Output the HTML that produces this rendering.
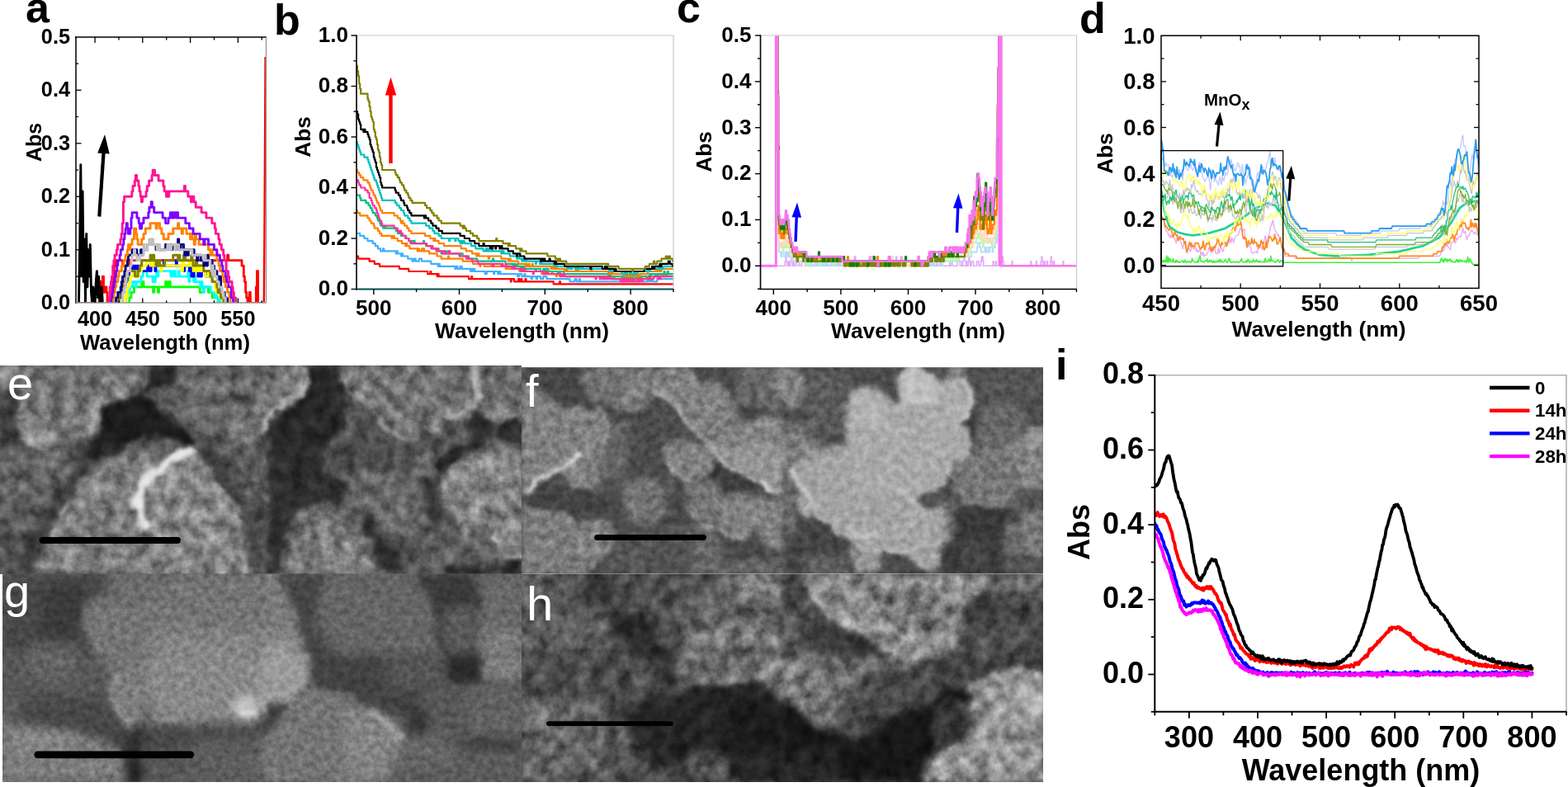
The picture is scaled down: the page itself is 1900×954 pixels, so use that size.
<!DOCTYPE html>
<html lang="en"><head><meta charset="utf-8"><title>Figure</title>
<style>
html,body{margin:0;padding:0;background:#fff;}
body{width:1900px;height:954px;overflow:hidden;}
svg{display:block;font-family:"Liberation Sans", Arial, Helvetica, sans-serif;}
</style></head><body>
<svg width="1900" height="954" viewBox="0 0 1900 954">
<rect width="1900" height="954" fill="#fff"/>
<defs>
<filter id="bl2" x="-30%" y="-30%" width="160%" height="160%" filterUnits="objectBoundingBox" color-interpolation-filters="sRGB"><feGaussianBlur stdDeviation="2"/></filter>
<filter id="bl2_5" x="-30%" y="-30%" width="160%" height="160%" filterUnits="objectBoundingBox" color-interpolation-filters="sRGB"><feGaussianBlur stdDeviation="2.5"/></filter>
<filter id="bl3" x="-30%" y="-30%" width="160%" height="160%" filterUnits="objectBoundingBox" color-interpolation-filters="sRGB"><feGaussianBlur stdDeviation="3"/></filter>
<filter id="bl4" x="-30%" y="-30%" width="160%" height="160%" filterUnits="objectBoundingBox" color-interpolation-filters="sRGB"><feGaussianBlur stdDeviation="4"/></filter>
<filter id="bl5" x="-30%" y="-30%" width="160%" height="160%" filterUnits="objectBoundingBox" color-interpolation-filters="sRGB"><feGaussianBlur stdDeviation="5"/></filter>
<filter id="bl6" x="-30%" y="-30%" width="160%" height="160%" filterUnits="objectBoundingBox" color-interpolation-filters="sRGB"><feGaussianBlur stdDeviation="6"/></filter>
<filter id="bl8" x="-30%" y="-30%" width="160%" height="160%" filterUnits="objectBoundingBox" color-interpolation-filters="sRGB"><feGaussianBlur stdDeviation="8"/></filter>
<filter id="bl10" x="-30%" y="-30%" width="160%" height="160%" filterUnits="objectBoundingBox" color-interpolation-filters="sRGB"><feGaussianBlur stdDeviation="10"/></filter>
<filter id="lump_e" filterUnits="userSpaceOnUse" x="-30" y="413" width="692" height="313" color-interpolation-filters="sRGB"><feTurbulence type="fractalNoise" baseFrequency="0.05" numOctaves="2" seed="14" result="t"/><feDisplacementMap in="SourceGraphic" in2="t" scale="14" xChannelSelector="R" yChannelSelector="G" result="d"/><feGaussianBlur in="d" stdDeviation="1.3" result="b"/><feTurbulence type="fractalNoise" baseFrequency="0.065" numOctaves="4" seed="3" result="n0"/><feColorMatrix in="n0" type="matrix" values="0.6 0 0 0 0.2  0.6 0 0 0 0.2  0.6 0 0 0 0.2  0 0 0 0 1" result="n"/><feBlend in="n" in2="b" mode="overlay"/></filter>
<filter id="lump_f" filterUnits="userSpaceOnUse" x="602" y="415.3" width="692" height="310" color-interpolation-filters="sRGB"><feTurbulence type="fractalNoise" baseFrequency="0.05" numOctaves="2" seed="16" result="t"/><feDisplacementMap in="SourceGraphic" in2="t" scale="7" xChannelSelector="R" yChannelSelector="G" result="d"/><feGaussianBlur in="d" stdDeviation="1.3" result="b"/><feTurbulence type="fractalNoise" baseFrequency="0.11" numOctaves="4" seed="5" result="n0"/><feColorMatrix in="n0" type="matrix" values="0.36 0 0 0 0.32  0.36 0 0 0 0.32  0.36 0 0 0 0.32  0 0 0 0 1" result="n"/><feBlend in="n" in2="b" mode="overlay"/></filter>
<filter id="lump_g" filterUnits="userSpaceOnUse" x="-27" y="665.6" width="689" height="312.3" color-interpolation-filters="sRGB"><feTurbulence type="fractalNoise" baseFrequency="0.03" numOctaves="2" seed="18" result="t"/><feDisplacementMap in="SourceGraphic" in2="t" scale="10" xChannelSelector="R" yChannelSelector="G" result="d"/><feGaussianBlur in="d" stdDeviation="2.5" result="b"/><feTurbulence type="fractalNoise" baseFrequency="0.13" numOctaves="3" seed="7" result="n0"/><feColorMatrix in="n0" type="matrix" values="0.3 0 0 0 0.35  0.3 0 0 0 0.35  0.3 0 0 0 0.35  0 0 0 0 1" result="n"/><feBlend in="n" in2="b" mode="overlay"/></filter>
<filter id="lump_h" filterUnits="userSpaceOnUse" x="602" y="665.4" width="692" height="312.5" color-interpolation-filters="sRGB"><feTurbulence type="fractalNoise" baseFrequency="0.05" numOctaves="2" seed="20" result="t"/><feDisplacementMap in="SourceGraphic" in2="t" scale="14" xChannelSelector="R" yChannelSelector="G" result="d"/><feGaussianBlur in="d" stdDeviation="1.6" result="b"/><feTurbulence type="fractalNoise" baseFrequency="0.06" numOctaves="4" seed="9" result="n0"/><feColorMatrix in="n0" type="matrix" values="0.7 0 0 0 0.15000000000000002  0.7 0 0 0 0.15000000000000002  0.7 0 0 0 0.15000000000000002  0 0 0 0 1" result="n"/><feBlend in="n" in2="b" mode="overlay"/></filter>
</defs>
<clipPath id="clip_e"><rect x="0" y="443" width="632" height="253"/></clipPath>
<g clip-path="url(#clip_e)">
<g filter="url(#lump_e)">
<rect x="-30" y="413" width="692" height="313" fill="#5b5b5b"/>
<g filter="url(#bl4)">
<polygon points="213.5,443.3 317.0,443.3 317.0,540.1 283.6,533.4 240.2,533.4 215.2,513.4 200.2,501.7 188.5,488.4 206.9,465.0" fill="#636363"/>
</g>
<g filter="url(#bl3)">
<polygon points="25.0,473.4 33.4,443.3 176.8,443.3 181.8,461.7 166.8,478.4 133.5,490.1 123.5,496.7 123.5,511.7 116.8,523.4 100.1,523.4 80.1,513.4 66.7,540.1 55.1,548.4 38.4,536.8 25.0,515.1" fill="#777777"/>
</g>
<g filter="url(#bl6)">
<polygon points="33.4,443.3 176.8,443.3 181.8,461.7 166.8,478.4 133.5,490.1 100.1,481.7 50.1,473.4" fill="#6c6c6c"/>
<polygon points="116.8,456.7 158.5,456.7 158.5,486.7 125.1,493.4" fill="#848484"/>
</g>
<g filter="url(#bl4)">
<polygon points="91.8,486.7 123.5,490.1 123.5,511.7 116.8,523.4 100.1,523.4 86.8,510.1" fill="#888888"/>
<polygon points="38.4,520.1 66.7,523.4 66.7,540.1 55.1,548.4 38.4,536.8" fill="#919191"/>
</g>
<g filter="url(#bl5)">
<polygon points="0.0,548.4 16.7,543.4 55.1,550.1 80.1,526.8 93.4,556.8 93.4,599.0 0.0,599.0" fill="#646464"/>
</g>
<g filter="url(#bl3)">
<polygon points="0.0,471.7 21.7,473.4 25.0,495.1 21.7,523.4 13.3,543.4 0.0,548.4" fill="#3c3c3c"/>
</g>
<g filter="url(#bl4)">
<polygon points="0.0,443.3 23.4,443.3 16.7,456.7 6.7,466.7 0.0,470.0" fill="#b6b6b6"/>
</g>
<g filter="url(#bl3)">
<polygon points="123.5,496.7 133.5,490.1 163.5,478.4 176.8,481.7 188.5,488.4 200.2,501.7 215.2,513.4 233.6,526.8 240.2,536.8 230.2,540.1 216.9,533.4 200.2,533.4 183.5,530.1 173.5,530.1 160.2,535.1 150.2,543.4 141.8,548.4 130.1,548.4 116.8,556.8 106.8,566.8 93.4,560.1 100.1,548.4 110.1,535.1 116.8,523.4 123.5,511.7" fill="#1c1c1c"/>
<polygon points="176.8,443.3 211.9,443.3 213.5,453.3 206.9,465.0 191.9,471.7 175.2,480.0 166.8,478.4 181.8,461.7" fill="#272727"/>
</g>
<g filter="url(#bl6)">
<polygon points="225.2,456.7 250.3,456.7 250.3,481.7 225.2,481.7" fill="#737373"/>
<polygon points="275.3,460.0 300.3,460.0 300.3,478.4 275.3,483.4" fill="#737373"/>
</g>
<g filter="url(#bl4)">
<polygon points="283.6,478.4 300.3,478.4 300.3,488.4 283.6,488.4" fill="#363636"/>
</g>
<g filter="url(#bl6)">
<polygon points="275.3,490.1 317.0,490.1 317.0,540.1 275.3,533.4" fill="#707070"/>
</g>
<g filter="url(#bl3)">
<polyline points="25.0,481.7 25.0,515.1 38.4,536.8 55.1,548.4" fill="none" stroke="#9c9c9c" stroke-width="6.7" stroke-linecap="round" stroke-linejoin="round"/>
<polyline points="100.1,523.4 113.4,521.7 121.8,511.7" fill="none" stroke="#9c9c9c" stroke-width="5.0" stroke-linecap="round" stroke-linejoin="round"/>
<polygon points="417.1,443.3 634.0,443.3 634.0,506.7 609.0,511.7 592.3,503.4 573.9,488.4 567.3,493.4 555.6,506.7 540.6,500.1 533.9,510.1 537.2,520.1 523.9,523.4 513.9,518.4 508.9,530.1 497.2,536.8 483.8,528.4 470.5,526.8 463.8,515.1 455.5,503.4 450.5,495.1 440.5,486.7 427.1,478.4 417.1,466.7 410.4,456.7" fill="#717171"/>
</g>
<g filter="url(#bl4)">
<polygon points="417.1,490.1 450.5,495.1 463.8,515.1 470.5,526.8 497.2,536.8 508.9,530.1 523.9,523.4 540.6,500.1 557.2,511.7 562.2,533.4 550.6,548.4 530.5,570.1 508.9,580.1 483.8,573.5 450.5,570.1 417.1,573.5 390.4,546.8 392.1,533.4 417.1,520.1" fill="#525252"/>
</g>
<g filter="url(#bl3)">
<polygon points="317.0,443.3 372.1,443.3 373.7,460.0 367.1,476.7 347.0,493.4 327.0,510.1 317.0,526.8" fill="#777777"/>
<polygon points="372.1,443.3 417.1,443.3 410.4,460.0 417.1,473.4 420.4,490.1 413.8,506.7 417.1,520.1 403.8,530.1 392.1,533.4 390.4,546.8 393.7,566.8 387.1,573.5 380.4,583.5 372.1,599.0 327.0,599.0 330.3,573.5 325.3,556.8 325.3,523.4 327.0,510.1 347.0,493.4 367.1,476.7 373.7,460.0" fill="#272727"/>
<polygon points="577.3,495.1 592.3,505.1 600.6,513.4 597.3,533.4 590.6,540.1 577.3,546.8 563.9,556.8 550.6,570.1 533.9,583.5 525.5,599.0 508.9,599.0 517.2,583.5 537.2,570.1 557.2,550.1 570.6,533.4 567.3,511.7 572.3,500.1" fill="#303030"/>
<polygon points="604.0,515.1 609.0,511.7 634.0,506.7 634.0,540.1 617.3,536.8 604.0,533.4" fill="#2d2d2d"/>
</g>
<g filter="url(#bl5)">
<polygon points="467.2,546.8 500.5,546.8 500.5,560.1 467.2,560.1" fill="#2d2d2d"/>
</g>
<g filter="url(#bl2)">
<polyline points="367.1,446.7 372.1,460.0 363.7,476.7 347.0,490.1 330.3,500.1 322.0,510.1 318.7,526.8" fill="none" stroke="#b6b6b6" stroke-width="5.0" stroke-linecap="round" stroke-linejoin="round"/>
<polyline points="413.8,456.7 423.8,473.4 440.5,485.0 453.8,496.7 463.8,518.4 477.2,526.8 493.8,535.1 508.9,530.1" fill="none" stroke="#a4a4a4" stroke-width="3.7" stroke-linecap="round" stroke-linejoin="round"/>
<polyline points="573.9,446.7 580.6,478.4 570.6,491.7 555.6,505.1 540.6,500.1" fill="none" stroke="#c1c1c1" stroke-width="4.3" stroke-linecap="round" stroke-linejoin="round"/>
<polyline points="630.6,503.4 607.3,511.7 592.3,503.4" fill="none" stroke="#ababab" stroke-width="3.7" stroke-linecap="round" stroke-linejoin="round"/>
<polyline points="517.2,521.7 533.9,520.1" fill="none" stroke="#959595" stroke-width="3.7" stroke-linecap="round" stroke-linejoin="round"/>
</g>
<g filter="url(#bl5)">
<polygon points="93.4,540.0 150.2,540.0 146.8,550.0 120.1,556.7 116.8,570.0 100.1,578.4 90.1,595.1 83.4,606.7 71.7,615.1 63.4,633.4 60.1,650.1 50.1,673.5 43.4,696.0 10.0,696.0 16.7,673.5 33.4,646.8 50.1,626.8 63.4,606.7 73.4,590.1 86.8,573.4 93.4,556.7" fill="#414141"/>
<polygon points="0.0,640.1 16.7,640.1 33.4,646.8 16.7,673.5 10.0,696.0 0.0,696.0" fill="#525252"/>
</g>
<g filter="url(#bl4)">
<polygon points="100.1,540.0 150.2,540.0 146.8,550.0 120.1,556.7 103.4,560.0" fill="#272727"/>
</g>
<g filter="url(#bl3)">
<polygon points="45.0,696.0 50.1,673.5 61.7,648.4 66.7,633.4 73.4,615.1 86.8,605.1 93.4,590.1 100.1,578.4 116.8,570.0 120.1,556.7 133.5,553.3 150.2,548.3 166.8,546.7 183.5,553.3 200.2,558.4 206.9,550.0 223.6,545.0 233.6,543.3 236.9,553.3 250.3,565.0 256.9,578.4 266.9,595.1 283.6,611.7 290.3,633.4 287.0,648.4 297.0,666.8 300.3,683.5 297.0,696.0" fill="#7b7b7b"/>
</g>
<g filter="url(#bl6)">
<polygon points="166.8,590.1 200.2,558.4 233.6,546.7 250.3,565.0 266.9,595.1 283.6,611.7 290.3,633.4 287.0,648.4 297.0,696.0 183.5,696.0 176.8,640.1" fill="#868686"/>
</g>
<g filter="url(#bl4)">
<polygon points="236.9,540.0 266.9,540.0 273.6,556.7 283.6,573.4 293.6,595.1 300.3,615.1 293.6,633.4 283.6,611.7 266.9,595.1 256.9,578.4 250.3,565.0 236.9,553.3" fill="#434343"/>
<polygon points="273.6,540.0 317.0,540.0 317.0,696.0 300.3,683.5 297.0,666.8 300.3,615.1 293.6,595.1 283.6,573.4" fill="#595959"/>
</g>
<g filter="url(#bl5)">
<polygon points="297.0,623.4 317.0,623.4 317.0,673.5 300.3,673.5" fill="#434343"/>
</g>
<g filter="url(#bl2_5)">
<polyline points="176.8,638.4 168.5,623.4 165.2,603.4 173.5,586.7 186.9,573.4 203.5,560.0 216.9,551.7 230.2,546.7" fill="none" stroke="#ededed" stroke-width="9.3" stroke-linecap="round" stroke-linejoin="round"/>
</g>
<g filter="url(#bl3)">
<polyline points="63.4,646.8 70.1,623.4 86.8,606.7" fill="none" stroke="#a4a4a4" stroke-width="4.0" stroke-linecap="round" stroke-linejoin="round"/>
<polyline points="250.3,570.0 266.9,596.7 283.6,613.4 290.3,633.4" fill="none" stroke="#a7a7a7" stroke-width="4.0" stroke-linecap="round" stroke-linejoin="round"/>
</g>
<g filter="url(#bl4)">
<polygon points="392.1,540.0 500.5,540.0 500.5,573.4 460.5,568.4 433.8,571.7 420.4,576.7 388.7,573.4" fill="#4c4c4c"/>
<polygon points="500.5,548.3 542.2,548.3 533.9,578.4 508.9,583.4 497.2,573.4" fill="#686868"/>
</g>
<g filter="url(#bl5)">
<polygon points="483.8,648.4 567.3,648.4 567.3,696.0 483.8,696.0" fill="#545454"/>
</g>
<g filter="url(#bl6)">
<polygon points="517.2,660.1 558.9,660.1 558.9,681.8 517.2,681.8" fill="#646464"/>
</g>
<g filter="url(#bl5)">
<polygon points="557.2,640.1 607.3,656.8 614.0,681.8 567.3,685.1 558.9,673.5" fill="#616161"/>
</g>
<g filter="url(#bl3)">
<polygon points="327.0,540.0 392.1,540.0 388.7,573.4 410.4,578.4 423.8,590.1 420.4,600.1 400.4,606.7 387.1,613.4 367.1,620.1 355.4,630.1 350.4,646.8 343.7,666.8 338.7,683.5 333.7,696.0 322.0,696.0 325.3,673.5 322.0,640.1 327.0,615.1 333.7,590.1 327.0,565.0" fill="#2e2e2e"/>
<polygon points="420.4,576.7 433.8,571.7 460.5,568.4 475.5,568.4 483.8,581.7 497.2,590.1 508.9,583.4 525.5,583.4 532.2,598.4 530.5,623.4 517.2,640.1 497.2,650.1 477.2,660.1 463.8,653.4 455.5,640.1 448.8,623.4 438.8,606.7 427.1,595.1" fill="#686868"/>
</g>
<g filter="url(#bl5)">
<polygon points="508.9,580.0 532.2,580.0 532.2,633.4 517.2,633.4" fill="#363636"/>
</g>
<g filter="url(#bl3)">
<polygon points="533.9,578.4 550.6,561.7 567.3,550.0 583.9,540.0 558.9,540.0 542.2,550.0 530.5,566.7" fill="#292929"/>
<polygon points="532.2,583.4 550.6,563.4 570.6,551.7 590.6,543.3 610.6,540.0 634.0,540.0 634.0,673.5 617.3,670.1 607.3,656.8 597.3,646.8 583.9,640.1 567.3,648.4 557.2,640.1 547.2,623.4 537.2,606.7" fill="#828282"/>
<polygon points="355.4,630.1 367.1,620.1 392.1,616.7 410.4,623.4 423.8,633.4 433.8,646.8 447.1,660.1 455.5,673.5 460.5,686.8 467.2,696.0 338.7,696.0 343.7,673.5 350.4,653.4" fill="#737373"/>
</g>
<g filter="url(#bl6)">
<polygon points="392.1,648.4 442.1,648.4 450.5,696.0 383.7,696.0" fill="#828282"/>
</g>
<g filter="url(#bl3)">
<polygon points="448.8,623.4 455.5,640.1 463.8,653.4 477.2,660.1 483.8,673.5 480.5,696.0 467.2,696.0 460.5,686.8 455.5,673.5 447.1,660.1 440.5,640.1 437.1,620.1" fill="#2d2d2d"/>
<polygon points="533.9,696.0 542.2,686.8 567.3,685.1 600.6,690.2 614.0,681.8 624.0,676.8 634.0,681.8 634.0,696.0" fill="#252525"/>
</g>
<g filter="url(#bl2_5)">
<polyline points="533.9,590.1 550.6,566.7 570.6,553.3" fill="none" stroke="#a4a4a4" stroke-width="3.7" stroke-linecap="round" stroke-linejoin="round"/>
<polyline points="600.6,648.4 614.0,670.1 631.5,678.5" fill="none" stroke="#c1c1c1" stroke-width="4.3" stroke-linecap="round" stroke-linejoin="round"/>
</g>
</g>
<line x1="51.5" y1="655" x2="215" y2="655" stroke="#000" stroke-width="7.8" stroke-linecap="round"/>
<text x="9" y="484" font-size="56" font-weight="normal" fill="#fff">e</text>
</g>
<clipPath id="clip_f"><rect x="632" y="445.3" width="632" height="250"/></clipPath>
<g clip-path="url(#clip_f)">
<g filter="url(#lump_f)">
<rect x="602" y="415.3" width="692" height="310" fill="#4c4c4c"/>
<g filter="url(#bl4)">
<polygon points="862.2,560.1 882.3,570.1 915.6,586.8 915.6,599.0 848.9,599.0 855.6,573.5" fill="#353535"/>
<polygon points="895.6,486.7 949.0,483.4 949.0,506.7 912.3,506.7" fill="#393939"/>
<polygon points="1149.2,616.7 1224.3,613.4 1224.3,695.2 1140.9,695.2" fill="#393939"/>
<polygon points="865.6,561.7 915.6,573.4 915.6,595.1 875.6,590.1" fill="#3d3d3d"/>
</g>
<g filter="url(#bl5)">
<polygon points="1165.9,481.7 1199.3,481.7 1199.3,531.8 1175.9,533.4" fill="#3f3f3f"/>
<polygon points="992.4,456.7 1032.4,456.7 1032.4,473.4 992.4,473.4" fill="#444444"/>
</g>
<g filter="url(#bl4)">
<polygon points="643.7,578.4 685.4,593.4 748.8,578.4 748.8,628.4 698.7,628.4 685.4,621.7 642.0,615.1" fill="#444444"/>
<polygon points="949.0,626.8 1029.1,626.8 1029.1,695.2 949.0,695.2" fill="#444444"/>
<polygon points="657.0,445.3 707.1,445.3 707.1,490.1 682.1,493.4 657.0,478.4" fill="#464646"/>
<polygon points="873.9,653.4 949.0,670.1 949.0,681.8 873.9,681.8" fill="#484848"/>
</g>
<g filter="url(#bl6)">
<polygon points="1165.9,656.8 1195.9,656.8 1195.9,690.2 1165.9,690.2" fill="#484848"/>
</g>
<g filter="url(#bl4)">
<polygon points="740.4,490.1 815.5,490.1 815.5,599.0 725.4,599.0 725.4,560.1 738.8,526.8" fill="#4c4c4c"/>
</g>
<g filter="url(#bl5)">
<polygon points="748.8,640.1 840.5,640.1 840.5,695.2 712.1,695.2 722.1,686.8 745.4,660.1" fill="#525252"/>
<polygon points="1165.9,445.3 1266.0,445.3 1266.0,490.1 1165.9,490.1" fill="#545454"/>
</g>
<g filter="url(#bl4)">
<polygon points="1222.6,590.1 1266.0,590.1 1266.0,618.4 1222.6,618.4" fill="#545454"/>
<polygon points="1215.9,673.5 1266.0,673.5 1266.0,695.2 1215.9,695.2" fill="#545454"/>
</g>
<g filter="url(#bl5)">
<polygon points="725.4,576.8 815.5,576.8 815.5,599.0 725.4,599.0" fill="#565656"/>
<polygon points="975.7,450.0 1029.1,450.0 1029.1,523.4 975.7,523.4" fill="#5b5b5b"/>
</g>
<g filter="url(#bl6)">
<polygon points="758.8,666.8 782.2,666.8 782.2,695.2 758.8,695.2" fill="#5b5b5b"/>
</g>
<g filter="url(#bl4)">
<polygon points="725.4,540.0 758.8,540.0 758.8,576.7 725.4,576.7" fill="#636363"/>
</g>
<g filter="url(#bl5)">
<polygon points="974.0,673.5 1029.1,673.5 1029.1,695.2 974.0,695.2" fill="#636363"/>
</g>
<g filter="url(#bl3)">
<polygon points="728.8,513.4 762.1,513.4 762.1,556.8 748.8,576.8 728.8,576.8" fill="#656565"/>
</g>
<g filter="url(#bl4)">
<polygon points="892.3,445.3 949.0,445.3 949.0,503.4 892.3,490.1" fill="#676767"/>
<polygon points="1185.9,495.1 1209.3,486.7 1232.6,488.4 1242.6,506.7 1242.6,599.0 1185.9,599.0 1182.6,540.1" fill="#676767"/>
<polygon points="823.9,640.1 873.9,640.1 873.9,681.8 840.5,681.8" fill="#676767"/>
</g>
<g filter="url(#bl3)">
<polygon points="682.1,566.8 702.1,550.1 725.4,548.4 725.4,583.5 715.4,591.8 698.7,590.2 685.4,581.8" fill="#6a6a6a"/>
</g>
<g filter="url(#bl4)">
<polygon points="1099.2,551.8 1149.2,551.8 1149.2,590.2 1099.2,590.2" fill="#6a6a6a"/>
<polygon points="840.5,681.8 949.0,678.5 949.0,695.2 840.5,695.2" fill="#6a6a6a"/>
<polygon points="949.0,540.0 965.7,540.0 965.7,648.4 949.0,648.4" fill="#6a6a6a"/>
<polygon points="1215.9,633.4 1242.6,633.4 1242.6,673.5 1215.9,673.5" fill="#6a6a6a"/>
</g>
<g filter="url(#bl3)">
<polygon points="685.4,556.7 725.4,550.0 725.4,593.4 690.4,591.7" fill="#6e6e6e"/>
<polygon points="702.1,445.3 790.5,445.3 792.2,465.0 788.8,483.4 775.5,495.1 765.5,500.1 748.8,493.4 732.1,490.1 715.4,483.4 703.7,465.0" fill="#727272"/>
<polygon points="805.5,543.4 812.2,533.4 832.2,530.1 848.9,540.1 858.9,553.4 855.6,566.8 842.2,573.5 832.2,583.5 818.9,573.5 812.2,560.1" fill="#727272"/>
<ellipse cx="780.5" cy="608.4" rx="26.7" ry="30.0" fill="#727272"/>
</g>
<g filter="url(#bl4)">
<polygon points="1099.2,550.0 1149.2,556.7 1145.9,586.7 1115.8,596.7 1099.2,590.1" fill="#727272"/>
<polygon points="1065.8,610.1 1089.1,610.1 1089.1,630.1 1072.5,633.4" fill="#727272"/>
</g>
<g filter="url(#bl5)">
<polygon points="792.2,450.0 832.2,445.3 832.2,481.7 805.5,483.4 792.2,473.4" fill="#747474"/>
</g>
<g filter="url(#bl3)">
<polygon points="832.2,583.4 872.2,581.7 875.6,606.7 872.2,633.4 852.2,636.8 835.5,620.1" fill="#767676"/>
<polygon points="1154.2,556.7 1172.6,550.0 1199.3,540.0 1224.3,540.0 1232.6,573.4 1236.0,590.1 1222.6,611.7 1202.6,613.4 1182.6,610.1 1165.9,603.4 1155.9,595.1 1152.5,573.4" fill="#767676"/>
</g>
<g filter="url(#bl5)">
<polygon points="949.0,515.1 982.4,515.1 982.4,573.5 949.0,573.5" fill="#7a7a7a"/>
</g>
<g filter="url(#bl3)">
<polygon points="1236.0,618.4 1266.0,618.4 1266.0,673.5 1242.6,673.5" fill="#7a7a7a"/>
</g>
<g filter="url(#bl4)">
<polygon points="1132.5,606.7 1155.9,606.7 1155.9,656.8 1139.2,656.8" fill="#7a7a7a"/>
</g>
<g filter="url(#bl2_5)">
<polygon points="632.0,606.7 642.0,615.1 665.4,618.4 685.4,621.7 695.4,633.4 702.1,650.1 708.7,666.8 712.1,695.2 632.0,695.2" fill="#7c7c7c"/>
</g>
<g filter="url(#bl3)">
<polygon points="862.2,506.7 888.9,503.4 912.3,513.4 912.3,556.8 898.9,573.5 878.9,563.5 865.6,546.8 855.6,533.4" fill="#7d7d7d"/>
</g>
<g filter="url(#bl5)">
<polygon points="748.8,453.3 790.5,453.3 788.8,483.4 775.5,495.1 758.8,495.1" fill="#7f7f7f"/>
</g>
<g filter="url(#bl3)">
<polygon points="1229.3,533.4 1246.0,518.4 1266.0,518.4 1266.0,590.2 1242.6,590.2 1232.6,566.8" fill="#7f7f7f"/>
</g>
<g filter="url(#bl2_5)">
<polygon points="632.0,460.0 648.7,470.0 665.4,481.7 682.1,493.4 703.7,491.7 722.1,498.4 735.4,511.7 738.8,526.8 732.1,543.4 725.4,560.1 725.4,583.5 715.4,591.8 698.7,590.2 685.4,581.8 678.7,566.8 665.4,573.5 652.0,581.8 642.0,599.0 632.0,599.0" fill="#818181"/>
<polygon points="792.2,450.0 815.5,446.7 832.2,445.3 848.9,460.0 872.2,465.0 882.3,476.7 892.3,490.1 888.9,506.7 872.2,510.1 862.2,523.4 848.9,526.8 838.9,518.4 828.9,503.4 818.9,491.7 805.5,483.4 792.2,473.4" fill="#818181"/>
<polygon points="702.1,633.4 718.8,626.8 735.4,631.8 747.1,643.4 745.4,660.1 735.4,673.5 722.1,686.8 712.1,690.2 708.7,666.8" fill="#818181"/>
</g>
<g filter="url(#bl3)">
<polygon points="805.5,540.0 865.6,540.0 865.6,565.0 848.9,581.7 823.9,578.4 808.8,560.0" fill="#818181"/>
<polygon points="915.6,603.4 949.0,603.4 949.0,670.1 932.3,666.8 915.6,640.1" fill="#818181"/>
<ellipse cx="959.0" cy="470.0" rx="16.7" ry="25.0" fill="#838383"/>
<polygon points="872.2,603.4 892.3,595.1 919.0,603.4 919.0,633.4 905.6,653.4 882.3,650.1 872.2,633.4" fill="#838383"/>
<polygon points="1224.3,540.0 1266.0,540.0 1266.0,590.1 1239.3,588.4 1232.6,573.4" fill="#858585"/>
<polygon points="898.9,520.1 915.6,506.7 932.3,503.4 949.0,506.7 949.0,599.0 935.6,599.0 922.3,581.8 905.6,556.8" fill="#878787"/>
<ellipse cx="945.6" cy="461.7" rx="8.3" ry="13.3" fill="#898989"/>
</g>
<g filter="url(#bl4)">
<polygon points="969.0,536.8 999.1,536.8 999.1,556.8 969.0,556.8" fill="#8b8b8b"/>
<polygon points="990.7,540.1 1032.4,540.1 1032.4,599.0 990.7,599.0" fill="#8d8d8d"/>
</g>
<g filter="url(#bl6)">
<polygon points="1082.5,493.4 1149.2,493.4 1149.2,548.4 1082.5,548.4" fill="#909090"/>
</g>
<g filter="url(#bl3)">
<polygon points="862.2,540.0 949.0,540.0 949.0,598.4 922.3,583.4 892.3,570.0 868.9,556.7" fill="#949494"/>
<polygon points="1029.1,660.1 1049.1,670.1 1065.8,666.8 1069.1,683.5 1059.1,695.2 1039.1,695.2 1029.1,673.5" fill="#949494"/>
</g>
<g filter="url(#bl5)">
<polygon points="1246.0,520.1 1266.0,520.1 1266.0,540.1 1246.0,540.1" fill="#989898"/>
</g>
<g filter="url(#bl3)">
<polygon points="959.0,560.1 990.7,560.1 990.7,599.0 970.7,599.0 959.0,573.5" fill="#989898"/>
</g>
<g filter="url(#bl4)">
<polygon points="1149.2,445.3 1169.2,445.3 1169.2,453.3 1149.2,456.7" fill="#989898"/>
</g>
<g filter="url(#bl3)">
<polygon points="1109.2,670.1 1125.8,656.8 1137.5,666.8 1137.5,683.5 1125.8,693.5 1112.5,686.8" fill="#989898"/>
</g>
<g filter="url(#bl2_5)">
<polygon points="960.7,568.4 972.4,560.0 992.4,550.0 1015.7,543.3 1032.4,540.0 1170.9,540.0 1172.6,550.0 1165.9,558.4 1154.2,556.7 1152.5,573.4 1145.9,586.7 1132.5,591.7 1115.8,596.7 1109.2,603.4 1122.5,620.1 1132.5,613.4 1142.5,620.1 1145.9,633.4 1145.9,653.4 1139.2,666.8 1137.5,683.5 1125.8,693.5 1112.5,686.8 1095.8,670.1 1075.8,666.8 1049.1,670.1 1035.8,656.8 1015.7,650.1 1009.1,636.8 989.0,626.8 970.7,626.8 965.7,606.7 972.4,593.4 962.3,580.0" fill="#a3a3a3"/>
<polygon points="1029.1,490.1 1032.4,476.7 1042.4,471.7 1062.4,473.4 1075.8,483.4 1082.5,491.7 1089.1,486.7 1089.1,456.7 1095.8,446.7 1112.5,445.3 1125.8,453.3 1140.9,465.0 1155.9,460.0 1164.2,456.7 1174.2,470.0 1177.6,486.7 1172.6,503.4 1162.5,511.7 1170.9,518.4 1175.9,533.4 1172.6,548.4 1165.9,558.5 1154.2,556.8 1150.9,573.5 1145.9,586.8 1132.5,596.8 1115.8,599.0 1029.1,599.0 1032.4,573.5 1027.4,556.8 1027.4,540.1 1024.1,523.4 1025.7,506.7" fill="#a9a9a9"/>
</g>
<g filter="url(#bl4)">
<polygon points="1140.9,465.0 1164.2,456.7 1174.2,470.0 1177.6,486.7 1172.6,503.4 1162.5,511.7 1140.9,506.7" fill="#ababab"/>
</g>
<g filter="url(#bl5)">
<polygon points="1029.1,490.1 1032.4,476.7 1042.4,471.7 1062.4,473.4 1075.8,483.4 1075.8,523.4 1029.1,523.4" fill="#b1b1b1"/>
</g>
<g filter="url(#bl4)">
<polygon points="1089.1,456.7 1095.8,446.7 1112.5,445.3 1125.8,453.3 1140.9,465.0 1132.5,490.1 1089.1,488.4" fill="#c0c0c0"/>
</g>
<g filter="url(#bl3)">
<polyline points="690.4,588.4 718.8,590.1" fill="none" stroke="#8d8d8d" stroke-width="4.0" stroke-linecap="round" stroke-linejoin="round"/>
</g>
<g filter="url(#bl2_5)">
<polyline points="805.5,543.4 808.8,556.8 818.9,573.5" fill="none" stroke="#989898" stroke-width="3.7" stroke-linecap="round" stroke-linejoin="round"/>
<polyline points="1165.9,605.1 1202.6,613.4 1222.6,611.7" fill="none" stroke="#989898" stroke-width="3.3" stroke-linecap="round" stroke-linejoin="round"/>
<polyline points="725.4,496.7 737.1,513.4 737.1,530.1" fill="none" stroke="#a0a0a0" stroke-width="4.3" stroke-linecap="round" stroke-linejoin="round"/>
<polyline points="687.1,623.4 702.1,650.1 710.4,673.5" fill="none" stroke="#a0a0a0" stroke-width="4.0" stroke-linecap="round" stroke-linejoin="round"/>
</g>
<g filter="url(#bl2)">
<polyline points="808.8,561.7 823.9,578.4 840.5,583.4" fill="none" stroke="#a7a7a7" stroke-width="3.3" stroke-linecap="round" stroke-linejoin="round"/>
<polyline points="837.2,620.1 852.2,636.8 872.2,640.1 882.3,650.1 905.6,655.1" fill="none" stroke="#a7a7a7" stroke-width="3.3" stroke-linecap="round" stroke-linejoin="round"/>
</g>
<g filter="url(#bl2_5)">
<polyline points="1239.3,588.4 1249.3,590.1" fill="none" stroke="#a7a7a7" stroke-width="3.3" stroke-linecap="round" stroke-linejoin="round"/>
</g>
<g filter="url(#bl2)">
<polyline points="792.2,473.4 808.8,485.0 822.2,495.1 832.2,511.7 843.9,523.4 855.6,533.4 865.6,546.8 878.9,563.5 898.9,573.5 915.6,583.5" fill="none" stroke="#bebebe" stroke-width="4.0" stroke-linecap="round" stroke-linejoin="round"/>
<polyline points="1172.6,520.1 1175.9,533.4 1172.6,548.4 1165.9,557.6" fill="none" stroke="#c6c6c6" stroke-width="3.3" stroke-linecap="round" stroke-linejoin="round"/>
<polyline points="1082.5,590.1 1105.8,606.7 1120.8,621.7 1109.2,633.4 1092.5,636.8" fill="none" stroke="#c6c6c6" stroke-width="3.3" stroke-linecap="round" stroke-linejoin="round"/>
<polyline points="985.7,606.7 989.0,625.1 1009.1,636.8 1015.7,648.4" fill="none" stroke="#c6c6c6" stroke-width="3.0" stroke-linecap="round" stroke-linejoin="round"/>
<polyline points="1165.9,458.4 1175.1,473.4 1176.7,488.4 1170.9,503.4 1162.5,510.9" fill="none" stroke="#cdcdcd" stroke-width="3.7" stroke-linecap="round" stroke-linejoin="round"/>
<polyline points="1035.8,656.8 1049.1,669.3 1075.8,666.0 1095.8,669.3 1112.5,663.5" fill="none" stroke="#cdcdcd" stroke-width="3.3" stroke-linecap="round" stroke-linejoin="round"/>
<polyline points="960.7,570.1 970.7,590.2" fill="none" stroke="#d5d5d5" stroke-width="4.0" stroke-linecap="round" stroke-linejoin="round"/>
<polyline points="1025.7,640.1 1042.4,650.1 1065.8,646.8" fill="none" stroke="#d5d5d5" stroke-width="3.7" stroke-linecap="round" stroke-linejoin="round"/>
<polyline points="960.7,570.0 972.4,593.4 985.7,606.7" fill="none" stroke="#d5d5d5" stroke-width="3.7" stroke-linecap="round" stroke-linejoin="round"/>
<polyline points="702.1,550.1 682.1,566.8 665.4,575.1 648.7,583.5 638.7,596.8" fill="none" stroke="#d9d9d9" stroke-width="5.0" stroke-linecap="round" stroke-linejoin="round"/>
<polyline points="698.7,550.0 682.1,566.7 665.4,575.0 648.7,583.4 640.3,595.1" fill="none" stroke="#dcdcdc" stroke-width="4.7" stroke-linecap="round" stroke-linejoin="round"/>
<polyline points="922.3,581.8 932.3,595.2" fill="none" stroke="#e4e4e4" stroke-width="4.3" stroke-linecap="round" stroke-linejoin="round"/>
<polyline points="922.3,581.7 935.6,595.1" fill="none" stroke="#e4e4e4" stroke-width="4.3" stroke-linecap="round" stroke-linejoin="round"/>
</g>
</g>
<line x1="723.6" y1="651.4" x2="852.4" y2="651.4" stroke="#000" stroke-width="7" stroke-linecap="round"/>
<text x="637" y="492.5" font-size="56" font-weight="normal" fill="#fff">f</text>
</g>
<clipPath id="clip_g"><rect x="3" y="695.6" width="629" height="252.3"/></clipPath>
<g clip-path="url(#clip_g)">
<g filter="url(#lump_g)">
<rect x="-27" y="665.6" width="689" height="312.3" fill="#5f5f5f"/>
<g filter="url(#bl5)">
<polygon points="0.0,695.8 133.5,695.8 110.1,726.7 100.1,748.4 103.4,773.4 120.1,798.4 0.0,798.4" fill="#484848"/>
</g>
<g filter="url(#bl8)">
<polygon points="50.1,706.7 103.4,706.7 100.1,773.4 50.1,773.4" fill="#3a3a3a"/>
</g>
<g filter="url(#bl5)">
<polygon points="133.5,695.8 191.9,695.8 191.9,726.7 150.2,728.4 133.5,715.0" fill="#6d6d6d"/>
</g>
<g filter="url(#bl4)">
<polygon points="100.1,748.4 110.1,726.7 126.8,723.4 150.2,728.4 191.9,723.4 200.2,700.0 216.9,695.8 317.0,695.8 317.0,849.0 133.5,849.0 133.5,823.5 120.1,798.4 103.4,773.4" fill="#747474"/>
</g>
<g filter="url(#bl10)">
<polygon points="183.5,765.1 317.0,765.1 317.0,849.0 183.5,849.0" fill="#868686"/>
</g>
<g filter="url(#bl6)">
<polygon points="0.0,790.1 120.1,798.4 133.5,823.5 133.5,849.0 0.0,849.0" fill="#575757"/>
</g>
<g filter="url(#bl8)">
<polygon points="33.4,783.4 93.4,783.4 93.4,823.5 33.4,823.5" fill="#656565"/>
</g>
<g filter="url(#bl4)">
<polyline points="101.8,748.4 106.8,731.7" fill="none" stroke="#787878" stroke-width="5.0" stroke-linecap="round" stroke-linejoin="round"/>
</g>
<g filter="url(#bl5)">
<polygon points="333.7,695.8 400.4,695.8 387.1,731.7 383.7,765.1 400.4,790.1 433.8,806.8 467.2,823.5 500.5,849.0 358.7,849.0 373.7,815.1 360.4,756.7 350.4,723.4" fill="#464646"/>
</g>
<g filter="url(#bl4)">
<polygon points="317.0,695.8 333.7,695.8 350.4,723.4 360.4,756.7 367.1,790.1 373.7,815.1 358.7,840.2 350.4,849.0 317.0,849.0" fill="#7c7c7c"/>
</g>
<g filter="url(#bl8)">
<polygon points="317.0,773.4 358.7,773.4 367.1,806.8 358.7,840.2 317.0,849.0" fill="#959595"/>
</g>
<g filter="url(#bl4)">
<polygon points="400.4,695.8 500.5,695.8 517.2,715.0 523.9,748.4 530.5,790.1 540.6,816.8 550.6,849.0 500.5,849.0 467.2,823.5 433.8,798.4 403.8,773.4 387.1,748.4 390.4,715.0" fill="#656565"/>
<polygon points="500.5,695.8 567.3,695.8 583.9,706.7 593.9,723.4 587.3,740.1 577.3,783.4 583.9,810.1 567.3,816.8 547.2,806.8 533.9,790.1 527.2,756.7 517.2,715.0" fill="#3a3a3a"/>
</g>
<g filter="url(#bl5)">
<polygon points="533.9,740.1 558.9,731.7 583.9,740.1 577.3,783.4 567.3,803.4 547.2,796.8 533.9,773.4" fill="#595959"/>
<polygon points="547.2,803.4 577.3,803.4 577.3,823.5 547.2,823.5" fill="#292929"/>
</g>
<g filter="url(#bl4)">
<polygon points="577.3,703.3 634.0,703.3 634.0,826.8 587.3,816.8 577.3,783.4 587.3,740.1" fill="#696969"/>
</g>
<g filter="url(#bl8)">
<polygon points="587.3,765.1 634.0,765.1 634.0,815.1 587.3,815.1" fill="#7c7c7c"/>
</g>
<g filter="url(#bl5)">
<polygon points="550.6,823.5 634.0,823.5 634.0,849.0 550.6,849.0" fill="#4e4e4e"/>
</g>
<g filter="url(#bl6)">
<polygon points="25.0,845.1 150.2,845.1 166.8,878.4 317.0,878.4 317.0,911.8 150.2,911.8 116.8,895.1 25.0,878.4" fill="#484848"/>
<polygon points="176.8,795.0 317.0,795.0 317.0,875.1 183.5,878.4" fill="#888888"/>
</g>
<g filter="url(#bl5)">
<polygon points="0.0,881.8 83.4,885.1 116.8,898.4 150.2,911.8 150.2,947.7 0.0,947.7" fill="#7c7c7c"/>
</g>
<g filter="url(#bl8)">
<polygon points="16.7,885.1 83.4,888.4 83.4,911.8 16.7,911.8" fill="#888888"/>
</g>
<g filter="url(#bl6)">
<polygon points="233.6,895.1 317.0,895.1 317.0,947.7 233.6,947.7" fill="#5d5d5d"/>
<polygon points="173.5,911.8 233.6,911.8 233.6,947.7 173.5,947.7" fill="#555555"/>
</g>
<g filter="url(#bl5)">
<polygon points="150.2,885.1 173.5,885.1 173.5,947.7 150.2,947.7" fill="#2f2f2f"/>
</g>
<g filter="url(#bl4)">
<polygon points="156.8,928.5 170.2,928.5 170.2,947.7 156.8,947.7" fill="#1f1f1f"/>
</g>
<g filter="url(#bl3)">
<polygon points="135.1,828.4 143.5,811.7 163.5,813.4 176.8,836.7 175.2,861.7 163.5,880.1 150.2,878.4 140.1,861.7" fill="#7e7e7e"/>
</g>
<g filter="url(#bl4)">
<ellipse cx="300.3" cy="856.7" rx="16.7" ry="15.0" fill="#c2c2c2"/>
</g>
<g filter="url(#bl2_5)">
<polyline points="293.6,863.4 303.6,866.7 313.6,863.4" fill="none" stroke="#f1f1f1" stroke-width="5.0" stroke-linecap="round" stroke-linejoin="round"/>
</g>
<g filter="url(#bl3)">
<polyline points="136.0,820.0 135.1,845.1 143.5,866.7 156.8,880.1" fill="none" stroke="#9f9f9f" stroke-width="4.0" stroke-linecap="round" stroke-linejoin="round"/>
</g>
<g filter="url(#bl5)">
<polygon points="373.7,795.0 533.9,795.0 542.2,811.7 508.9,870.1 450.5,860.1 400.4,836.7 367.1,833.4" fill="#424242"/>
</g>
<g filter="url(#bl6)">
<polygon points="467.2,795.0 542.2,795.0 542.2,836.7 467.2,836.7" fill="#555555"/>
</g>
<g filter="url(#bl5)">
<polygon points="542.2,795.0 583.9,795.0 583.9,828.4 542.2,828.4" fill="#2b2b2b"/>
<polygon points="583.9,795.0 634.0,795.0 634.0,825.0 583.9,825.0" fill="#7c7c7c"/>
</g>
<g filter="url(#bl6)">
<polygon points="508.9,836.7 577.3,836.7 577.3,895.1 508.9,895.1" fill="#575757"/>
<polygon points="567.3,828.4 634.0,828.4 634.0,903.4 567.3,903.4" fill="#616161"/>
</g>
<g filter="url(#bl5)">
<polygon points="492.2,861.7 517.2,861.7 517.2,895.1 492.2,895.1" fill="#363636"/>
<polygon points="550.6,895.1 634.0,895.1 634.0,908.4 550.6,908.4" fill="#3a3a3a"/>
<polygon points="483.8,903.4 634.0,908.4 634.0,947.7 467.2,947.7" fill="#5b5b5b"/>
</g>
<g filter="url(#bl8)">
<polygon points="483.8,895.1 550.6,898.4 550.6,928.5 483.8,928.5" fill="#676767"/>
</g>
<g filter="url(#bl5)">
<polygon points="317.0,850.1 350.4,850.1 350.4,895.1 317.0,895.1" fill="#3e3e3e"/>
</g>
<g filter="url(#bl4)">
<polygon points="317.0,795.0 373.7,795.0 373.7,828.4 358.7,850.1 317.0,850.1" fill="#9b9b9b"/>
</g>
<g filter="url(#bl3)">
<polygon points="317.0,895.1 333.7,878.4 350.4,853.4 367.1,833.4 400.4,836.7 425.4,845.1 450.5,860.1 487.2,895.1 480.5,911.8 470.5,931.8 467.2,947.7 317.0,947.7" fill="#747474"/>
</g>
<g filter="url(#bl8)">
<polygon points="417.1,861.7 450.5,861.7 483.8,895.1 470.5,931.8 467.2,945.2 417.1,945.2" fill="#848484"/>
</g>
<g filter="url(#bl2_5)">
<polyline points="452.1,861.7 467.2,875.1 486.3,895.1" fill="none" stroke="#cecece" stroke-width="4.3" stroke-linecap="round" stroke-linejoin="round"/>
</g>
<g filter="url(#bl3)">
<polyline points="317.0,848.4 323.7,865.1" fill="none" stroke="#e9e9e9" stroke-width="5.0" stroke-linecap="round" stroke-linejoin="round"/>
</g>
</g>
<line x1="45.8" y1="914.8" x2="230.8" y2="914.8" stroke="#000" stroke-width="8.8" stroke-linecap="round"/>
<text x="5" y="736" font-size="56" font-weight="normal" fill="#fff">g</text>
</g>
<clipPath id="clip_h"><rect x="632" y="695.4" width="632" height="252.5"/></clipPath>
<g clip-path="url(#clip_h)">
<g filter="url(#lump_h)">
<rect x="602" y="665.4" width="692" height="312.5" fill="#4a4a4a"/>
<g filter="url(#bl6)">
<polygon points="632.0,695.3 707.1,695.3 707.1,740.1 632.0,740.1" fill="#555555"/>
</g>
<g filter="url(#bl5)">
<polygon points="632.0,695.3 657.0,695.3 657.0,723.4 632.0,731.7" fill="#6f6f6f"/>
</g>
<g filter="url(#bl6)">
<polygon points="632.0,736.7 698.7,740.1 740.4,756.7 740.4,806.8 632.0,806.8" fill="#5d5d5d"/>
<polygon points="740.4,695.3 832.2,695.3 832.2,743.4 740.4,743.4" fill="#4e4e4e"/>
</g>
<g filter="url(#bl5)">
<polygon points="707.1,695.3 740.4,695.3 740.4,731.7 707.1,731.7" fill="#343434"/>
</g>
<g filter="url(#bl4)">
<polygon points="740.4,750.1 758.8,743.4 782.2,743.4 795.5,760.1 788.8,783.4 765.5,783.4 742.1,773.4" fill="#292929"/>
</g>
<g filter="url(#bl5)">
<polygon points="765.5,783.4 815.5,783.4 815.5,831.8 782.2,831.8" fill="#2d2d2d"/>
<polygon points="823.9,740.1 848.9,723.4 873.9,706.7 882.3,695.3 949.0,695.3 949.0,823.5 898.9,823.5 848.9,815.1 823.9,806.8" fill="#656565"/>
</g>
<g filter="url(#bl6)">
<polygon points="882.3,695.3 949.0,695.3 949.0,723.4 882.3,723.4" fill="#7c7c7c"/>
</g>
<g filter="url(#bl8)">
<polygon points="832.2,765.1 949.0,765.1 949.0,783.4 832.2,783.4" fill="#787878"/>
</g>
<g filter="url(#bl6)">
<polygon points="632.0,806.8 765.5,806.8 765.5,849.0 632.0,849.0" fill="#4a4a4a"/>
</g>
<g filter="url(#bl5)">
<polygon points="832.2,823.5 924.0,823.5 924.0,849.0 832.2,849.0" fill="#272727"/>
<polygon points="924.0,806.8 949.0,806.8 949.0,849.0 924.0,849.0" fill="#6d6d6d"/>
<polygon points="949.0,695.3 974.0,695.3 985.7,726.7 1002.4,745.1 949.0,740.1" fill="#464646"/>
</g>
<g filter="url(#bl6)">
<polygon points="949.0,740.1 1002.4,745.1 1024.1,760.1 1032.4,849.0 949.0,849.0" fill="#555555"/>
<polygon points="982.4,748.4 1024.1,760.1 1049.1,773.4 1049.1,790.1 982.4,790.1" fill="#3a3a3a"/>
<polygon points="1157.5,715.0 1266.0,715.0 1266.0,815.1 1157.5,815.1" fill="#4e4e4e"/>
<polygon points="1174.2,720.0 1207.6,720.0 1207.6,756.7 1174.2,756.7" fill="#383838"/>
<polygon points="1232.6,740.1 1266.0,740.1 1266.0,806.8 1232.6,806.8" fill="#464646"/>
</g>
<g filter="url(#bl5)">
<polygon points="1199.3,695.3 1266.0,695.3 1266.0,723.4 1199.3,723.4" fill="#656565"/>
</g>
<g filter="url(#bl3)">
<polygon points="974.0,695.3 1199.3,695.3 1190.9,715.0 1174.2,731.7 1165.9,756.7 1157.5,781.8 1149.2,798.4 1115.8,798.4 1099.2,806.8 1082.5,803.4 1074.1,783.4 1049.1,773.4 1024.1,760.1 1002.4,745.1 985.7,726.7 975.7,710.0" fill="#8c8c8c"/>
</g>
<g filter="url(#bl10)">
<polygon points="1049.1,706.7 1165.9,706.7 1149.2,765.1 1082.5,765.1" fill="#767676"/>
</g>
<g filter="url(#bl4)">
<polygon points="1024.1,790.1 1049.1,775.1 1074.1,786.8 1085.8,806.8 1107.5,810.1 1124.2,798.4 1149.2,803.4 1157.5,815.1 1174.2,823.5 1174.2,849.0 1015.7,849.0" fill="#2d2d2d"/>
</g>
<g filter="url(#bl5)">
<polygon points="1132.5,831.8 1174.2,831.8 1174.2,849.0 1132.5,849.0" fill="#101010"/>
</g>
<g filter="url(#bl3)">
<polygon points="1174.2,831.8 1190.9,823.5 1215.9,815.1 1232.6,806.8 1249.3,815.1 1266.0,823.5 1266.0,849.0 1182.6,849.0" fill="#959595"/>
<polyline points="975.7,706.7 1004.1,745.1 1049.1,770.1 1079.1,786.8" fill="none" stroke="#afafaf" stroke-width="5.0" stroke-linecap="round" stroke-linejoin="round"/>
</g>
<g filter="url(#bl4)">
<polyline points="965.7,790.1 982.4,815.1 999.1,840.2" fill="none" stroke="#7c7c7c" stroke-width="4.3" stroke-linecap="round" stroke-linejoin="round"/>
</g>
<g filter="url(#bl6)">
<polygon points="648.7,795.0 798.8,795.0 798.8,845.1 748.8,861.7 648.7,861.7" fill="#4a4a4a"/>
<polygon points="632.0,845.1 732.1,850.1 748.8,878.4 768.8,903.4 782.2,928.5 782.2,947.7 632.0,947.7" fill="#616161"/>
</g>
<g filter="url(#bl8)">
<polygon points="632.0,850.1 682.1,850.1 682.1,895.1 632.0,895.1" fill="#6d6d6d"/>
</g>
<g filter="url(#bl5)">
<polygon points="823.9,795.0 949.0,795.0 949.0,828.4 882.3,831.7 823.9,828.4" fill="#6d6d6d"/>
<polygon points="915.6,803.3 949.0,803.3 949.0,836.7 924.0,831.7" fill="#8e8e8e"/>
</g>
<g filter="url(#bl4)">
<polygon points="748.8,861.7 782.2,848.4 815.5,845.1 840.5,841.7 882.3,831.7 915.6,828.4 949.0,845.1 949.0,947.7 832.2,947.7 823.9,928.5 782.2,928.5 768.8,903.4 765.5,881.8" fill="#252525"/>
</g>
<g filter="url(#bl8)">
<polygon points="882.3,845.1 949.0,845.1 949.0,911.8 882.3,911.8" fill="#1b1b1b"/>
</g>
<g filter="url(#bl6)">
<polygon points="732.1,903.4 782.2,903.4 782.2,947.7 732.1,947.7" fill="#4e4e4e"/>
<polygon points="832.2,915.1 882.3,915.1 882.3,947.7 832.2,947.7" fill="#555555"/>
</g>
<g filter="url(#bl4)">
<polygon points="949.0,795.0 1082.5,795.0 1079.1,811.7 1049.1,820.0 1024.1,853.4 999.1,878.4 982.4,870.1 965.7,853.4 949.0,845.1" fill="#6d6d6d"/>
</g>
<g filter="url(#bl8)">
<polygon points="949.0,811.7 999.1,811.7 999.1,861.7 965.7,853.4 949.0,845.1" fill="#7e7e7e"/>
</g>
<g filter="url(#bl4)">
<polygon points="1024.1,853.4 1049.1,820.0 1082.5,811.7 1115.8,803.3 1149.2,811.7 1149.2,836.7 1115.8,853.4 1082.5,870.1 1049.1,895.1 1032.4,895.1" fill="#4a4a4a"/>
</g>
<g filter="url(#bl5)">
<polygon points="1149.2,795.0 1266.0,795.0 1266.0,815.0 1215.9,811.7 1174.2,836.7 1149.2,836.7" fill="#424242"/>
</g>
<g filter="url(#bl4)">
<polygon points="949.0,848.4 990.7,881.8 1032.4,898.4 1082.5,871.7 1115.8,853.4 1154.2,836.7 1165.9,850.1 1132.5,878.4 1132.5,903.4 1115.8,936.8 1115.8,947.7 949.0,947.7" fill="#171717"/>
</g>
<g filter="url(#bl8)">
<polygon points="949.0,911.8 1015.7,911.8 1015.7,947.7 949.0,947.7" fill="#272727"/>
</g>
<g filter="url(#bl5)">
<polygon points="1132.5,850.1 1165.9,850.1 1182.6,878.4 1162.5,901.8 1140.9,911.8 1132.5,903.4" fill="#383838"/>
</g>
<g filter="url(#bl4)">
<polygon points="1082.5,795.0 1115.8,795.0 1115.8,805.0 1082.5,808.3" fill="#8c8c8c"/>
</g>
<g filter="url(#bl3)">
<polygon points="1174.2,836.7 1190.9,825.0 1215.9,811.7 1232.6,808.3 1249.3,815.0 1266.0,811.7 1266.0,947.7 1119.2,947.7 1120.8,936.8 1140.9,911.8 1162.5,901.8 1182.6,878.4 1179.2,858.4" fill="#939393"/>
</g>
<g filter="url(#bl8)">
<polygon points="1232.6,828.4 1266.0,828.4 1266.0,878.4 1232.6,878.4" fill="#ababab"/>
</g>
</g>
<line x1="665" y1="877.1" x2="813" y2="877.1" stroke="#000" stroke-width="5.8" stroke-linecap="round"/>
<text x="638" y="751.7" font-size="58" font-weight="normal" fill="#fff">h</text>
</g>
<g id="pa">
<clipPath id="ca"><rect x="92" y="45" width="231" height="322"/></clipPath>
<g clip-path="url(#ca)">
<path d="M92.0 367.3H120.9V341.5H122.0V367.3H123.2V347.9H124.3V335.1H125.5V354.4H126.7V347.9H129.0V354.4H130.1V367.3H134.7V354.4H135.9V347.9H137.0V335.1H138.2V322.1H140.5V315.7H148.6V322.1H156.7V315.7H182.1V322.1H183.2V315.7H275.6V309.2H276.8V315.7H293.0V322.1H295.3V335.1H296.4V341.5H297.6V354.4H298.7V360.9H299.9V367.3H301.1V360.9H302.2V354.4H303.4V367.3H310.3V347.9H311.4V328.6H312.6V367.3H317.2" fill="none" stroke="#ff0000" stroke-width="2.8" stroke-linejoin="round" />
<path d="M154.4 367.3H156.7V360.9H159.0V354.4H162.5V347.9H171.7V341.5H174.0V347.9H185.6V354.4H186.7V347.9H191.3V354.4H192.5V347.9H200.6V341.5H201.7V347.9H204.0V341.5H206.3V347.9H242.2V354.4H246.8V347.9H252.5V354.4H257.2V360.9H264.1V367.3H266.4" fill="none" stroke="#00ff00" stroke-width="2.8" stroke-linejoin="round" />
<path d="M151.5 367.3H152.6V360.9H154.9V354.4H157.3V347.9H160.7V341.5H164.2V347.9H165.3V341.5H171.1V335.1H173.4V328.6H178.0V335.1H185.0V341.5H186.1V335.1H187.3V341.5H188.4V335.1H189.6V328.6H190.8V335.1H191.9V328.6H206.9V335.1H208.1V328.6H210.4V335.1H211.5V328.6H212.7V335.1H216.2V328.6H217.3V335.1H227.7V328.6H228.9V341.5H230.0V335.1H234.6V341.5H235.8V335.1H237.0V341.5H242.7V347.9H243.9V341.5H245.0V347.9H246.2V354.4H247.3V347.9H255.4V354.4H260.1V360.9H261.2V354.4H262.4V360.9H264.7V367.3H265.8V360.9H267.0V367.3H269.3" fill="none" stroke="#00ffff" stroke-width="2.8" stroke-linejoin="round" />
<path d="M142.8 367.3H144.0V360.9H146.3V354.4H147.4V347.9H152.1V341.5H154.4V335.1H156.7V328.6H160.1V322.1H162.5V328.6H163.6V322.1H165.9V328.6H167.1V322.1H168.2V328.6H178.6V322.1H180.9V328.6H183.2V322.1H186.7V315.7H187.9V328.6H189.0V322.1H198.3V315.7H199.4V322.1H213.3V315.7H214.4V322.1H222.5V328.6H223.7V322.1H229.4V328.6H230.6V322.1H231.8V335.1H232.9V328.6H234.1V335.1H235.2V328.6H237.5V322.1H238.7V328.6H239.8V335.1H241.0V322.1H242.2V335.1H244.5V328.6H249.1V335.1H250.2V328.6H251.4V335.1H257.2V341.5H261.8V347.9H264.1V354.4H267.6V360.9H271.0V367.3" fill="none" stroke="#0000ff" stroke-width="2.8" stroke-linejoin="round" />
<path d="M149.8 367.3H152.1V354.4H153.2V360.9H154.4V347.9H156.7V341.5H157.8V335.1H161.3V328.6H164.8V335.1H168.2V328.6H171.7V322.1H177.5V315.7H182.1V322.1H184.4V315.7H185.6V322.1H187.9V315.7H189.0V322.1H192.5V315.7H193.6V322.1H194.8V328.6H195.9V322.1H220.2V328.6H221.4V315.7H222.5V322.1H229.4V315.7H230.6V322.1H232.9V315.7H234.1V328.6H235.2V322.1H237.5V328.6H239.8V322.1H242.2V328.6H244.5V322.1H245.6V328.6H249.1V335.1H252.5V328.6H253.7V335.1H257.2V341.5H260.6V347.9H261.8V354.4H262.9V347.9H264.1V354.4H266.4V360.9H269.9V367.3H271.0" fill="none" stroke="#ffff00" stroke-width="3.0" stroke-linejoin="round" />
<path d="M141.7 367.3H144.0V360.9H145.1V354.4H146.3V347.9H148.6V341.5H152.1V335.1H154.4V328.6H163.6V335.1H167.1V328.6H169.4V322.1H171.7V315.7H182.1V309.2H183.2V315.7H184.4V309.2H186.7V315.7H189.0V322.1H190.2V315.7H191.3V322.1H192.5V315.7H193.6V322.1H199.4V315.7H209.8V309.2H215.6V315.7H216.7V309.2H217.9V315.7H222.5V309.2H224.8V315.7H231.8V309.2H232.9V315.7H234.1V322.1H237.5V315.7H238.7V322.1H246.8V328.6H254.9V335.1H257.2V341.5H262.9V347.9H264.1V354.4H265.2V347.9H266.4V354.4H267.6V360.9H271.0V367.3H272.2" fill="none" stroke="#808000" stroke-width="3.0" stroke-linejoin="round" />
<path d="M139.4 367.3H140.5V360.9H142.8V354.4H146.3V347.9H147.4V341.5H148.6V335.1H150.9V328.6H152.1V322.1H154.4V315.7H155.5V309.2H160.1V302.8H165.9V309.2H170.5V302.8H171.7V309.2H172.8V302.8H178.6V296.4H189.0V302.8H190.2V296.4H192.5V302.8H200.6V296.4H207.5V302.8H208.7V296.4H212.1V302.8H213.3V296.4H215.6V289.9H216.7V302.8H219.1V296.4H222.5V302.8H223.7V309.2H224.8V302.8H227.1V309.2H228.3V302.8H235.2V309.2H238.7V315.7H239.8V309.2H243.3V315.7H246.8V322.1H247.9V315.7H250.2V322.1H251.4V309.2H252.5V315.7H257.2V322.1H259.5V328.6H262.9V335.1H264.1V341.5H265.2V335.1H267.6V347.9H268.7V354.4H272.2V360.9H274.5V367.3H275.6V360.9" fill="none" stroke="#000080" stroke-width="2.9" stroke-linejoin="round" />
<path d="M147.4 367.3H148.6V354.4H150.9V347.9H152.1V341.5H153.2V335.1H154.4V328.6H157.8V322.1H159.0V315.7H160.1V309.2H162.5V302.8H163.6V309.2H165.9V315.7H169.4V309.2H174.0V296.4H175.2V302.8H178.6V296.4H180.9V289.9H182.1V296.4H183.2V289.9H185.6V296.4H190.2V302.8H191.3V296.4H193.6V302.8H202.9V296.4H205.2V302.8H207.5V296.4H212.1V302.8H213.3V296.4H216.7V302.8H232.9V309.2H246.8V315.7H247.9V309.2H249.1V315.7H254.9V322.1H256.0V328.6H257.2V322.1H258.3V335.1H259.5V328.6H260.6V335.1H262.9V341.5H265.2V347.9H268.7V354.4H271.0V360.9H273.3V367.3" fill="none" stroke="#c0c0c0" stroke-width="3.0" stroke-linejoin="round" />
<path d="M135.9 367.3H137.0V360.9H138.2V354.4H139.4V347.9H140.5V341.5H142.8V335.1H144.0V328.6H147.4V322.1H149.8V315.7H152.1V309.2H154.4V302.8H155.5V296.4H156.7V302.8H157.8V296.4H160.1V289.9H162.5V277.0H164.8V283.4H165.9V289.9H167.1V296.4H171.7V289.9H174.0V283.4H176.3V277.0H182.1V270.6H189.0V277.0H190.2V270.6H193.6V277.0H195.9V283.4H198.3V289.9H204.0V283.4H209.8V277.0H215.6V270.6H216.7V277.0H220.2V283.4H221.4V277.0H226.0V283.4H230.6V289.9H231.8V283.4H232.9V289.9H235.2V296.4H236.4V283.4H237.5V289.9H241.0V296.4H252.5V302.8H254.9V309.2H256.0V302.8H257.2V309.2H262.9V315.7H265.2V322.1H266.4V328.6H269.9V335.1H271.0V341.5H272.2V335.1H273.3V347.9H275.6V354.4H278.0V360.9H279.1V367.3" fill="none" stroke="#ff8000" stroke-width="2.9" stroke-linejoin="round" />
<path d="M133.6 367.3H134.7V360.9H135.9V354.4H137.0V347.9H138.2V341.5H139.4V335.1H140.5V328.6H141.7V322.1H142.8V315.7H145.1V309.2H146.3V302.8H148.6V296.4H149.8V289.9H150.9V283.4H152.1V277.0H153.2V270.6H154.4V277.0H155.5V283.4H157.8V277.0H159.0V264.1H160.1V257.6H165.9V264.1H168.2V270.6H169.4V277.0H171.7V270.6H174.0V264.1H179.8V257.6H180.9V251.2H183.2V244.8H184.4V251.2H186.7V257.6H197.1V264.1H200.6V270.6H204.0V264.1H206.3V257.6H207.5V264.1H208.7V257.6H209.8V264.1H211.0V257.6H213.3V264.1H214.4V257.6H215.6V264.1H224.8V270.6H229.4V277.0H234.1V283.4H242.2V289.9H246.8V296.4H247.9V289.9H252.5V296.4H259.5V302.8H262.9V309.2H266.4V315.7H268.7V322.1H269.9V328.6H273.3V335.1H274.5V341.5H276.8V347.9H280.3V360.9H282.6V367.3H283.7" fill="none" stroke="#8000ff" stroke-width="2.9" stroke-linejoin="round" />
<path d="M130.9 367.3H132.1V360.9H133.2V347.9H134.4V341.5H135.5V335.1H136.7V322.1H137.9V315.7H139.0V309.2H141.3V302.8H142.5V296.4H145.9V289.9H147.1V283.4H148.2V270.6H149.4V244.8H150.6V238.3H159.8V231.9H161.0V225.4H163.3V219.0H164.4V212.5H165.6V219.0H167.9V225.4H169.0V231.9H170.2V238.3H171.3V244.8H172.5V238.3H177.1V231.9H178.3V225.4H180.6V219.0H184.1V212.5H185.2V206.1H187.5V212.5H192.1V219.0H197.9V225.4H199.1V231.9H201.4V238.3H202.5V231.9H203.7V238.3H204.8V231.9H223.3V225.4H224.5V231.9H227.9V238.3H231.4V244.8H232.6V238.3H234.9V244.8H237.2V251.2H244.1V257.6H249.9V264.1H256.8V270.6H260.3V277.0H261.4V283.4H264.9V289.9H266.1V296.4H268.4V302.8H270.7V309.2H271.8V315.7H274.1V328.6H276.5V335.1H277.6V341.5H281.1V347.9H282.2V354.4H283.4V360.9H285.7V367.3H286.8" fill="none" stroke="#ff1493" stroke-width="2.9" stroke-linejoin="round" />
<path d="M95.5 367.3L96.0 335.1L96.6 302.8L97.2 251.2L97.8 199.6L98.4 267.3L98.9 335.1L99.5 283.4L100.1 231.9L100.7 286.7L101.2 341.5L101.8 315.7L102.4 289.9L103.0 328.6L103.5 367.3L104.1 325.4L104.7 283.4L105.3 315.7L105.9 347.9L106.4 325.4L107.0 302.8L107.6 318.9L108.2 335.1L108.7 315.7L109.3 296.4L109.9 325.4L110.5 354.4L111.1 360.9L111.6 367.3L112.2 357.6L112.8 347.9L113.4 357.6L113.9 367.3L114.5 367.3L115.1 367.3L115.7 354.4L116.3 341.5L116.8 335.1L117.4 328.6L118.0 344.7L118.6 360.9L119.1 347.9L119.7 335.1L120.3 351.2L120.9 367.3L121.5 362.5L122.0 357.6L122.6 352.8L123.2 347.9L123.8 357.6L124.3 367.3" fill="none" stroke="#000" stroke-width="2.9" stroke-linejoin="round" />
<path d="M319.8 367L320.4 290L321.6 69" fill="none" stroke="#ff0000" stroke-width="2.4"/>
</g>
<line x1="92.0" y1="44.0" x2="92.0" y2="368.0" stroke="#000" stroke-width="1.5" />
<line x1="91.0" y1="45.0" x2="323.0" y2="45.0" stroke="#000" stroke-width="1.5" />
<line x1="92.0" y1="367.0" x2="323.0" y2="367.0" stroke="#9a9a9a" stroke-width="1.5" />
<line x1="322.5" y1="45.0" x2="322.5" y2="367.0" stroke="#9a9a9a" stroke-width="1.5" />
<line x1="92.0" y1="335.1" x2="95.0" y2="335.1" stroke="#000" stroke-width="1.3" />
<line x1="92.0" y1="302.8" x2="98.5" y2="302.8" stroke="#000" stroke-width="1.3" />
<line x1="92.0" y1="270.6" x2="95.0" y2="270.6" stroke="#000" stroke-width="1.3" />
<line x1="92.0" y1="238.3" x2="98.5" y2="238.3" stroke="#000" stroke-width="1.3" />
<line x1="92.0" y1="206.1" x2="95.0" y2="206.1" stroke="#000" stroke-width="1.3" />
<line x1="92.0" y1="173.8" x2="98.5" y2="173.8" stroke="#000" stroke-width="1.3" />
<line x1="92.0" y1="141.5" x2="95.0" y2="141.5" stroke="#000" stroke-width="1.3" />
<line x1="92.0" y1="109.3" x2="98.5" y2="109.3" stroke="#000" stroke-width="1.3" />
<line x1="92.0" y1="77.1" x2="95.0" y2="77.1" stroke="#000" stroke-width="1.3" />
<line x1="115.1" y1="45.0" x2="115.1" y2="52.0" stroke="#000" stroke-width="1.3" />
<line x1="115.1" y1="367.0" x2="115.1" y2="361.4" stroke="#000" stroke-width="1.3" />
<line x1="144.0" y1="45.0" x2="144.0" y2="48.5" stroke="#000" stroke-width="1.3" />
<line x1="144.0" y1="367.0" x2="144.0" y2="364.2" stroke="#000" stroke-width="1.3" />
<line x1="172.8" y1="45.0" x2="172.8" y2="52.0" stroke="#000" stroke-width="1.3" />
<line x1="172.8" y1="367.0" x2="172.8" y2="361.4" stroke="#000" stroke-width="1.3" />
<line x1="201.7" y1="45.0" x2="201.7" y2="48.5" stroke="#000" stroke-width="1.3" />
<line x1="201.7" y1="367.0" x2="201.7" y2="364.2" stroke="#000" stroke-width="1.3" />
<line x1="230.6" y1="45.0" x2="230.6" y2="52.0" stroke="#000" stroke-width="1.3" />
<line x1="230.6" y1="367.0" x2="230.6" y2="361.4" stroke="#000" stroke-width="1.3" />
<line x1="259.5" y1="45.0" x2="259.5" y2="48.5" stroke="#000" stroke-width="1.3" />
<line x1="259.5" y1="367.0" x2="259.5" y2="364.2" stroke="#000" stroke-width="1.3" />
<line x1="288.4" y1="45.0" x2="288.4" y2="52.0" stroke="#000" stroke-width="1.3" />
<line x1="288.4" y1="367.0" x2="288.4" y2="361.4" stroke="#000" stroke-width="1.3" />
<line x1="317.2" y1="45.0" x2="317.2" y2="48.5" stroke="#000" stroke-width="1.3" />
<line x1="317.2" y1="367.0" x2="317.2" y2="364.2" stroke="#000" stroke-width="1.3" />
<text x="85.0" y="375.3" font-size="25.3" text-anchor="end" font-weight="bold" fill="#000" >0.0</text>
<text x="85.0" y="310.8" font-size="25.3" text-anchor="end" font-weight="bold" fill="#000" >0.1</text>
<text x="85.0" y="246.3" font-size="25.3" text-anchor="end" font-weight="bold" fill="#000" >0.2</text>
<text x="85.0" y="181.8" font-size="25.3" text-anchor="end" font-weight="bold" fill="#000" >0.3</text>
<text x="85.0" y="117.3" font-size="25.3" text-anchor="end" font-weight="bold" fill="#000" >0.4</text>
<text x="85.0" y="52.8" font-size="25.3" text-anchor="end" font-weight="bold" fill="#000" >0.5</text>
<text x="115.1" y="394.5" font-size="25.3" text-anchor="middle" font-weight="bold" fill="#000" >400</text>
<text x="172.8" y="394.5" font-size="25.3" text-anchor="middle" font-weight="bold" fill="#000" >450</text>
<text x="230.6" y="394.5" font-size="25.3" text-anchor="middle" font-weight="bold" fill="#000" >500</text>
<text x="288.4" y="394.5" font-size="25.3" text-anchor="middle" font-weight="bold" fill="#000" >550</text>
<text x="200.0" y="423.5" font-size="25.7" text-anchor="middle" font-weight="bold" fill="#000" >Wavelength (nm)</text>
<text transform="translate(49.5,172.5) rotate(-90)" font-size="25" font-weight="bold" text-anchor="middle">Abs</text>
<text x="31.0" y="27.0" font-size="52" text-anchor="start" font-weight="bold" fill="#000" >a</text>
<line x1="120.3" y1="262.5" x2="125.6" y2="184.0" stroke="#000" stroke-width="4.2" />
<polygon points="127.0,163.0 132.7,186.4 118.2,185.5" fill="#000"/>
</g>
<g id="pb">
<clipPath id="cb"><rect x="432" y="43" width="384.5" height="308"/></clipPath>
<g clip-path="url(#cb)">
<line x1="432.0" y1="350.3" x2="816.0" y2="350.3" stroke="#006868" stroke-width="1.6" />
<path d="M432.0 310.5H434.1V313.6H447.6V316.7H453.8V319.8H460.0V322.8H483.9V325.9H495.3V329.0H518.1V332.1H521.3V329.0H522.3V332.1H529.6V335.1H530.6V332.1H531.6V335.1H568.0V338.2H571.1V335.1H572.1V338.2H618.8V341.3H619.8V338.2H623.0V341.3H628.2V338.2H629.2V341.3H631.3V338.2H632.3V341.3H636.5V338.2H637.5V341.3H670.7V344.4H678.0V341.3H679.0V344.4H816.0" fill="none" stroke="#ff0000" stroke-width="2.2" stroke-linejoin="round" />
<path d="M432.0 282.9H436.2V285.9H441.3V289.0H445.5V292.1H451.7V295.1H454.8V298.2H457.9V301.3H461.1V304.4H464.2V301.3H465.2V304.4H479.7V307.4H480.8V304.4H481.8V307.4H486.0V310.5H487.0V307.4H488.0V310.5H494.3V313.6H499.5V316.7H501.5V313.6H503.6V316.7H507.8V313.6H510.9V316.7H522.3V319.8H530.6V322.8H531.6V319.8H532.7V322.8H551.4V325.9H552.4V322.8H554.5V325.9H557.6V322.8H559.7V325.9H570.0V329.0H571.1V325.9H573.1V329.0H574.2V325.9H575.2V329.0H587.7V332.1H589.8V329.0H598.1V332.1H599.1V329.0H603.2V332.1H605.3V329.0H606.4V332.1H627.1V335.1H629.2V332.1H632.3V335.1H635.4V332.1H636.5V335.1H643.7V338.2H644.8V335.1H649.9V338.2H651.0V335.1H655.1V338.2H658.2V335.1H662.4V338.2H690.4V341.3H696.6V338.2H698.7V341.3H701.8V338.2H702.9V341.3H784.9V338.2H786.9V341.3H789.0V338.2H791.1V341.3H796.3V338.2H816.0" fill="none" stroke="#40b0ff" stroke-width="2.2" stroke-linejoin="round" />
<path d="M432.0 255.2H433.0V258.2H436.2V261.3H445.5V264.4H447.6V267.5H449.6V270.6H452.8V273.6H453.8V276.7H457.9V279.8H460.0V282.9H462.1V285.9H474.6V289.0H475.6V285.9H477.7V289.0H481.8V292.1H487.0V295.1H491.2V298.2H492.2V295.1H493.2V298.2H496.3V301.3H505.7V304.4H506.7V301.3H507.8V304.4H510.9V301.3H511.9V304.4H513.0V301.3H514.0V304.4H520.2V307.4H529.6V310.5H534.7V313.6H543.0V310.5H544.1V313.6H560.7V316.7H573.1V319.8H581.4V322.8H582.5V319.8H586.6V322.8H594.9V319.8H596.0V322.8H612.6V325.9H614.7V322.8H615.7V325.9H618.8V322.8H619.8V325.9H629.2V329.0H630.2V325.9H631.3V329.0H632.3V325.9H634.4V329.0H635.4V325.9H637.5V329.0H656.2V332.1H657.2V329.0H658.2V332.1H660.3V329.0H661.4V332.1H663.4V329.0H664.5V332.1H668.6V329.0H669.7V332.1H673.8V335.1H674.9V332.1H678.0V335.1H739.2V338.2H740.2V335.1H742.3V338.2H743.4V335.1H744.4V338.2H766.2V341.3H767.2V338.2H782.8V335.1H783.8V338.2H785.9V335.1H796.3V332.1H798.4V335.1H801.5V332.1H802.5V335.1H803.5V332.1H804.6V335.1H805.6V332.1H807.7V335.1H808.7V332.1H816.0" fill="none" stroke="#ff8000" stroke-width="2.2" stroke-linejoin="round" />
<path d="M432.0 236.7H436.2V239.8H437.2V242.9H443.4V245.9H446.5V249.0H448.6V252.1H450.7V255.2H451.7V258.2H454.8V261.3H456.9V264.4H457.9V267.5H460.0V270.6H461.1V273.6H464.2V276.7H466.2V273.6H467.3V276.7H479.7V279.8H481.8V282.9H482.9V279.8H483.9V282.9H486.0V285.9H492.2V289.0H495.3V292.1H498.4V295.1H499.5V292.1H500.5V295.1H501.5V292.1H502.6V295.1H513.0V292.1H514.0V295.1H516.1V298.2H523.3V301.3H529.6V304.4H530.6V301.3H531.6V304.4H534.7V307.4H536.8V304.4H537.9V307.4H542.0V304.4H543.0V307.4H544.1V304.4H545.1V307.4H556.5V310.5H557.6V307.4H560.7V310.5H568.0V313.6H578.3V316.7H597.0V313.6H598.1V316.7H612.6V319.8H621.9V322.8H623.0V319.8H624.0V322.8H626.1V319.8H627.1V322.8H631.3V325.9H632.3V322.8H633.3V325.9H634.4V322.8H635.4V325.9H648.9V329.0H649.9V325.9H655.1V329.0H658.2V325.9H660.3V329.0H661.4V325.9H664.5V329.0H675.9V332.1H676.9V329.0H678.0V332.1H679.0V329.0H683.2V332.1H737.1V335.1H738.2V332.1H740.2V335.1H753.7V338.2H754.8V335.1H755.8V338.2H756.8V335.1H758.9V338.2H760.0V335.1H761.0V338.2H763.1V335.1H765.1V338.2H766.2V335.1H767.2V338.2H770.3V335.1H772.4V338.2H774.5V335.1H776.6V338.2H777.6V335.1H786.9V332.1H788.0V335.1H789.0V332.1H794.2V335.1H795.2V332.1H796.3V335.1H797.3V332.1H804.6V329.0H805.6V332.1H808.7V329.0H809.8V332.1H816.0" fill="none" stroke="#00c080" stroke-width="2.2" stroke-linejoin="round" />
<path d="M432.0 218.3H434.1V221.3H435.1V224.4H437.2V227.5H442.4V230.6H445.5V233.7H447.6V239.8H449.6V242.9H450.7V245.9H451.7V249.0H453.8V252.1H455.9V255.2H456.9V258.2H457.9V261.3H459.0V264.4H460.0V267.5H462.1V270.6H463.1V273.6H477.7V276.7H481.8V279.8H483.9V282.9H484.9V279.8H486.0V282.9H488.0V285.9H491.2V289.0H495.3V292.1H497.4V295.1H517.1V298.2H522.3V301.3H523.3V298.2H524.4V301.3H528.5V304.4H529.6V301.3H530.6V304.4H535.8V307.4H538.9V304.4H539.9V307.4H544.1V304.4H545.1V307.4H557.6V310.5H564.8V313.6H565.9V310.5H566.9V313.6H572.1V316.7H579.4V319.8H597.0V322.8H598.1V319.8H607.4V322.8H608.4V319.8H609.5V322.8H612.6V319.8H613.6V322.8H620.9V325.9H623.0V322.8H624.0V325.9H631.3V329.0H633.3V325.9H635.4V329.0H645.8V332.1H646.8V329.0H658.2V332.1H661.4V329.0H663.4V332.1H679.0V335.1H680.0V332.1H681.1V335.1H682.1V332.1H684.2V335.1H721.6V338.2H722.6V335.1H726.7V338.2H727.8V335.1H729.9V338.2H730.9V335.1H731.9V338.2H733.0V335.1H734.0V338.2H735.0V335.1H736.1V338.2H737.1V335.1H739.2V338.2H751.7V341.3H752.7V338.2H753.7V341.3H755.8V338.2H756.8V341.3H757.9V338.2H760.0V341.3H762.0V338.2H764.1V341.3H767.2V338.2H769.3V341.3H772.4V338.2H773.4V341.3H775.5V338.2H777.6V341.3H778.6V338.2H786.9V335.1H788.0V338.2H792.1V335.1H797.3V338.2H798.4V335.1H799.4V338.2H800.4V335.1H816.0" fill="none" stroke="#ff3399" stroke-width="2.2" stroke-linejoin="round" />
<path d="M432.0 206.0H433.0V209.0H435.1V212.1H437.2V215.2H440.3V218.3H445.5V221.3H447.6V224.4H448.6V227.5H449.6V230.6H451.7V233.7H452.8V236.7H454.8V239.8H455.9V242.9H456.9V245.9H459.0V249.0H460.0V252.1H461.1V255.2H463.1V258.2H477.7V261.3H481.8V264.4H484.9V267.5H486.0V270.6H487.0V267.5H488.0V270.6H490.1V273.6H493.2V276.7H495.3V279.8H498.4V282.9H515.0V285.9H521.3V289.0H525.4V292.1H526.4V289.0H527.5V292.1H531.6V295.1H537.9V298.2H558.6V301.3H564.8V304.4H572.1V307.4H577.3V310.5H578.3V307.4H580.4V310.5H591.8V313.6H592.9V310.5H607.4V313.6H615.7V316.7H616.7V313.6H618.8V316.7H628.2V319.8H636.5V322.8H637.5V319.8H638.5V322.8H640.6V319.8H641.6V322.8H644.8V319.8H645.8V322.8H667.6V325.9H669.7V322.8H671.7V325.9H673.8V322.8H674.9V325.9H684.2V329.0H686.3V325.9H687.3V329.0H697.7V325.9H698.7V329.0H699.8V325.9H700.8V329.0H716.4V325.9H717.4V329.0H737.1V332.1H738.2V329.0H740.2V332.1H741.3V329.0H742.3V332.1H755.8V335.1H756.8V332.1H757.9V335.1H758.9V332.1H761.0V335.1H763.1V332.1H765.1V335.1H766.2V332.1H767.2V335.1H769.3V332.1H771.4V335.1H772.4V332.1H773.4V335.1H775.5V332.1H784.9V329.0H795.2V325.9H796.3V329.0H798.4V325.9H799.4V329.0H801.5V325.9H816.0" fill="none" stroke="#ff8000" stroke-width="2.2" stroke-linejoin="round" />
<path d="M432.0 172.2H433.0V175.2H434.1V178.3H435.1V181.4H436.2V184.4H437.2V187.5H441.3V190.6H445.5V193.7H446.5V196.8H447.6V199.8H448.6V202.9H449.6V206.0H450.7V209.0H451.7V212.1H452.8V215.2H453.8V218.3H455.9V221.3H456.9V224.4H457.9V227.5H459.0V230.6H460.0V233.7H461.1V236.7H462.1V239.8H463.1V242.9H478.7V245.9H480.8V249.0H483.9V252.1H486.0V255.2H489.1V258.2H490.1V261.3H494.3V264.4H496.3V267.5H498.4V270.6H516.1V273.6H520.2V276.7H524.4V279.8H526.4V282.9H531.6V285.9H534.7V289.0H544.1V292.1H545.1V289.0H551.4V292.1H552.4V289.0H555.5V292.1H557.6V295.1H558.6V292.1H559.7V295.1H560.7V292.1H562.8V295.1H571.1V298.2H576.3V301.3H585.6V304.4H588.7V301.3H589.8V304.4H590.8V301.3H591.8V304.4H596.0V301.3H597.0V304.4H607.4V307.4H608.4V304.4H610.5V307.4H617.8V310.5H626.1V313.6H627.1V310.5H629.2V313.6H632.3V316.7H633.3V313.6H635.4V316.7H636.5V313.6H637.5V316.7H648.9V319.8H649.9V316.7H654.1V319.8H655.1V316.7H656.2V319.8H671.7V322.8H672.8V319.8H674.9V322.8H687.3V325.9H688.3V322.8H690.4V325.9H693.5V322.8H696.6V325.9H698.7V322.8H699.8V325.9H700.8V322.8H701.8V325.9H705.0V322.8H706.0V325.9H738.2V329.0H739.2V325.9H741.3V329.0H753.7V332.1H756.8V329.0H758.9V332.1H760.0V329.0H763.1V332.1H764.1V329.0H765.1V332.1H768.3V329.0H769.3V332.1H772.4V329.0H783.8V325.9H785.9V329.0H788.0V325.9H797.3V322.8H798.4V325.9H800.4V322.8H801.5V325.9H803.5V322.8H816.0" fill="none" stroke="#00c0c0" stroke-width="2.2" stroke-linejoin="round" />
<path d="M432.0 135.2H433.0V138.3H434.1V144.5H435.1V147.5H436.2V150.6H437.2V156.8H440.3V159.8H441.3V156.8H442.4V159.8H445.5V162.9H446.5V166.0H447.6V169.1H448.6V175.2H449.6V178.3H450.7V181.4H451.7V184.4H452.8V190.6H453.8V193.7H454.8V196.8H455.9V202.9H456.9V206.0H457.9V209.0H459.0V212.1H460.0V215.2H461.1V221.3H462.1V224.4H463.1V227.5H478.7V230.6H479.7V233.7H482.9V236.7H484.9V239.8H486.0V242.9H489.1V245.9H490.1V249.0H493.2V252.1H494.3V255.2H496.3V258.2H498.4V261.3H514.0V264.4H515.0V261.3H516.1V264.4H519.2V267.5H522.3V270.6H524.4V273.6H528.5V276.7H531.6V279.8H535.8V282.9H557.6V285.9H562.8V289.0H569.0V292.1H575.2V295.1H580.4V298.2H585.6V295.1H586.6V298.2H593.9V301.3H594.9V298.2H596.0V301.3H597.0V298.2H600.1V301.3H601.2V298.2H605.3V301.3H607.4V298.2H608.4V301.3H615.7V304.4H621.9V307.4H626.1V310.5H627.1V307.4H630.2V310.5H635.4V313.6H655.1V316.7H656.2V313.6H658.2V316.7H659.3V313.6H660.3V316.7H665.5V313.6H666.6V316.7H671.7V319.8H672.8V316.7H673.8V319.8H684.2V322.8H715.3V325.9H716.4V322.8H729.9V325.9H733.0V322.8H734.0V325.9H735.0V322.8H736.1V325.9H744.4V329.0H745.4V325.9H746.5V329.0H780.7V325.9H790.1V322.8H791.1V325.9H793.2V322.8H799.4V319.8H800.4V322.8H801.5V319.8H809.8V316.7H811.8V319.8H815.0V322.8H816.0" fill="none" stroke="#000000" stroke-width="2.2" stroke-linejoin="round" />
<path d="M432.0 79.9H433.0V86.1H434.1V92.2H435.1V101.4H436.2V107.6H437.2V113.7H445.5V119.9H446.5V122.9H447.6V129.1H448.6V135.2H449.6V141.4H450.7V144.5H451.7V147.5H452.8V156.8H453.8V159.8H454.8V166.0H455.9V169.1H456.9V175.2H457.9V181.4H459.0V184.4H460.0V190.6H461.1V196.8H462.1V199.8H463.1V206.0H478.7V209.0H479.7V212.1H481.8V215.2H483.9V218.3H484.9V221.3H487.0V224.4H489.1V227.5H490.1V230.6H492.2V233.7H494.3V236.7H495.3V239.8H497.4V242.9H499.5V245.9H515.0V249.0H517.1V252.1H521.3V255.2H523.3V258.2H525.4V261.3H529.6V264.4H531.6V267.5H534.7V270.6H557.6V273.6H560.7V276.7H561.7V273.6H562.8V276.7H564.8V279.8H570.0V282.9H573.1V285.9H578.3V289.0H580.4V292.1H601.2V289.0H602.2V292.1H609.5V295.1H615.7V298.2H616.7V295.1H617.8V298.2H625.0V301.3H630.2V304.4H631.3V301.3H632.3V304.4H637.5V307.4H663.4V310.5H672.8V313.6H675.9V316.7H676.9V313.6H679.0V316.7H686.3V319.8H737.1V322.8H749.6V325.9H766.2V329.0H767.2V325.9H781.8V322.8H786.9V319.8H792.1V316.7H793.2V319.8H796.3V316.7H801.5V313.6H806.7V310.5H807.7V313.6H809.8V310.5H811.8V313.6H815.0V316.7H816.0" fill="none" stroke="#808000" stroke-width="2.2" stroke-linejoin="round" />
</g>
<line x1="432.0" y1="43.0" x2="816.5" y2="43.0" stroke="#c8c8c8" stroke-width="1.2" />
<line x1="816.0" y1="43.0" x2="816.0" y2="351.0" stroke="#c8c8c8" stroke-width="1.2" />
<line x1="432.0" y1="42.5" x2="432.0" y2="351.5" stroke="#000" stroke-width="1.6" />
<line x1="431.0" y1="350.8" x2="816.5" y2="350.8" stroke="#004848" stroke-width="1.4" />
<line x1="425.5" y1="350.5" x2="432.0" y2="350.5" stroke="#000" stroke-width="1.4" />
<line x1="428.5" y1="319.8" x2="432.0" y2="319.8" stroke="#000" stroke-width="1.4" />
<line x1="425.5" y1="289.0" x2="432.0" y2="289.0" stroke="#000" stroke-width="1.4" />
<line x1="428.5" y1="258.2" x2="432.0" y2="258.2" stroke="#000" stroke-width="1.4" />
<line x1="425.5" y1="227.5" x2="432.0" y2="227.5" stroke="#000" stroke-width="1.4" />
<line x1="428.5" y1="196.8" x2="432.0" y2="196.8" stroke="#000" stroke-width="1.4" />
<line x1="425.5" y1="166.0" x2="432.0" y2="166.0" stroke="#000" stroke-width="1.4" />
<line x1="428.5" y1="135.2" x2="432.0" y2="135.2" stroke="#000" stroke-width="1.4" />
<line x1="425.5" y1="104.5" x2="432.0" y2="104.5" stroke="#000" stroke-width="1.4" />
<line x1="428.5" y1="73.8" x2="432.0" y2="73.8" stroke="#000" stroke-width="1.4" />
<line x1="425.5" y1="43.0" x2="432.0" y2="43.0" stroke="#000" stroke-width="1.4" />
<line x1="452.8" y1="350.5" x2="452.8" y2="357.0" stroke="#000" stroke-width="1.4" />
<line x1="504.6" y1="350.5" x2="504.6" y2="354.0" stroke="#000" stroke-width="1.4" />
<line x1="556.5" y1="350.5" x2="556.5" y2="357.0" stroke="#000" stroke-width="1.4" />
<line x1="608.4" y1="350.5" x2="608.4" y2="354.0" stroke="#000" stroke-width="1.4" />
<line x1="660.3" y1="350.5" x2="660.3" y2="357.0" stroke="#000" stroke-width="1.4" />
<line x1="712.2" y1="350.5" x2="712.2" y2="354.0" stroke="#000" stroke-width="1.4" />
<line x1="764.1" y1="350.5" x2="764.1" y2="357.0" stroke="#000" stroke-width="1.4" />
<line x1="816.0" y1="350.5" x2="816.0" y2="354.0" stroke="#000" stroke-width="1.4" />
<text x="422.0" y="358.1" font-size="26" text-anchor="end" font-weight="bold" fill="#000" >0.0</text>
<text x="422.0" y="296.6" font-size="26" text-anchor="end" font-weight="bold" fill="#000" >0.2</text>
<text x="422.0" y="235.1" font-size="26" text-anchor="end" font-weight="bold" fill="#000" >0.4</text>
<text x="422.0" y="173.6" font-size="26" text-anchor="end" font-weight="bold" fill="#000" >0.6</text>
<text x="422.0" y="112.1" font-size="26" text-anchor="end" font-weight="bold" fill="#000" >0.8</text>
<text x="422.0" y="50.6" font-size="26" text-anchor="end" font-weight="bold" fill="#000" >1.0</text>
<text x="452.8" y="381.5" font-size="26" text-anchor="middle" font-weight="bold" fill="#000" >500</text>
<text x="556.5" y="381.5" font-size="26" text-anchor="middle" font-weight="bold" fill="#000" >600</text>
<text x="660.3" y="381.5" font-size="26" text-anchor="middle" font-weight="bold" fill="#000" >700</text>
<text x="764.1" y="381.5" font-size="26" text-anchor="middle" font-weight="bold" fill="#000" >800</text>
<text x="632.5" y="410.0" font-size="26.3" text-anchor="middle" font-weight="bold" fill="#000" >Wavelength (nm)</text>
<text transform="translate(376,166) rotate(-90)" font-size="26.3" font-weight="bold" text-anchor="middle">Abs</text>
<text x="332.0" y="42.0" font-size="52" text-anchor="start" font-weight="bold" fill="#000" >b</text>
<line x1="473.5" y1="198.0" x2="473.5" y2="113.5" stroke="#ff0000" stroke-width="4.4" />
<polygon points="473.5,93.5 480.2,115.5 466.8,115.5" fill="#ff0000"/>
</g>
<g id="pc">
<clipPath id="cc"><rect x="921" y="43" width="384" height="308"/></clipPath>
<g clip-path="url(#cc)">
<path d="M921.0 322.3H951.2V316.7H952.0V311.1H952.8V316.7H953.6V322.3H955.3V316.7H956.1V322.3H957.7V316.7H958.5V311.1H959.3V316.7H960.2V322.3H961.8V316.7H962.6V322.3H965.1V316.7H967.5V322.3H971.6V316.7H972.4V311.1H974.8V316.7H975.7V322.3H978.1V316.7H978.9V322.3H981.4V316.7H983.8V322.3H987.9V316.7H988.7V322.3H992.8V316.7H998.5V322.3H1002.6V316.7H1003.4V322.3H1006.7V316.7H1007.5V311.1H1008.3V316.7H1009.1V322.3H1010.7V316.7H1011.5V322.3H1014.0V316.7H1014.8V322.3H1016.4V316.7H1017.3V311.1H1018.9V316.7H1019.7V322.3H1027.0V316.7H1027.9V322.3H1031.9V316.7H1032.8V322.3H1034.4V316.7H1035.2V311.1H1036.8V316.7H1037.7V322.3H1040.1V316.7H1042.5V322.3H1045.0V316.7H1049.1V322.3H1052.3V316.7H1053.2V311.1H1054.8V316.7H1055.6V311.1H1058.0V316.7H1058.9V322.3H1062.9V316.7H1063.8V322.3H1069.5V316.7H1071.9V322.3H1075.2V316.7H1076.0V311.1H1077.6V316.7H1078.4V322.3H1080.1V316.7H1080.9V311.1H1081.7V316.7H1082.5V322.3H1085.0V316.7H1085.8V311.1H1086.6V316.7H1087.4V322.3H1090.7V316.7H1091.5V311.1H1093.1V316.7H1093.9V322.3H1095.6V316.7H1096.4V322.3H1100.5V316.7H1101.3V322.3H1108.6V316.7H1109.4V322.3H1115.1V316.7H1116.0V322.3H1118.4V316.7H1119.2V322.3H1121.7V316.7H1122.5V322.3H1124.9V316.7H1127.4V322.3H1134.7V316.7H1135.5V322.3H1139.6V316.7H1140.4V322.3H1151.0V316.7H1151.9V322.3H1160.0V316.7H1160.8V311.1H1162.5V316.7H1163.3V322.3H1165.7V316.7H1166.5V322.3H1170.6V316.7H1171.4V322.3H1173.1V316.7H1173.9V311.1H1174.7V316.7H1175.5V322.3H1177.1V316.7H1179.6V322.3H1183.7V316.7H1186.1V322.3H1188.6V316.7H1189.4V311.1H1191.0V316.7H1191.8V322.3H1203.2V316.7H1204.1V322.3H1206.5V316.7H1207.3V322.3H1211.4V316.7H1212.2V322.3H1213.9V316.7H1214.7V311.1H1215.5V316.7H1216.3V322.3H1226.1V316.7H1226.9V322.3H1248.9V316.7H1249.7V322.3H1255.5V316.7H1256.3V322.3H1261.2V316.7H1262.0V311.1H1262.8V316.7H1263.6V322.3H1265.2V316.7H1266.1V322.3H1268.5V316.7H1269.3V322.3H1272.6V316.7H1273.4V311.1H1274.2V316.7H1275.0V322.3H1276.7V316.7H1277.5V322.3H1288.1V316.7H1288.9V322.3H1302.8" fill="none" stroke="#e6a8f7" stroke-width="1.6" stroke-linejoin="round" />
<path d="M941.4 43.0H942.2V110.0H943.0V182.6H943.8V305.5H946.3V311.1H947.1V305.5H949.6V311.1H952.0V305.5H952.8V311.1H953.6V305.5H955.3V311.1H956.1V305.5H956.9V311.1H959.3V316.7H960.2V311.1H961.0V316.7H964.2V311.1H965.1V316.7H968.3V322.3H969.1V316.7H978.9V322.3H979.7V316.7H980.5V322.3H982.2V316.7H983.0V322.3H983.8V316.7H987.1V322.3H988.7V316.7H989.5V322.3H990.3V316.7H992.0V322.3H993.6V316.7H996.0V322.3H996.9V316.7H998.5V322.3H999.3V316.7H1000.1V322.3H1000.9V316.7H1001.8V322.3H1002.6V316.7H1006.7V322.3H1007.5V316.7H1009.1V322.3H1010.7V316.7H1013.2V322.3H1014.8V316.7H1018.1V322.3H1019.7V316.7H1020.5V322.3H1021.3V316.7H1022.2V322.3H1027.9V316.7H1030.3V322.3H1035.2V316.7H1036.0V322.3H1044.2V316.7H1045.8V322.3H1049.1V316.7H1052.3V322.3H1053.2V316.7H1054.0V322.3H1054.8V316.7H1055.6V322.3H1058.0V316.7H1058.9V322.3H1060.5V316.7H1061.3V322.3H1064.6V316.7H1065.4V322.3H1066.2V316.7H1067.0V322.3H1071.1V316.7H1071.9V322.3H1072.7V316.7H1074.4V322.3H1080.1V316.7H1080.9V322.3H1082.5V316.7H1083.3V322.3H1085.8V316.7H1086.6V322.3H1087.4V316.7H1088.2V322.3H1094.8V316.7H1096.4V322.3H1097.2V316.7H1098.0V322.3H1103.7V316.7H1104.5V322.3H1107.0V316.7H1107.8V322.3H1108.6V316.7H1111.1V322.3H1112.7V316.7H1113.5V322.3H1114.3V316.7H1115.1V322.3H1121.7V316.7H1122.5V322.3H1124.1V316.7H1125.8V322.3H1126.6V316.7H1127.4V322.3H1128.2V316.7H1129.8V322.3H1130.6V316.7H1131.5V322.3H1132.3V316.7H1135.5V322.3H1136.4V316.7H1138.8V322.3H1139.6V316.7H1141.3V322.3H1142.1V316.7H1153.5V322.3H1154.3V316.7H1159.2V311.1H1160.0V316.7H1167.4V311.1H1168.2V316.7H1169.0V311.1H1173.1V305.5H1173.9V311.1H1177.1V305.5H1183.7V299.9H1184.5V294.3H1186.9V299.9H1188.6V305.5H1193.5V299.9H1195.1V305.5H1197.5V299.9H1198.4V305.5H1199.2V299.9H1202.4V305.5H1203.2V299.9H1205.7V294.3H1206.5V288.8H1207.3V294.3H1208.1V210.6H1209.0V126.8H1209.8V82.1H1210.6V37.4" fill="none" stroke="#b8d8ff" stroke-width="1.8" stroke-linejoin="round" opacity="1"/>
<path d="M941.4 43.0H942.2V110.0H943.0V182.6H943.8V294.3H944.7V299.9H948.7V305.5H949.6V299.9H952.0V294.3H953.6V299.9H956.9V305.5H960.2V311.1H965.9V316.7H966.7V311.1H967.5V316.7H968.3V311.1H971.6V316.7H977.3V322.3H978.1V311.1H978.9V316.7H980.5V322.3H981.4V316.7H990.3V311.1H991.2V316.7H992.8V322.3H994.4V316.7H1008.3V311.1H1009.1V316.7H1009.9V322.3H1010.7V316.7H1013.2V311.1H1014.0V316.7H1020.5V322.3H1021.3V316.7H1023.0V322.3H1024.6V316.7H1025.4V322.3H1026.2V316.7H1027.0V322.3H1027.9V316.7H1028.7V322.3H1029.5V316.7H1031.1V322.3H1032.8V316.7H1033.6V322.3H1034.4V316.7H1036.8V322.3H1037.7V316.7H1039.3V322.3H1040.1V316.7H1042.5V322.3H1043.4V316.7H1046.6V322.3H1047.4V316.7H1048.3V322.3H1049.1V316.7H1049.9V322.3H1054.0V316.7H1056.4V322.3H1058.0V316.7H1058.9V322.3H1060.5V316.7H1061.3V322.3H1062.9V316.7H1063.8V322.3H1065.4V316.7H1067.0V322.3H1069.5V316.7H1070.3V322.3H1071.9V316.7H1078.4V322.3H1079.3V316.7H1080.9V322.3H1081.7V316.7H1083.3V322.3H1084.1V316.7H1087.4V322.3H1089.0V316.7H1089.9V322.3H1090.7V316.7H1091.5V322.3H1093.9V316.7H1095.6V322.3H1096.4V316.7H1098.8V322.3H1101.3V316.7H1102.1V322.3H1105.4V316.7H1107.0V322.3H1108.6V316.7H1110.3V322.3H1111.1V316.7H1111.9V322.3H1112.7V316.7H1114.3V322.3H1122.5V316.7H1133.1V311.1H1135.5V316.7H1137.2V311.1H1138.0V316.7H1139.6V311.1H1145.3V316.7H1146.1V311.1H1148.6V316.7H1151.9V311.1H1154.3V316.7H1155.1V311.1H1157.6V316.7H1158.4V311.1H1160.8V316.7H1161.6V311.1H1173.9V305.5H1176.3V299.9H1178.8V294.3H1182.9V288.8H1184.5V283.2H1186.1V288.8H1188.6V294.3H1191.0V299.9H1191.8V294.3H1193.5V288.8H1195.9V294.3H1198.4V288.8H1199.2V294.3H1200.8V288.8H1201.6V299.9H1203.2V288.8H1204.9V283.2H1205.7V288.8H1206.5V283.2H1208.1V210.6H1209.0V126.8H1209.8V82.1H1210.6V43.0" fill="none" stroke="#b0ffb0" stroke-width="1.8" stroke-linejoin="round" opacity="1"/>
<path d="M941.4 43.0H942.2V115.6H943.0V182.6H943.8V294.3H945.5V299.9H946.3V294.3H948.7V299.9H950.4V294.3H952.0V288.8H953.6V294.3H956.1V299.9H957.7V305.5H959.3V311.1H960.2V305.5H961.8V311.1H964.2V305.5H965.1V311.1H978.1V316.7H1000.9V311.1H1001.8V316.7H1011.5V311.1H1012.4V316.7H1015.6V311.1H1016.4V316.7H1018.9V311.1H1019.7V316.7H1021.3V322.3H1023.0V316.7H1023.8V322.3H1025.4V316.7H1027.0V322.3H1027.9V316.7H1028.7V322.3H1030.3V316.7H1031.1V322.3H1032.8V316.7H1036.0V322.3H1036.8V316.7H1041.7V322.3H1042.5V316.7H1045.8V322.3H1046.6V316.7H1048.3V322.3H1049.1V316.7H1051.5V322.3H1052.3V316.7H1054.0V322.3H1054.8V316.7H1056.4V322.3H1057.2V316.7H1058.0V322.3H1058.9V316.7H1062.1V322.3H1063.8V316.7H1065.4V322.3H1066.2V316.7H1067.0V322.3H1067.8V316.7H1071.9V322.3H1072.7V316.7H1074.4V322.3H1076.0V316.7H1080.1V322.3H1080.9V316.7H1081.7V322.3H1082.5V316.7H1085.0V322.3H1085.8V316.7H1087.4V322.3H1088.2V316.7H1093.1V322.3H1095.6V316.7H1098.8V322.3H1099.6V316.7H1100.5V322.3H1101.3V316.7H1102.9V322.3H1104.5V316.7H1106.2V322.3H1107.0V316.7H1107.8V322.3H1108.6V316.7H1110.3V322.3H1111.1V316.7H1113.5V322.3H1115.1V316.7H1120.9V322.3H1121.7V316.7H1126.6V311.1H1128.2V316.7H1130.6V311.1H1131.5V316.7H1132.3V311.1H1133.1V316.7H1134.7V311.1H1136.4V316.7H1138.0V311.1H1140.4V316.7H1141.3V311.1H1142.1V316.7H1142.9V311.1H1146.1V305.5H1147.0V311.1H1147.8V305.5H1149.4V311.1H1155.1V305.5H1155.9V311.1H1172.2V305.5H1174.7V299.9H1178.0V294.3H1179.6V283.2H1180.4V288.8H1181.2V277.6H1182.0V283.2H1182.9V277.6H1183.7V283.2H1184.5V277.6H1186.1V272.0H1186.9V277.6H1187.7V283.2H1188.6V288.8H1189.4V283.2H1191.0V294.3H1191.8V288.8H1192.6V283.2H1195.9V288.8H1196.7V294.3H1197.5V288.8H1200.8V294.3H1203.2V288.8H1204.9V283.2H1206.5V272.0H1208.1V199.4H1209.0V126.8H1209.8V82.1H1210.6V43.0" fill="none" stroke="#ffd8b8" stroke-width="2.2" stroke-linejoin="round" opacity="1"/>
<path d="M941.4 43.0H942.2V115.6H943.0V182.6H943.8V288.8H949.6V294.3H950.4V288.8H951.2V283.2H952.0V277.6H952.8V283.2H953.6V288.8H956.1V294.3H957.7V299.9H958.5V305.5H959.3V299.9H960.2V305.5H961.0V311.1H974.8V305.5H975.7V311.1H978.1V316.7H978.9V311.1H979.7V316.7H983.0V311.1H985.4V316.7H986.3V311.1H990.3V316.7H991.2V311.1H992.8V316.7H998.5V311.1H1000.1V316.7H1000.9V311.1H1001.8V316.7H1004.2V311.1H1005.0V316.7H1005.8V311.1H1006.7V316.7H1010.7V311.1H1012.4V316.7H1015.6V311.1H1017.3V316.7H1018.1V311.1H1018.9V316.7H1020.5V311.1H1021.3V316.7H1023.0V322.3H1023.8V316.7H1025.4V322.3H1026.2V316.7H1027.0V322.3H1027.9V316.7H1028.7V322.3H1029.5V316.7H1030.3V322.3H1031.9V316.7H1032.8V322.3H1033.6V316.7H1034.4V322.3H1035.2V316.7H1040.9V322.3H1041.7V316.7H1043.4V322.3H1044.2V316.7H1046.6V322.3H1047.4V316.7H1049.9V322.3H1050.7V316.7H1051.5V322.3H1052.3V316.7H1053.2V322.3H1054.8V316.7H1057.2V322.3H1058.0V316.7H1061.3V322.3H1062.1V316.7H1062.9V322.3H1063.8V316.7H1071.1V322.3H1071.9V316.7H1072.7V322.3H1076.0V316.7H1080.1V311.1H1080.9V322.3H1081.7V316.7H1085.8V322.3H1086.6V316.7H1087.4V322.3H1088.2V316.7H1098.0V322.3H1098.8V316.7H1100.5V322.3H1101.3V316.7H1102.9V322.3H1103.7V316.7H1105.4V322.3H1106.2V316.7H1107.0V322.3H1107.8V316.7H1119.2V322.3H1120.0V316.7H1126.6V311.1H1130.6V316.7H1131.5V311.1H1134.7V316.7H1135.5V311.1H1142.9V305.5H1144.5V311.1H1145.3V305.5H1146.1V311.1H1151.0V305.5H1152.7V311.1H1155.1V305.5H1155.9V311.1H1156.8V305.5H1157.6V311.1H1160.0V305.5H1160.8V311.1H1163.3V305.5H1164.1V311.1H1165.7V305.5H1169.0V311.1H1169.8V305.5H1172.2V299.9H1173.9V294.3H1174.7V299.9H1175.5V294.3H1176.3V288.8H1179.6V283.2H1180.4V272.0H1181.2V283.2H1182.0V272.0H1182.9V277.6H1184.5V255.2H1185.3V260.8H1186.1V266.4H1186.9V272.0H1188.6V277.6H1189.4V283.2H1191.0V288.8H1192.6V277.6H1193.5V283.2H1194.3V266.4H1195.1V272.0H1195.9V283.2H1196.7V277.6H1197.5V272.0H1199.2V277.6H1200.0V266.4H1200.8V272.0H1201.6V283.2H1202.4V277.6H1203.2V283.2H1204.1V272.0H1204.9V277.6H1205.7V266.4H1206.5V260.8H1207.3V255.2H1208.1V193.8H1209.0V126.8H1209.8V82.1H1210.6V43.0" fill="none" stroke="#ffe0c0" stroke-width="2.2" stroke-linejoin="round" opacity="1"/>
<path d="M941.4 43.0H942.2V115.6H943.0V182.6H943.8V283.2H945.5V277.6H946.3V288.8H947.1V283.2H948.7V288.8H950.4V283.2H951.2V277.6H953.6V283.2H956.1V288.8H956.9V294.3H958.5V299.9H960.2V305.5H965.1V311.1H965.9V305.5H968.3V311.1H969.1V305.5H969.9V311.1H973.2V305.5H974.0V311.1H978.1V316.7H978.9V311.1H979.7V316.7H980.5V311.1H983.0V316.7H983.8V311.1H984.6V316.7H987.1V311.1H987.9V316.7H988.7V311.1H994.4V316.7H995.2V311.1H997.7V316.7H998.5V311.1H999.3V316.7H1000.9V311.1H1003.4V316.7H1004.2V311.1H1005.0V316.7H1005.8V311.1H1006.7V316.7H1008.3V311.1H1010.7V316.7H1014.0V311.1H1017.3V316.7H1018.1V311.1H1020.5V316.7H1027.0V311.1H1027.9V316.7H1031.9V322.3H1033.6V316.7H1038.5V322.3H1039.3V316.7H1045.8V322.3H1046.6V316.7H1049.1V322.3H1049.9V316.7H1050.7V322.3H1052.3V316.7H1055.6V322.3H1056.4V316.7H1062.1V322.3H1062.9V311.1H1063.8V316.7H1066.2V322.3H1068.6V316.7H1076.0V322.3H1076.8V316.7H1117.6V322.3H1118.4V316.7H1123.3V322.3H1124.1V316.7H1124.9V311.1H1128.2V305.5H1129.0V311.1H1131.5V305.5H1132.3V311.1H1138.0V305.5H1138.8V311.1H1141.3V305.5H1142.1V311.1H1143.7V305.5H1145.3V311.1H1146.1V305.5H1149.4V311.1H1150.2V299.9H1151.0V311.1H1151.9V305.5H1171.4V299.9H1172.2V294.3H1173.1V299.9H1173.9V294.3H1174.7V288.8H1175.5V294.3H1176.3V288.8H1178.8V272.0H1179.6V283.2H1180.4V272.0H1181.2V277.6H1182.9V272.0H1183.7V266.4H1184.5V255.2H1185.3V249.7H1186.1V260.8H1186.9V266.4H1187.7V277.6H1190.2V272.0H1191.0V277.6H1192.6V272.0H1193.5V260.8H1195.1V266.4H1195.9V277.6H1196.7V283.2H1198.4V277.6H1199.2V266.4H1200.0V260.8H1200.8V283.2H1201.6V277.6H1203.2V272.0H1204.9V255.2H1206.5V260.8H1207.3V255.2H1208.1V188.2H1209.0V126.8H1209.8V82.1H1210.6V43.0" fill="none" stroke="#ff8000" stroke-width="2.2" stroke-linejoin="round" opacity="1"/>
<path d="M941.4 43.0H942.2V110.0H943.0V177.1H943.8V272.0H945.5V277.6H947.9V272.0H949.6V283.2H950.4V272.0H952.0V266.4H953.6V277.6H956.1V283.2H956.9V288.8H958.5V294.3H959.3V299.9H960.2V305.5H961.8V311.1H963.4V305.5H964.2V311.1H965.9V316.7H966.7V311.1H972.4V305.5H973.2V316.7H974.0V311.1H977.3V316.7H985.4V311.1H986.3V316.7H989.5V311.1H990.3V316.7H998.5V311.1H1000.1V316.7H1005.8V311.1H1007.5V316.7H1010.7V311.1H1011.5V316.7H1016.4V311.1H1018.1V316.7H1018.9V311.1H1019.7V316.7H1023.0V322.3H1023.8V316.7H1024.6V322.3H1025.4V316.7H1027.9V322.3H1030.3V316.7H1032.8V322.3H1034.4V316.7H1035.2V322.3H1036.0V316.7H1036.8V322.3H1037.7V316.7H1039.3V322.3H1040.1V316.7H1041.7V322.3H1045.0V316.7H1047.4V322.3H1048.3V316.7H1049.1V322.3H1049.9V316.7H1050.7V322.3H1053.2V316.7H1055.6V322.3H1057.2V316.7H1058.9V322.3H1059.7V316.7H1060.5V322.3H1061.3V316.7H1062.1V322.3H1065.4V316.7H1066.2V322.3H1067.0V316.7H1068.6V322.3H1069.5V316.7H1071.1V322.3H1073.5V316.7H1074.4V322.3H1075.2V316.7H1076.0V322.3H1076.8V316.7H1079.3V322.3H1080.1V316.7H1082.5V322.3H1083.3V316.7H1084.1V322.3H1085.0V316.7H1087.4V322.3H1088.2V316.7H1089.9V322.3H1090.7V316.7H1093.9V322.3H1094.8V316.7H1096.4V322.3H1097.2V316.7H1104.5V322.3H1106.2V316.7H1107.0V322.3H1107.8V316.7H1108.6V322.3H1110.3V316.7H1111.9V322.3H1112.7V316.7H1114.3V322.3H1115.1V316.7H1116.0V322.3H1116.8V316.7H1117.6V322.3H1120.9V316.7H1122.5V322.3H1124.9V316.7H1126.6V311.1H1127.4V316.7H1128.2V311.1H1129.0V316.7H1129.8V311.1H1133.1V316.7H1133.9V311.1H1135.5V316.7H1136.4V311.1H1138.8V316.7H1140.4V311.1H1142.9V316.7H1143.7V311.1H1148.6V305.5H1149.4V311.1H1152.7V305.5H1153.5V311.1H1155.1V305.5H1155.9V311.1H1169.0V305.5H1169.8V299.9H1172.2V288.8H1173.9V283.2H1174.7V277.6H1175.5V272.0H1176.3V288.8H1177.1V283.2H1178.0V272.0H1179.6V266.4H1180.4V272.0H1181.2V255.2H1182.0V249.7H1182.9V238.5H1184.5V227.3H1185.3V221.7H1186.1V227.3H1186.9V244.1H1187.7V255.2H1188.6V266.4H1189.4V260.8H1190.2V266.4H1191.0V277.6H1191.8V266.4H1192.6V255.2H1193.5V244.1H1194.3V249.7H1195.9V260.8H1196.7V249.7H1197.5V266.4H1198.4V255.2H1199.2V249.7H1200.8V260.8H1202.4V266.4H1203.2V260.8H1204.1V249.7H1204.9V238.5H1207.3V232.9H1208.1V177.1H1209.0V126.8H1209.8V87.7H1210.6V43.0" fill="none" stroke="#808000" stroke-width="2.4" stroke-linejoin="round" opacity="1"/>
<path d="M941.4 43.0H942.2V115.6H943.0V182.6H943.8V266.4H945.5V272.0H946.3V277.6H947.1V272.0H949.6V277.6H950.4V272.0H951.2V266.4H952.0V260.8H952.8V266.4H953.6V272.0H954.4V266.4H955.3V277.6H956.1V283.2H956.9V288.8H958.5V294.3H959.3V299.9H961.8V305.5H974.8V311.1H975.7V305.5H976.5V311.1H978.9V316.7H979.7V311.1H983.0V316.7H983.8V311.1H992.0V305.5H992.8V311.1H996.9V316.7H997.7V311.1H998.5V316.7H999.3V311.1H1003.4V316.7H1004.2V311.1H1009.1V316.7H1009.9V311.1H1014.0V316.7H1014.8V311.1H1020.5V316.7H1021.3V311.1H1023.0V316.7H1030.3V322.3H1031.1V316.7H1033.6V322.3H1034.4V316.7H1037.7V322.3H1039.3V316.7H1051.5V322.3H1052.3V316.7H1058.9V311.1H1059.7V316.7H1064.6V322.3H1065.4V316.7H1072.7V322.3H1073.5V316.7H1076.8V322.3H1078.4V316.7H1097.2V311.1H1098.0V316.7H1108.6V322.3H1109.4V316.7H1124.9V311.1H1129.0V305.5H1129.8V311.1H1130.6V305.5H1131.5V311.1H1132.3V305.5H1133.1V311.1H1138.0V305.5H1138.8V311.1H1140.4V305.5H1149.4V311.1H1150.2V305.5H1153.5V311.1H1154.3V305.5H1155.9V299.9H1156.8V305.5H1158.4V299.9H1159.2V305.5H1160.0V311.1H1160.8V305.5H1168.2V299.9H1171.4V294.3H1172.2V288.8H1173.1V277.6H1173.9V283.2H1174.7V277.6H1175.5V266.4H1177.1V272.0H1178.0V255.2H1180.4V238.5H1181.2V244.1H1182.0V249.7H1182.9V232.9H1183.7V244.1H1184.5V210.6H1185.3V221.7H1186.9V227.3H1187.7V232.9H1188.6V255.2H1189.4V244.1H1190.2V255.2H1191.0V260.8H1191.8V249.7H1193.5V238.5H1194.3V221.7H1195.1V244.1H1195.9V249.7H1196.7V255.2H1200.0V232.9H1200.8V238.5H1201.6V244.1H1202.4V266.4H1203.2V244.1H1204.9V232.9H1205.7V221.7H1207.3V216.1H1208.1V171.5H1209.0V132.4H1209.8V82.1H1210.6V43.0" fill="none" stroke="#008000" stroke-width="2.4" stroke-linejoin="round" opacity="1"/>
<path d="M941.4 43.0H942.2V115.6H943.0V182.6H943.8V260.8H944.7V266.4H945.5V272.0H947.9V266.4H949.6V272.0H950.4V266.4H952.0V255.2H952.8V260.8H954.4V266.4H955.3V272.0H956.1V277.6H956.9V283.2H957.7V288.8H958.5V294.3H960.2V299.9H961.8V305.5H962.6V299.9H963.4V305.5H965.1V299.9H965.9V305.5H977.3V311.1H1020.5V316.7H1063.8V322.3H1064.6V316.7H1077.6V311.1H1078.4V316.7H1112.7V311.1H1113.5V316.7H1116.8V322.3H1117.6V316.7H1124.9V311.1H1125.8V305.5H1126.6V311.1H1127.4V305.5H1128.2V311.1H1129.8V305.5H1138.0V311.1H1138.8V305.5H1145.3V299.9H1147.0V305.5H1151.0V299.9H1154.3V305.5H1155.1V299.9H1155.9V305.5H1158.4V299.9H1159.2V305.5H1160.0V299.9H1160.8V305.5H1163.3V299.9H1164.1V305.5H1166.5V299.9H1167.4V305.5H1168.2V299.9H1169.8V294.3H1172.2V283.2H1173.1V277.6H1173.9V294.3H1174.7V260.8H1175.5V272.0H1177.1V260.8H1178.0V255.2H1178.8V266.4H1179.6V244.1H1180.4V260.8H1181.2V244.1H1182.0V232.9H1182.9V238.5H1183.7V216.1H1185.3V210.6H1186.1V216.1H1186.9V227.3H1187.7V232.9H1188.6V249.7H1189.4V244.1H1190.2V260.8H1191.0V238.5H1191.8V244.1H1192.6V232.9H1193.5V227.3H1194.3V232.9H1196.7V260.8H1197.5V244.1H1198.4V238.5H1200.0V227.3H1200.8V238.5H1201.6V244.1H1202.4V260.8H1203.2V249.7H1204.1V238.5H1204.9V227.3H1205.7V216.1H1208.1V165.9H1209.0V126.8H1209.8V82.1H1210.6V43.0" fill="none" stroke="#fa74ee" stroke-width="2.6" stroke-linejoin="round" opacity="1"/>
<path d="M921 322.3H940.3V43" fill="none" stroke="#fa74ee" stroke-width="2.9"/>
<path d="M1213.4 43V322.3H1305" fill="none" stroke="#fa74ee" stroke-width="2.6"/>
<path d="M1211.0 43V322.3" fill="none" stroke="#fa74ee" stroke-width="3"/>
</g>
<line x1="921.0" y1="43.0" x2="1305.0" y2="43.0" stroke="#c8c8c8" stroke-width="1.2" />
<line x1="1304.5" y1="43.0" x2="1304.5" y2="351.0" stroke="#c8c8c8" stroke-width="1.2" />
<line x1="921.5" y1="42.5" x2="921.5" y2="351.0" stroke="#000" stroke-width="1.6" />
<line x1="920.5" y1="350.5" x2="1305.0" y2="350.5" stroke="#000" stroke-width="1.6" />
<line x1="918.0" y1="350.2" x2="921.5" y2="350.2" stroke="#000" stroke-width="1.4" />
<line x1="915.0" y1="322.3" x2="921.5" y2="322.3" stroke="#000" stroke-width="1.4" />
<line x1="918.0" y1="294.3" x2="921.5" y2="294.3" stroke="#000" stroke-width="1.4" />
<line x1="915.0" y1="266.4" x2="921.5" y2="266.4" stroke="#000" stroke-width="1.4" />
<line x1="918.0" y1="238.5" x2="921.5" y2="238.5" stroke="#000" stroke-width="1.4" />
<line x1="915.0" y1="210.6" x2="921.5" y2="210.6" stroke="#000" stroke-width="1.4" />
<line x1="918.0" y1="182.6" x2="921.5" y2="182.6" stroke="#000" stroke-width="1.4" />
<line x1="915.0" y1="154.7" x2="921.5" y2="154.7" stroke="#000" stroke-width="1.4" />
<line x1="918.0" y1="126.8" x2="921.5" y2="126.8" stroke="#000" stroke-width="1.4" />
<line x1="915.0" y1="98.9" x2="921.5" y2="98.9" stroke="#000" stroke-width="1.4" />
<line x1="918.0" y1="70.9" x2="921.5" y2="70.9" stroke="#000" stroke-width="1.4" />
<line x1="915.0" y1="43.0" x2="921.5" y2="43.0" stroke="#000" stroke-width="1.4" />
<line x1="937.3" y1="350.5" x2="937.3" y2="357.0" stroke="#000" stroke-width="1.4" />
<line x1="978.1" y1="350.5" x2="978.1" y2="354.0" stroke="#000" stroke-width="1.4" />
<line x1="1018.9" y1="350.5" x2="1018.9" y2="357.0" stroke="#000" stroke-width="1.4" />
<line x1="1059.7" y1="350.5" x2="1059.7" y2="354.0" stroke="#000" stroke-width="1.4" />
<line x1="1100.5" y1="350.5" x2="1100.5" y2="357.0" stroke="#000" stroke-width="1.4" />
<line x1="1141.3" y1="350.5" x2="1141.3" y2="354.0" stroke="#000" stroke-width="1.4" />
<line x1="1182.0" y1="350.5" x2="1182.0" y2="357.0" stroke="#000" stroke-width="1.4" />
<line x1="1222.8" y1="350.5" x2="1222.8" y2="354.0" stroke="#000" stroke-width="1.4" />
<line x1="1263.6" y1="350.5" x2="1263.6" y2="357.0" stroke="#000" stroke-width="1.4" />
<line x1="1304.4" y1="350.5" x2="1304.4" y2="354.0" stroke="#000" stroke-width="1.4" />
<text x="910.5" y="330.1" font-size="26" text-anchor="end" font-weight="bold" fill="#000" >0.0</text>
<text x="910.5" y="274.2" font-size="26" text-anchor="end" font-weight="bold" fill="#000" >0.1</text>
<text x="910.5" y="218.4" font-size="26" text-anchor="end" font-weight="bold" fill="#000" >0.2</text>
<text x="910.5" y="162.5" font-size="26" text-anchor="end" font-weight="bold" fill="#000" >0.3</text>
<text x="910.5" y="106.7" font-size="26" text-anchor="end" font-weight="bold" fill="#000" >0.4</text>
<text x="910.5" y="50.8" font-size="26" text-anchor="end" font-weight="bold" fill="#000" >0.5</text>
<text x="937.3" y="381.5" font-size="26" text-anchor="middle" font-weight="bold" fill="#000" >400</text>
<text x="1018.9" y="381.5" font-size="26" text-anchor="middle" font-weight="bold" fill="#000" >500</text>
<text x="1100.5" y="381.5" font-size="26" text-anchor="middle" font-weight="bold" fill="#000" >600</text>
<text x="1182.0" y="381.5" font-size="26" text-anchor="middle" font-weight="bold" fill="#000" >700</text>
<text x="1263.6" y="381.5" font-size="26" text-anchor="middle" font-weight="bold" fill="#000" >800</text>
<text x="1112.5" y="410.0" font-size="26.3" text-anchor="middle" font-weight="bold" fill="#000" >Wavelength (nm)</text>
<text transform="translate(862,184) rotate(-90)" font-size="26.3" font-weight="bold" text-anchor="middle">Abs</text>
<text x="820.0" y="27.0" font-size="52" text-anchor="start" font-weight="bold" fill="#000" >c</text>
<line x1="964.0" y1="293.0" x2="965.3" y2="261.5" stroke="#0000ff" stroke-width="3.4" />
<polygon points="966.0,245.5 971.0,263.7 959.5,263.2" fill="#0000ff"/>
<line x1="1159.5" y1="282.0" x2="1160.8" y2="250.5" stroke="#0000ff" stroke-width="3.4" />
<polygon points="1161.5,234.5 1166.5,252.7 1155.0,252.2" fill="#0000ff"/>
</g>
<g id="pd">
<clipPath id="cd"><rect x="1407" y="43" width="385" height="307"/></clipPath>
<g clip-path="url(#cd)">
<path d="M1407.0 229.7L1408.0 236.0L1408.9 242.2L1409.9 248.5L1410.8 254.8L1411.8 258.0L1412.8 261.3L1413.7 264.5L1414.7 267.7L1415.7 271.0L1416.6 274.2L1417.6 274.9L1418.5 275.6L1419.5 276.3L1420.5 277.0L1421.4 277.7L1422.4 278.4L1423.4 279.1L1424.3 279.8L1425.3 280.5L1426.2 281.2L1427.2 281.5L1428.2 281.8L1429.1 282.0L1430.1 282.3L1431.1 282.6L1432.0 282.9L1433.0 283.1L1434.0 283.4L1434.9 283.7L1435.9 284.0L1436.8 284.1L1437.8 284.3L1438.8 284.4L1439.7 284.5L1440.7 284.7L1441.7 284.8L1442.6 285.0L1443.6 285.1L1444.5 285.2L1445.5 285.4L1446.5 285.2L1447.4 285.1L1448.4 285.0L1449.3 284.8L1450.3 284.7L1451.3 284.5L1452.2 284.4L1453.2 284.3L1454.2 284.1L1455.1 284.0L1456.1 283.8L1457.0 283.7L1458.0 283.6L1459.0 283.4L1459.9 283.3L1460.9 283.1L1461.9 283.0L1462.8 282.9L1463.8 282.7L1464.8 282.6L1465.7 282.3L1466.7 282.0L1467.6 281.8L1468.6 281.5L1469.6 281.2L1470.5 280.9L1471.5 280.6L1472.5 280.4L1473.4 280.1L1474.4 279.8L1475.3 279.5L1476.3 279.3L1477.3 279.0L1478.2 278.7L1479.2 278.4L1480.2 278.1L1481.1 277.9L1482.1 277.6L1483.0 277.3L1484.0 277.0L1485.0 276.5L1485.9 275.9L1486.9 275.4L1487.8 274.8L1488.8 274.2L1489.8 273.7L1490.7 273.1L1491.7 272.6L1492.7 272.0L1493.6 271.5L1494.6 270.9L1495.5 270.3L1496.5 269.8L1497.5 269.2L1498.4 268.7L1499.4 268.1L1500.4 267.6L1501.3 267.0L1502.3 266.4L1503.2 265.9L1504.2 265.2L1505.2 264.5L1506.1 263.8L1507.1 263.1L1508.1 262.4L1509.0 261.7L1510.0 261.0L1511.0 260.3L1511.9 259.6L1512.9 258.9L1513.8 258.2L1514.8 257.5L1515.8 256.8L1516.7 256.1L1517.7 255.5L1518.7 254.8L1519.6 254.1L1520.6 253.4L1521.5 252.7L1522.5 252.0L1523.5 251.6L1524.4 251.2L1525.4 250.8L1526.3 250.4L1527.3 250.0L1528.3 249.6L1529.2 249.2L1530.2 248.8L1531.2 248.4L1532.1 248.0L1533.1 247.6L1534.0 247.2L1535.0 246.8L1536.0 246.4L1536.9 246.7L1537.9 247.0L1538.9 247.2L1539.8 247.5L1540.8 247.8L1541.8 248.1L1542.7 248.4L1543.7 248.6L1544.6 248.9L1545.6 249.2L1546.6 250.9L1547.5 252.5L1548.5 254.2L1549.5 255.9L1550.4 257.5L1551.4 259.2L1552.3 260.9L1553.3 262.6L1554.3 264.2L1555.2 265.9L1556.2 268.1L1557.2 270.3L1558.1 272.6L1559.1 274.8L1560.0 277.0L1561.0 279.3L1562.0 281.5L1562.9 283.7L1563.9 285.9L1564.8 288.2L1565.8 289.2L1566.8 290.2L1567.7 291.3L1568.7 292.3L1569.7 293.4L1570.6 294.4L1571.6 295.5L1572.5 296.5L1573.5 297.2L1574.5 297.9L1575.4 298.6L1576.4 299.3L1577.4 300.0L1578.3 300.7L1579.3 301.4L1580.2 302.1L1581.2 302.4L1582.2 302.8L1583.1 303.1L1584.1 303.5L1585.1 303.8L1586.0 304.2L1587.0 304.5L1588.0 304.9L1588.9 305.2L1589.9 305.6L1590.8 305.9L1591.8 306.3L1592.8 306.6L1593.7 306.9L1594.7 307.3L1595.7 307.6L1596.6 308.0L1597.6 308.3L1598.5 308.7L1599.5 309.0L1600.5 309.1L1601.4 309.2L1602.4 309.2L1603.3 309.3L1604.3 309.4L1605.3 309.5L1606.2 309.5L1607.2 309.6L1608.2 309.7L1609.1 309.7L1610.1 309.8L1611.0 309.9L1612.0 309.9L1613.0 310.0L1613.9 310.1L1614.9 310.2L1615.9 310.2L1616.8 310.3L1617.8 310.4L1618.8 310.4L1619.7 310.4L1620.7 310.4L1621.6 310.3L1622.6 310.3L1623.6 310.3L1624.5 310.2L1625.5 310.2L1626.5 310.2L1627.4 310.1L1628.4 310.1L1629.3 310.0L1630.3 310.0L1631.3 310.0L1632.2 309.9L1633.2 309.9L1634.2 309.9L1635.1 309.8L1636.1 309.8L1637.0 309.8L1638.0 309.7L1639.0 309.7L1639.9 309.7L1640.9 309.6L1641.8 309.6L1642.8 309.6L1643.8 309.5L1644.7 309.5L1645.7 309.5L1646.7 309.4L1647.6 309.4L1648.6 309.4L1649.5 309.3L1650.5 309.3L1651.5 309.2L1652.4 309.2L1653.4 309.2L1654.4 309.1L1655.3 309.1L1656.3 309.1L1657.2 309.0L1658.2 308.9L1659.2 308.8L1660.1 308.7L1661.1 308.6L1662.1 308.5L1663.0 308.4L1664.0 308.3L1665.0 308.2L1665.9 308.1L1666.9 308.0L1667.8 307.9L1668.8 307.8L1669.8 307.7L1670.7 307.6L1671.7 307.5L1672.7 307.4L1673.6 307.3L1674.6 307.2L1675.5 307.1L1676.5 306.9L1677.5 306.8L1678.4 306.7L1679.4 306.6L1680.3 306.5L1681.3 306.4L1682.3 306.3L1683.2 306.2L1684.2 306.1L1685.2 306.0L1686.1 305.9L1687.1 305.8L1688.0 305.7L1689.0 305.6L1690.0 305.5L1690.9 305.4L1691.9 305.3L1692.9 305.2L1693.8 305.1L1694.8 305.0L1695.8 304.9L1696.7 304.6L1697.7 304.4L1698.6 304.2L1699.6 303.9L1700.6 303.7L1701.5 303.5L1702.5 303.2L1703.5 303.0L1704.4 302.8L1705.4 302.5L1706.3 302.3L1707.3 302.1L1708.3 301.8L1709.2 301.6L1710.2 301.4L1711.2 301.2L1712.1 300.9L1713.1 300.7L1714.0 300.5L1715.0 300.2L1716.0 300.0L1716.9 299.8L1717.9 299.5L1718.8 299.3L1719.8 299.1L1720.8 298.8L1721.7 298.6L1722.7 298.4L1723.7 298.1L1724.6 297.9L1725.6 297.4L1726.5 296.9L1727.5 296.4L1728.5 296.0L1729.4 295.5L1730.4 295.0L1731.4 294.5L1732.3 294.0L1733.3 293.5L1734.2 293.0L1735.2 292.5L1736.2 292.1L1737.1 291.6L1738.1 291.1L1739.1 290.6L1740.0 290.1L1741.0 289.6L1742.0 289.1L1742.9 288.6L1743.9 288.2L1744.8 287.0L1745.8 285.8L1746.8 284.6L1747.7 283.4L1748.7 282.2L1749.7 281.0L1750.6 279.8L1751.6 278.6L1752.5 277.4L1753.5 276.2L1754.5 275.0L1755.4 273.8L1756.4 272.7L1757.3 271.5L1758.3 269.8L1759.3 268.2L1760.2 266.6L1761.2 265.0L1762.2 263.3L1763.1 261.7L1764.1 260.1L1765.0 258.5L1766.0 256.8L1767.0 255.2L1767.9 253.6L1768.9 252.0L1769.9 251.3L1770.8 250.6L1771.8 249.9L1772.8 249.2L1773.7 248.5L1774.7 247.8L1775.6 247.1L1776.6 246.4L1777.6 245.7L1778.5 245.0L1779.5 244.9L1780.5 244.8L1781.4 244.7L1782.4 244.6L1783.3 244.5L1784.3 244.4L1785.3 244.3L1786.2 244.2L1787.2 244.1L1788.2 244.0L1789.1 243.9L1790.1 243.8L1791.0 243.7L1792.0 243.6" fill="none" stroke="#20d494" stroke-width="2.8" stroke-linejoin="round" />
<path d="M1407.0 267.4L1408.0 266.9L1408.9 265.8L1409.9 263.9L1410.8 272.8L1411.8 276.4L1412.8 279.6L1413.7 280.3L1414.7 281.0L1415.7 285.4L1416.6 284.1L1417.6 288.2L1418.5 285.0L1419.5 288.0L1420.5 286.5L1421.4 285.7L1422.4 287.4L1423.4 290.0L1424.3 292.2L1425.3 294.8L1426.2 288.7L1427.2 288.9L1428.2 285.7L1429.1 288.8L1430.1 290.9L1431.1 295.1L1432.0 296.6L1433.0 301.6L1434.0 297.1L1434.9 295.3L1435.9 293.3L1436.8 292.3L1437.8 299.1L1438.8 307.0L1439.7 301.5L1440.7 300.4L1441.7 303.6L1442.6 305.2L1443.6 301.1L1444.5 296.3L1445.5 298.0L1446.5 302.2L1447.4 300.1L1448.4 298.3L1449.3 304.3L1450.3 301.8L1451.3 305.7L1452.2 304.9L1453.2 303.2L1454.2 303.9L1455.1 308.8L1456.1 305.8L1457.0 309.6L1458.0 305.3L1459.0 310.9L1459.9 309.6L1460.9 309.0L1461.9 309.3L1462.8 306.9L1463.8 305.6L1464.8 300.4L1465.7 301.9L1466.7 300.7L1467.6 306.8L1468.6 303.4L1469.6 301.8L1470.5 299.3L1471.5 297.7L1472.5 303.5L1473.4 307.4L1474.4 307.6L1475.3 307.0L1476.3 300.5L1477.3 307.0L1478.2 304.1L1479.2 299.6L1480.2 300.5L1481.1 304.5L1482.1 304.7L1483.0 300.4L1484.0 297.4L1485.0 298.0L1485.9 296.4L1486.9 292.2L1487.8 294.7L1488.8 288.8L1489.8 294.2L1490.7 287.9L1491.7 294.2L1492.7 288.8L1493.6 289.7L1494.6 294.2L1495.5 291.2L1496.5 288.1L1497.5 286.0L1498.4 285.3L1499.4 285.2L1500.4 284.8L1501.3 282.7L1502.3 277.7L1503.2 276.6L1504.2 278.1L1505.2 281.3L1506.1 280.3L1507.1 277.8L1508.1 278.1L1509.0 289.4L1510.0 294.9L1511.0 299.2L1511.9 300.3L1512.9 295.0L1513.8 298.5L1514.8 299.0L1515.8 300.3L1516.7 306.1L1517.7 307.1L1518.7 306.3L1519.6 306.5L1520.6 305.2L1521.5 305.0L1522.5 304.4L1523.5 307.1L1524.4 300.1L1525.4 297.6L1526.3 299.5L1527.3 299.3L1528.3 299.8L1529.2 302.7L1530.2 295.9L1531.2 295.4L1532.1 290.1L1533.1 285.7L1534.0 291.4L1535.0 293.2L1536.0 288.6L1536.9 286.3L1537.9 283.7L1538.9 279.7L1539.8 273.4L1540.8 273.7L1541.8 267.7L1542.7 267.3L1543.7 273.8L1544.6 278.4L1545.6 280.1L1546.6 281.3L1547.5 283.6L1548.5 285.9L1549.5 284.3L1550.4 290.9L1551.4 288.1L1552.3 292.0L1553.3 297.9L1554.3 305.7L1555.2 302.0L1556.2 305.4L1557.2 310.4L1558.1 310.4L1559.1 310.4L1560.0 310.4L1561.0 310.4L1562.0 310.4L1562.9 310.4L1563.9 310.4L1564.8 310.4L1565.8 310.4L1566.8 310.4L1567.7 310.4L1568.7 310.4L1569.7 313.2L1570.6 313.2L1571.6 313.2L1572.5 313.2L1573.5 313.2L1574.5 313.2L1575.4 313.2L1576.4 313.2L1577.4 313.2L1578.3 313.2L1579.3 313.2L1580.2 313.2L1581.2 313.2L1582.2 313.2L1583.1 313.2L1584.1 313.2L1585.1 313.2L1586.0 313.2L1587.0 313.2L1588.0 313.2L1588.9 313.2L1589.9 313.2L1590.8 313.2L1591.8 313.2L1592.8 313.2L1593.7 313.2L1594.7 313.2L1595.7 313.2L1596.6 313.2L1597.6 313.2L1598.5 313.2L1599.5 313.2L1600.5 313.2L1601.4 313.2L1602.4 313.2L1603.3 313.2L1604.3 313.2L1605.3 313.2L1606.2 313.2L1607.2 313.2L1608.2 313.2L1609.1 313.2L1610.1 313.2L1611.0 313.2L1612.0 313.2L1613.0 313.2L1613.9 313.2L1614.9 313.2L1615.9 313.2L1616.8 313.2L1617.8 313.2L1618.8 313.2L1619.7 313.2L1620.7 313.2L1621.6 313.2L1622.6 313.2L1623.6 313.2L1624.5 313.2L1625.5 313.2L1626.5 313.2L1627.4 313.2L1628.4 313.2L1629.3 313.2L1630.3 313.2L1631.3 313.2L1632.2 313.2L1633.2 313.2L1634.2 313.2L1635.1 313.2L1636.1 313.2L1637.0 313.2L1638.0 316.0L1639.0 313.2L1639.9 313.2L1640.9 313.2L1641.8 313.2L1642.8 313.2L1643.8 313.2L1644.7 313.2L1645.7 313.2L1646.7 313.2L1647.6 313.2L1648.6 313.2L1649.5 313.2L1650.5 313.2L1651.5 313.2L1652.4 313.2L1653.4 313.2L1654.4 313.2L1655.3 313.2L1656.3 313.2L1657.2 313.2L1658.2 313.2L1659.2 313.2L1660.1 313.2L1661.1 313.2L1662.1 313.2L1663.0 313.2L1664.0 313.2L1665.0 313.2L1665.9 313.2L1666.9 313.2L1667.8 313.2L1668.8 313.2L1669.8 313.2L1670.7 313.2L1671.7 313.2L1672.7 313.2L1673.6 313.2L1674.6 313.2L1675.5 313.2L1676.5 313.2L1677.5 313.2L1678.4 313.2L1679.4 313.2L1680.3 313.2L1681.3 313.2L1682.3 313.2L1683.2 313.2L1684.2 313.2L1685.2 313.2L1686.1 313.2L1687.1 313.2L1688.0 313.2L1689.0 313.2L1690.0 313.2L1690.9 313.2L1691.9 313.2L1692.9 313.2L1693.8 313.2L1694.8 313.2L1695.8 313.2L1696.7 313.2L1697.7 313.2L1698.6 313.2L1699.6 313.2L1700.6 313.2L1701.5 313.2L1702.5 313.2L1703.5 313.2L1704.4 313.2L1705.4 313.2L1706.3 313.2L1707.3 313.2L1708.3 313.2L1709.2 313.2L1710.2 313.2L1711.2 313.2L1712.1 313.2L1713.1 313.2L1714.0 313.2L1715.0 313.2L1716.0 313.2L1716.9 313.2L1717.9 313.2L1718.8 313.2L1719.8 310.4L1720.8 310.4L1721.7 310.4L1722.7 310.4L1723.7 310.4L1724.6 310.4L1725.6 310.4L1726.5 310.4L1727.5 310.4L1728.5 310.4L1729.4 310.4L1730.4 310.4L1731.4 310.4L1732.3 310.4L1733.3 310.4L1734.2 310.4L1735.2 310.4L1736.2 310.4L1737.1 310.4L1738.1 310.4L1739.1 310.4L1740.0 310.4L1741.0 310.4L1742.0 310.4L1742.9 310.4L1743.9 310.4L1744.8 310.4L1745.8 307.6L1746.8 305.3L1747.7 301.1L1748.7 304.6L1749.7 302.3L1750.6 300.6L1751.6 297.0L1752.5 298.7L1753.5 294.6L1754.5 299.3L1755.4 299.8L1756.4 301.5L1757.3 302.8L1758.3 294.6L1759.3 294.0L1760.2 293.9L1761.2 292.5L1762.2 291.3L1763.1 294.9L1764.1 292.9L1765.0 288.6L1766.0 290.7L1767.0 287.9L1767.9 286.5L1768.9 286.8L1769.9 287.4L1770.8 284.7L1771.8 280.2L1772.8 276.3L1773.7 282.7L1774.7 281.5L1775.6 280.3L1776.6 287.3L1777.6 290.4L1778.5 286.9L1779.5 285.4L1780.5 285.8L1781.4 281.1L1782.4 280.9L1783.3 278.3L1784.3 280.6L1785.3 281.2L1786.2 283.7L1787.2 281.4L1788.2 281.2L1789.1 284.4L1790.1 283.3L1791.0 284.6L1792.0 288.7" fill="none" stroke="#e8a8f4" stroke-width="1.3" stroke-linejoin="round" opacity="1"/>
<path d="M1407.0 260.8L1408.0 263.1L1408.9 265.0L1409.9 264.2L1410.8 267.6L1411.8 274.8L1412.8 273.3L1413.7 275.5L1414.7 277.4L1415.7 278.2L1416.6 279.2L1417.6 276.3L1418.5 276.9L1419.5 279.4L1420.5 283.8L1421.4 287.3L1422.4 285.2L1423.4 280.9L1424.3 283.3L1425.3 285.4L1426.2 284.7L1427.2 291.3L1428.2 291.1L1429.1 288.7L1430.1 286.6L1431.1 289.6L1432.0 289.3L1433.0 290.0L1434.0 288.9L1434.9 295.0L1435.9 292.8L1436.8 298.6L1437.8 305.3L1438.8 302.1L1439.7 301.7L1440.7 295.6L1441.7 293.4L1442.6 298.8L1443.6 294.7L1444.5 298.9L1445.5 298.2L1446.5 298.6L1447.4 297.6L1448.4 294.9L1449.3 294.3L1450.3 295.0L1451.3 294.6L1452.2 295.1L1453.2 299.1L1454.2 301.6L1455.1 302.2L1456.1 299.2L1457.0 300.2L1458.0 292.1L1459.0 298.7L1459.9 303.0L1460.9 298.9L1461.9 294.8L1462.8 295.8L1463.8 295.2L1464.8 293.1L1465.7 297.1L1466.7 303.6L1467.6 303.9L1468.6 299.2L1469.6 304.3L1470.5 301.7L1471.5 299.5L1472.5 300.1L1473.4 296.7L1474.4 295.2L1475.3 288.5L1476.3 290.5L1477.3 295.5L1478.2 297.6L1479.2 299.3L1480.2 294.0L1481.1 296.2L1482.1 295.4L1483.0 292.1L1484.0 295.1L1485.0 294.2L1485.9 298.3L1486.9 297.3L1487.8 294.4L1488.8 289.1L1489.8 283.3L1490.7 283.8L1491.7 282.5L1492.7 281.6L1493.6 277.5L1494.6 275.5L1495.5 275.9L1496.5 279.9L1497.5 274.8L1498.4 274.2L1499.4 270.8L1500.4 273.1L1501.3 267.4L1502.3 272.0L1503.2 267.6L1504.2 273.8L1505.2 280.6L1506.1 287.7L1507.1 289.6L1508.1 286.9L1509.0 289.2L1510.0 289.2L1511.0 299.4L1511.9 294.2L1512.9 292.1L1513.8 294.7L1514.8 296.3L1515.8 295.0L1516.7 288.6L1517.7 294.7L1518.7 295.6L1519.6 290.1L1520.6 293.4L1521.5 294.8L1522.5 293.9L1523.5 298.8L1524.4 296.8L1525.4 301.0L1526.3 296.5L1527.3 297.6L1528.3 291.0L1529.2 294.7L1530.2 293.4L1531.2 302.1L1532.1 302.9L1533.1 300.0L1534.0 293.1L1535.0 300.4L1536.0 294.5L1536.9 292.1L1537.9 287.1L1538.9 286.6L1539.8 287.9L1540.8 289.8L1541.8 292.4L1542.7 290.2L1543.7 290.7L1544.6 283.8L1545.6 289.4L1546.6 289.4L1547.5 296.0L1548.5 295.6L1549.5 293.5L1550.4 290.9L1551.4 287.7L1552.3 293.2L1553.3 300.7L1554.3 300.3L1555.2 301.1L1556.2 302.7L1557.2 307.6L1558.1 307.6L1559.1 307.6L1560.0 307.6L1561.0 307.6L1562.0 310.4L1562.9 310.4L1563.9 310.4L1564.8 310.4L1565.8 310.4L1566.8 310.4L1567.7 310.4L1568.7 310.4L1569.7 310.4L1570.6 310.4L1571.6 313.2L1572.5 313.2L1573.5 313.2L1574.5 313.2L1575.4 313.2L1576.4 313.2L1577.4 313.2L1578.3 313.2L1579.3 313.2L1580.2 313.2L1581.2 313.2L1582.2 313.2L1583.1 313.2L1584.1 313.2L1585.1 313.2L1586.0 313.2L1587.0 313.2L1588.0 313.2L1588.9 313.2L1589.9 313.2L1590.8 313.2L1591.8 313.2L1592.8 313.2L1593.7 313.2L1594.7 313.2L1595.7 313.2L1596.6 313.2L1597.6 313.2L1598.5 313.2L1599.5 313.2L1600.5 313.2L1601.4 313.2L1602.4 313.2L1603.3 313.2L1604.3 313.2L1605.3 313.2L1606.2 313.2L1607.2 313.2L1608.2 313.2L1609.1 313.2L1610.1 313.2L1611.0 313.2L1612.0 313.2L1613.0 313.2L1613.9 313.2L1614.9 313.2L1615.9 313.2L1616.8 313.2L1617.8 313.2L1618.8 313.2L1619.7 313.2L1620.7 313.2L1621.6 313.2L1622.6 313.2L1623.6 313.2L1624.5 313.2L1625.5 313.2L1626.5 313.2L1627.4 313.2L1628.4 313.2L1629.3 313.2L1630.3 313.2L1631.3 313.2L1632.2 313.2L1633.2 313.2L1634.2 313.2L1635.1 313.2L1636.1 313.2L1637.0 313.2L1638.0 313.2L1639.0 313.2L1639.9 313.2L1640.9 313.2L1641.8 313.2L1642.8 313.2L1643.8 313.2L1644.7 313.2L1645.7 313.2L1646.7 313.2L1647.6 313.2L1648.6 313.2L1649.5 313.2L1650.5 313.2L1651.5 313.2L1652.4 313.2L1653.4 313.2L1654.4 313.2L1655.3 313.2L1656.3 313.2L1657.2 313.2L1658.2 313.2L1659.2 313.2L1660.1 313.2L1661.1 313.2L1662.1 313.2L1663.0 313.2L1664.0 313.2L1665.0 313.2L1665.9 313.2L1666.9 313.2L1667.8 313.2L1668.8 313.2L1669.8 313.2L1670.7 313.2L1671.7 313.2L1672.7 313.2L1673.6 313.2L1674.6 313.2L1675.5 313.2L1676.5 313.2L1677.5 313.2L1678.4 313.2L1679.4 313.2L1680.3 313.2L1681.3 313.2L1682.3 313.2L1683.2 313.2L1684.2 313.2L1685.2 313.2L1686.1 313.2L1687.1 313.2L1688.0 313.2L1689.0 313.2L1690.0 313.2L1690.9 313.2L1691.9 313.2L1692.9 313.2L1693.8 313.2L1694.8 313.2L1695.8 310.4L1696.7 310.4L1697.7 310.4L1698.6 310.4L1699.6 310.4L1700.6 310.4L1701.5 310.4L1702.5 310.4L1703.5 310.4L1704.4 310.4L1705.4 310.4L1706.3 310.4L1707.3 310.4L1708.3 310.4L1709.2 310.4L1710.2 310.4L1711.2 310.4L1712.1 310.4L1713.1 310.4L1714.0 310.4L1715.0 310.4L1716.0 310.4L1716.9 310.4L1717.9 310.4L1718.8 310.4L1719.8 310.4L1720.8 310.4L1721.7 310.4L1722.7 310.4L1723.7 310.4L1724.6 310.4L1725.6 310.4L1726.5 310.4L1727.5 310.4L1728.5 310.4L1729.4 310.4L1730.4 310.4L1731.4 310.4L1732.3 310.4L1733.3 310.4L1734.2 310.4L1735.2 310.4L1736.2 310.4L1737.1 307.6L1738.1 307.6L1739.1 307.6L1740.0 307.6L1741.0 307.6L1742.0 304.9L1742.9 304.9L1743.9 304.9L1744.8 304.9L1745.8 304.9L1746.8 304.2L1747.7 299.4L1748.7 300.2L1749.7 298.2L1750.6 295.1L1751.6 295.4L1752.5 296.4L1753.5 290.4L1754.5 292.6L1755.4 294.9L1756.4 293.9L1757.3 288.2L1758.3 289.2L1759.3 287.6L1760.2 283.9L1761.2 287.0L1762.2 292.0L1763.1 287.0L1764.1 284.0L1765.0 284.6L1766.0 278.6L1767.0 275.4L1767.9 278.2L1768.9 273.4L1769.9 272.4L1770.8 275.1L1771.8 269.0L1772.8 266.6L1773.7 271.0L1774.7 270.2L1775.6 271.1L1776.6 276.2L1777.6 276.7L1778.5 276.0L1779.5 278.9L1780.5 276.0L1781.4 275.1L1782.4 266.4L1783.3 275.2L1784.3 270.3L1785.3 273.6L1786.2 275.5L1787.2 270.6L1788.2 275.4L1789.1 271.2L1790.1 278.9L1791.0 281.0L1792.0 285.7" fill="none" stroke="#ff8a20" stroke-width="1.7" stroke-linejoin="round" opacity="1"/>
<path d="M1407.0 233.0L1408.0 237.1L1408.9 239.5L1409.9 241.4L1410.8 249.5L1411.8 257.3L1412.8 261.2L1413.7 259.6L1414.7 257.8L1415.7 261.4L1416.6 269.6L1417.6 263.6L1418.5 270.9L1419.5 271.2L1420.5 271.8L1421.4 269.7L1422.4 266.1L1423.4 273.2L1424.3 273.1L1425.3 271.2L1426.2 275.5L1427.2 272.7L1428.2 269.8L1429.1 272.8L1430.1 273.7L1431.1 269.4L1432.0 267.3L1433.0 264.2L1434.0 255.4L1434.9 254.9L1435.9 255.6L1436.8 261.7L1437.8 260.0L1438.8 265.6L1439.7 261.2L1440.7 261.0L1441.7 272.2L1442.6 275.8L1443.6 274.9L1444.5 275.9L1445.5 280.0L1446.5 281.9L1447.4 276.7L1448.4 278.6L1449.3 283.3L1450.3 281.8L1451.3 277.2L1452.2 272.9L1453.2 276.5L1454.2 279.9L1455.1 283.6L1456.1 284.8L1457.0 282.3L1458.0 278.9L1459.0 277.7L1459.9 282.3L1460.9 281.2L1461.9 281.5L1462.8 282.9L1463.8 293.7L1464.8 291.5L1465.7 291.3L1466.7 286.2L1467.6 289.2L1468.6 288.6L1469.6 289.2L1470.5 286.4L1471.5 286.9L1472.5 286.6L1473.4 285.2L1474.4 286.5L1475.3 286.7L1476.3 289.8L1477.3 289.8L1478.2 282.4L1479.2 285.5L1480.2 285.0L1481.1 286.3L1482.1 287.2L1483.0 296.3L1484.0 284.7L1485.0 288.2L1485.9 288.3L1486.9 280.6L1487.8 288.8L1488.8 284.5L1489.8 283.9L1490.7 287.4L1491.7 280.6L1492.7 281.4L1493.6 279.1L1494.6 277.8L1495.5 272.8L1496.5 264.0L1497.5 270.5L1498.4 265.9L1499.4 267.9L1500.4 267.0L1501.3 270.8L1502.3 269.4L1503.2 265.5L1504.2 261.3L1505.2 261.6L1506.1 261.3L1507.1 261.1L1508.1 268.7L1509.0 263.6L1510.0 267.5L1511.0 266.6L1511.9 269.6L1512.9 270.2L1513.8 268.1L1514.8 276.5L1515.8 266.1L1516.7 266.8L1517.7 263.8L1518.7 265.0L1519.6 265.7L1520.6 270.5L1521.5 269.5L1522.5 274.8L1523.5 270.6L1524.4 262.5L1525.4 270.0L1526.3 269.5L1527.3 268.1L1528.3 262.1L1529.2 258.8L1530.2 260.9L1531.2 261.7L1532.1 262.8L1533.1 264.3L1534.0 264.9L1535.0 265.0L1536.0 263.9L1536.9 262.4L1537.9 263.9L1538.9 260.3L1539.8 260.6L1540.8 258.7L1541.8 263.9L1542.7 265.0L1543.7 263.2L1544.6 261.9L1545.6 263.1L1546.6 258.2L1547.5 261.9L1548.5 258.6L1549.5 257.3L1550.4 259.3L1551.4 261.4L1552.3 264.6L1553.3 269.9L1554.3 277.2L1555.2 280.3L1556.2 283.5L1557.2 282.6L1558.1 285.4L1559.1 288.2L1560.0 290.9L1561.0 293.7L1562.0 293.7L1562.9 293.7L1563.9 296.5L1564.8 296.5L1565.8 296.5L1566.8 296.5L1567.7 296.5L1568.7 299.3L1569.7 299.3L1570.6 299.3L1571.6 299.3L1572.5 299.3L1573.5 302.1L1574.5 302.1L1575.4 302.1L1576.4 302.1L1577.4 302.1L1578.3 304.9L1579.3 304.9L1580.2 304.9L1581.2 304.9L1582.2 304.9L1583.1 304.9L1584.1 304.9L1585.1 304.9L1586.0 304.9L1587.0 304.9L1588.0 304.9L1588.9 304.9L1589.9 304.9L1590.8 304.9L1591.8 304.9L1592.8 304.9L1593.7 304.9L1594.7 304.9L1595.7 307.6L1596.6 307.6L1597.6 307.6L1598.5 307.6L1599.5 307.6L1600.5 307.6L1601.4 307.6L1602.4 307.6L1603.3 307.6L1604.3 307.6L1605.3 307.6L1606.2 307.6L1607.2 307.6L1608.2 307.6L1609.1 307.6L1610.1 307.6L1611.0 307.6L1612.0 307.6L1613.0 307.6L1613.9 307.6L1614.9 307.6L1615.9 307.6L1616.8 307.6L1617.8 307.6L1618.8 307.6L1619.7 307.6L1620.7 307.6L1621.6 307.6L1622.6 307.6L1623.6 310.4L1624.5 310.4L1625.5 310.4L1626.5 310.4L1627.4 310.4L1628.4 310.4L1629.3 310.4L1630.3 310.4L1631.3 310.4L1632.2 310.4L1633.2 310.4L1634.2 310.4L1635.1 310.4L1636.1 310.4L1637.0 310.4L1638.0 310.4L1639.0 310.4L1639.9 310.4L1640.9 310.4L1641.8 310.4L1642.8 310.4L1643.8 310.4L1644.7 310.4L1645.7 310.4L1646.7 310.4L1647.6 310.4L1648.6 310.4L1649.5 310.4L1650.5 310.4L1651.5 310.4L1652.4 310.4L1653.4 310.4L1654.4 310.4L1655.3 310.4L1656.3 310.4L1657.2 310.4L1658.2 310.4L1659.2 310.4L1660.1 310.4L1661.1 310.4L1662.1 310.4L1663.0 310.4L1664.0 310.4L1665.0 310.4L1665.9 310.4L1666.9 310.4L1667.8 307.6L1668.8 307.6L1669.8 307.6L1670.7 307.6L1671.7 307.6L1672.7 307.6L1673.6 307.6L1674.6 307.6L1675.5 307.6L1676.5 307.6L1677.5 307.6L1678.4 307.6L1679.4 307.6L1680.3 307.6L1681.3 307.6L1682.3 307.6L1683.2 307.6L1684.2 307.6L1685.2 307.6L1686.1 307.6L1687.1 307.6L1688.0 307.6L1689.0 307.6L1690.0 307.6L1690.9 307.6L1691.9 307.6L1692.9 307.6L1693.8 307.6L1694.8 307.6L1695.8 307.6L1696.7 307.6L1697.7 307.6L1698.6 307.6L1699.6 307.6L1700.6 307.6L1701.5 307.6L1702.5 307.6L1703.5 307.6L1704.4 307.6L1705.4 304.9L1706.3 304.9L1707.3 304.9L1708.3 304.9L1709.2 304.9L1710.2 304.9L1711.2 304.9L1712.1 304.9L1713.1 304.9L1714.0 304.9L1715.0 304.9L1716.0 304.9L1716.9 304.9L1717.9 304.9L1718.8 304.9L1719.8 304.9L1720.8 304.9L1721.7 304.9L1722.7 304.9L1723.7 304.9L1724.6 304.9L1725.6 302.1L1726.5 302.1L1727.5 302.1L1728.5 302.1L1729.4 302.1L1730.4 302.1L1731.4 302.1L1732.3 302.1L1733.3 302.1L1734.2 302.1L1735.2 302.1L1736.2 299.3L1737.1 299.3L1738.1 299.3L1739.1 299.3L1740.0 296.5L1741.0 296.5L1742.0 296.5L1742.9 293.7L1743.9 293.7L1744.8 293.7L1745.8 290.9L1746.8 294.5L1747.7 294.5L1748.7 295.2L1749.7 291.1L1750.6 284.3L1751.6 288.2L1752.5 292.9L1753.5 290.7L1754.5 291.3L1755.4 290.5L1756.4 290.6L1757.3 286.4L1758.3 281.6L1759.3 273.1L1760.2 279.8L1761.2 283.6L1762.2 280.9L1763.1 279.0L1764.1 271.5L1765.0 268.1L1766.0 272.4L1767.0 278.6L1767.9 272.3L1768.9 272.0L1769.9 265.2L1770.8 266.2L1771.8 266.1L1772.8 269.0L1773.7 266.0L1774.7 259.9L1775.6 262.8L1776.6 260.3L1777.6 260.9L1778.5 255.5L1779.5 255.3L1780.5 252.5L1781.4 251.2L1782.4 253.9L1783.3 255.4L1784.3 247.2L1785.3 248.0L1786.2 249.9L1787.2 253.6L1788.2 249.3L1789.1 254.1L1790.1 254.6L1791.0 267.9L1792.0 260.8" fill="none" stroke="#ffff70" stroke-width="1.3" stroke-linejoin="round" opacity="1"/>
<path d="M1407.0 242.1L1408.0 237.9L1408.9 237.0L1409.9 240.2L1410.8 240.0L1411.8 239.4L1412.8 239.8L1413.7 240.2L1414.7 238.4L1415.7 236.4L1416.6 233.6L1417.6 238.7L1418.5 244.0L1419.5 241.2L1420.5 244.0L1421.4 247.6L1422.4 239.7L1423.4 239.3L1424.3 244.0L1425.3 246.5L1426.2 245.1L1427.2 245.3L1428.2 244.5L1429.1 246.5L1430.1 254.4L1431.1 258.5L1432.0 249.7L1433.0 248.3L1434.0 257.2L1434.9 252.0L1435.9 249.6L1436.8 246.9L1437.8 248.4L1438.8 248.1L1439.7 252.7L1440.7 258.1L1441.7 255.6L1442.6 253.1L1443.6 253.8L1444.5 259.1L1445.5 257.7L1446.5 258.4L1447.4 253.6L1448.4 259.0L1449.3 261.3L1450.3 261.3L1451.3 258.6L1452.2 253.8L1453.2 254.4L1454.2 262.4L1455.1 265.1L1456.1 256.8L1457.0 258.3L1458.0 261.0L1459.0 260.2L1459.9 259.3L1460.9 255.1L1461.9 259.2L1462.8 265.1L1463.8 269.4L1464.8 264.3L1465.7 265.2L1466.7 265.0L1467.6 263.6L1468.6 268.8L1469.6 261.0L1470.5 264.5L1471.5 266.1L1472.5 267.1L1473.4 266.0L1474.4 267.4L1475.3 267.0L1476.3 262.6L1477.3 257.2L1478.2 256.3L1479.2 262.8L1480.2 262.4L1481.1 254.8L1482.1 255.9L1483.0 255.5L1484.0 256.1L1485.0 249.2L1485.9 252.8L1486.9 254.2L1487.8 248.6L1488.8 257.2L1489.8 257.4L1490.7 246.3L1491.7 251.0L1492.7 252.2L1493.6 262.3L1494.6 260.5L1495.5 263.3L1496.5 264.0L1497.5 265.0L1498.4 262.4L1499.4 262.9L1500.4 257.1L1501.3 266.4L1502.3 264.5L1503.2 257.8L1504.2 255.3L1505.2 249.7L1506.1 253.8L1507.1 249.7L1508.1 249.2L1509.0 255.4L1510.0 260.1L1511.0 247.8L1511.9 244.2L1512.9 245.9L1513.8 251.9L1514.8 259.4L1515.8 258.2L1516.7 256.4L1517.7 250.3L1518.7 255.3L1519.6 257.6L1520.6 259.3L1521.5 256.2L1522.5 253.3L1523.5 251.2L1524.4 258.0L1525.4 259.1L1526.3 267.0L1527.3 267.8L1528.3 266.2L1529.2 260.1L1530.2 268.1L1531.2 262.6L1532.1 251.8L1533.1 249.2L1534.0 245.8L1535.0 251.1L1536.0 249.6L1536.9 253.0L1537.9 244.2L1538.9 246.8L1539.8 247.5L1540.8 249.5L1541.8 244.8L1542.7 239.2L1543.7 242.7L1544.6 245.2L1545.6 248.3L1546.6 244.0L1547.5 246.2L1548.5 246.3L1549.5 248.4L1550.4 249.6L1551.4 248.4L1552.3 250.3L1553.3 260.9L1554.3 262.0L1555.2 264.7L1556.2 264.8L1557.2 268.7L1558.1 271.5L1559.1 274.2L1560.0 277.0L1561.0 279.8L1562.0 279.8L1562.9 282.6L1563.9 282.6L1564.8 282.6L1565.8 285.4L1566.8 285.4L1567.7 285.4L1568.7 288.2L1569.7 288.2L1570.6 290.9L1571.6 290.9L1572.5 290.9L1573.5 293.7L1574.5 293.7L1575.4 293.7L1576.4 296.5L1577.4 296.5L1578.3 296.5L1579.3 299.3L1580.2 299.3L1581.2 299.3L1582.2 299.3L1583.1 299.3L1584.1 299.3L1585.1 299.3L1586.0 299.3L1587.0 299.3L1588.0 299.3L1588.9 299.3L1589.9 299.3L1590.8 299.3L1591.8 299.3L1592.8 299.3L1593.7 299.3L1594.7 299.3L1595.7 299.3L1596.6 299.3L1597.6 299.3L1598.5 299.3L1599.5 299.3L1600.5 299.3L1601.4 299.3L1602.4 299.3L1603.3 299.3L1604.3 299.3L1605.3 299.3L1606.2 299.3L1607.2 299.3L1608.2 299.3L1609.1 299.3L1610.1 302.1L1611.0 302.1L1612.0 302.1L1613.0 302.1L1613.9 302.1L1614.9 302.1L1615.9 302.1L1616.8 302.1L1617.8 302.1L1618.8 302.1L1619.7 302.1L1620.7 302.1L1621.6 302.1L1622.6 302.1L1623.6 302.1L1624.5 302.1L1625.5 302.1L1626.5 302.1L1627.4 302.1L1628.4 302.1L1629.3 302.1L1630.3 302.1L1631.3 302.1L1632.2 302.1L1633.2 302.1L1634.2 302.1L1635.1 302.1L1636.1 302.1L1637.0 302.1L1638.0 302.1L1639.0 302.1L1639.9 302.1L1640.9 302.1L1641.8 302.1L1642.8 302.1L1643.8 302.1L1644.7 302.1L1645.7 302.1L1646.7 302.1L1647.6 302.1L1648.6 302.1L1649.5 302.1L1650.5 302.1L1651.5 302.1L1652.4 302.1L1653.4 302.1L1654.4 302.1L1655.3 302.1L1656.3 302.1L1657.2 302.1L1658.2 302.1L1659.2 302.1L1660.1 302.1L1661.1 302.1L1662.1 302.1L1663.0 302.1L1664.0 302.1L1665.0 302.1L1665.9 302.1L1666.9 299.3L1667.8 299.3L1668.8 299.3L1669.8 299.3L1670.7 299.3L1671.7 299.3L1672.7 299.3L1673.6 299.3L1674.6 299.3L1675.5 299.3L1676.5 299.3L1677.5 299.3L1678.4 299.3L1679.4 299.3L1680.3 299.3L1681.3 299.3L1682.3 299.3L1683.2 299.3L1684.2 299.3L1685.2 299.3L1686.1 299.3L1687.1 299.3L1688.0 299.3L1689.0 299.3L1690.0 299.3L1690.9 299.3L1691.9 299.3L1692.9 299.3L1693.8 299.3L1694.8 299.3L1695.8 299.3L1696.7 299.3L1697.7 299.3L1698.6 299.3L1699.6 299.3L1700.6 299.3L1701.5 299.3L1702.5 299.3L1703.5 299.3L1704.4 299.3L1705.4 299.3L1706.3 296.5L1707.3 296.5L1708.3 296.5L1709.2 296.5L1710.2 296.5L1711.2 296.5L1712.1 296.5L1713.1 296.5L1714.0 296.5L1715.0 296.5L1716.0 296.5L1716.9 296.5L1717.9 296.5L1718.8 296.5L1719.8 296.5L1720.8 296.5L1721.7 296.5L1722.7 296.5L1723.7 296.5L1724.6 293.7L1725.6 293.7L1726.5 293.7L1727.5 293.7L1728.5 293.7L1729.4 293.7L1730.4 293.7L1731.4 293.7L1732.3 293.7L1733.3 293.7L1734.2 293.7L1735.2 293.7L1736.2 290.9L1737.1 290.9L1738.1 290.9L1739.1 288.2L1740.0 288.2L1741.0 288.2L1742.0 285.4L1742.9 285.4L1743.9 282.6L1744.8 282.6L1745.8 282.6L1746.8 275.7L1747.7 280.0L1748.7 281.7L1749.7 284.8L1750.6 282.8L1751.6 274.3L1752.5 276.6L1753.5 269.8L1754.5 269.5L1755.4 269.1L1756.4 266.6L1757.3 266.6L1758.3 262.1L1759.3 260.1L1760.2 265.2L1761.2 262.5L1762.2 255.0L1763.1 253.2L1764.1 258.6L1765.0 247.7L1766.0 239.6L1767.0 244.7L1767.9 241.3L1768.9 235.4L1769.9 236.1L1770.8 236.4L1771.8 245.3L1772.8 240.6L1773.7 244.1L1774.7 247.2L1775.6 245.4L1776.6 243.1L1777.6 243.0L1778.5 249.7L1779.5 249.4L1780.5 257.0L1781.4 251.0L1782.4 254.3L1783.3 255.8L1784.3 250.3L1785.3 249.4L1786.2 252.9L1787.2 248.9L1788.2 242.4L1789.1 251.6L1790.1 249.8L1791.0 249.0L1792.0 248.0" fill="none" stroke="#c8c8c8" stroke-width="1.3" stroke-linejoin="round" opacity="1"/>
<path d="M1407.0 227.5L1408.0 223.6L1408.9 223.4L1409.9 225.1L1410.8 227.6L1411.8 229.5L1412.8 231.5L1413.7 230.7L1414.7 235.0L1415.7 229.2L1416.6 227.3L1417.6 230.9L1418.5 229.8L1419.5 229.0L1420.5 234.4L1421.4 240.0L1422.4 237.0L1423.4 244.5L1424.3 240.1L1425.3 240.1L1426.2 245.0L1427.2 252.8L1428.2 247.0L1429.1 243.0L1430.1 242.1L1431.1 253.1L1432.0 247.5L1433.0 245.2L1434.0 245.0L1434.9 248.4L1435.9 252.8L1436.8 243.9L1437.8 244.8L1438.8 250.9L1439.7 244.0L1440.7 249.6L1441.7 245.7L1442.6 251.1L1443.6 249.8L1444.5 248.9L1445.5 240.5L1446.5 248.9L1447.4 252.2L1448.4 246.6L1449.3 244.0L1450.3 247.2L1451.3 252.1L1452.2 254.8L1453.2 260.7L1454.2 254.0L1455.1 252.1L1456.1 250.9L1457.0 250.8L1458.0 252.5L1459.0 251.7L1459.9 259.4L1460.9 252.4L1461.9 255.5L1462.8 261.5L1463.8 266.3L1464.8 265.9L1465.7 261.3L1466.7 260.0L1467.6 256.6L1468.6 250.9L1469.6 254.1L1470.5 254.3L1471.5 255.4L1472.5 262.5L1473.4 264.5L1474.4 264.6L1475.3 258.5L1476.3 264.0L1477.3 252.0L1478.2 257.5L1479.2 260.4L1480.2 260.0L1481.1 260.6L1482.1 256.0L1483.0 252.9L1484.0 244.1L1485.0 247.8L1485.9 243.3L1486.9 241.8L1487.8 241.7L1488.8 253.2L1489.8 249.6L1490.7 249.4L1491.7 254.8L1492.7 250.6L1493.6 247.2L1494.6 248.3L1495.5 252.2L1496.5 259.1L1497.5 256.6L1498.4 259.4L1499.4 255.2L1500.4 258.0L1501.3 258.7L1502.3 253.3L1503.2 254.4L1504.2 260.3L1505.2 250.3L1506.1 247.3L1507.1 244.6L1508.1 251.0L1509.0 248.2L1510.0 243.1L1511.0 241.7L1511.9 244.5L1512.9 239.9L1513.8 245.1L1514.8 253.8L1515.8 253.9L1516.7 256.5L1517.7 261.5L1518.7 256.6L1519.6 263.1L1520.6 258.5L1521.5 265.0L1522.5 267.7L1523.5 265.3L1524.4 259.9L1525.4 260.0L1526.3 257.2L1527.3 253.6L1528.3 254.7L1529.2 254.0L1530.2 254.0L1531.2 254.7L1532.1 241.5L1533.1 243.1L1534.0 238.4L1535.0 240.4L1536.0 230.8L1536.9 229.2L1537.9 225.2L1538.9 226.8L1539.8 222.4L1540.8 226.2L1541.8 229.7L1542.7 223.5L1543.7 222.5L1544.6 224.7L1545.6 228.4L1546.6 232.0L1547.5 236.6L1548.5 237.2L1549.5 236.2L1550.4 233.2L1551.4 236.6L1552.3 246.7L1553.3 253.5L1554.3 256.7L1555.2 260.7L1556.2 257.5L1557.2 260.3L1558.1 263.1L1559.1 265.9L1560.0 271.5L1561.0 274.2L1562.0 274.2L1562.9 277.0L1563.9 277.0L1564.8 277.0L1565.8 279.8L1566.8 279.8L1567.7 279.8L1568.7 282.6L1569.7 282.6L1570.6 282.6L1571.6 285.4L1572.5 285.4L1573.5 288.2L1574.5 288.2L1575.4 288.2L1576.4 290.9L1577.4 290.9L1578.3 290.9L1579.3 293.7L1580.2 293.7L1581.2 293.7L1582.2 293.7L1583.1 293.7L1584.1 293.7L1585.1 293.7L1586.0 296.5L1587.0 296.5L1588.0 296.5L1588.9 296.5L1589.9 296.5L1590.8 296.5L1591.8 296.5L1592.8 296.5L1593.7 296.5L1594.7 296.5L1595.7 296.5L1596.6 296.5L1597.6 296.5L1598.5 296.5L1599.5 296.5L1600.5 296.5L1601.4 296.5L1602.4 296.5L1603.3 296.5L1604.3 296.5L1605.3 296.5L1606.2 296.5L1607.2 296.5L1608.2 296.5L1609.1 296.5L1610.1 296.5L1611.0 296.5L1612.0 296.5L1613.0 296.5L1613.9 299.3L1614.9 299.3L1615.9 299.3L1616.8 299.3L1617.8 299.3L1618.8 299.3L1619.7 299.3L1620.7 299.3L1621.6 299.3L1622.6 299.3L1623.6 299.3L1624.5 299.3L1625.5 299.3L1626.5 299.3L1627.4 299.3L1628.4 299.3L1629.3 299.3L1630.3 299.3L1631.3 299.3L1632.2 299.3L1633.2 299.3L1634.2 299.3L1635.1 299.3L1636.1 299.3L1637.0 299.3L1638.0 299.3L1639.0 299.3L1639.9 299.3L1640.9 299.3L1641.8 299.3L1642.8 299.3L1643.8 299.3L1644.7 299.3L1645.7 299.3L1646.7 299.3L1647.6 299.3L1648.6 299.3L1649.5 299.3L1650.5 299.3L1651.5 299.3L1652.4 299.3L1653.4 299.3L1654.4 299.3L1655.3 299.3L1656.3 299.3L1657.2 299.3L1658.2 299.3L1659.2 299.3L1660.1 299.3L1661.1 299.3L1662.1 299.3L1663.0 299.3L1664.0 299.3L1665.0 299.3L1665.9 299.3L1666.9 299.3L1667.8 296.5L1668.8 296.5L1669.8 296.5L1670.7 296.5L1671.7 296.5L1672.7 296.5L1673.6 296.5L1674.6 296.5L1675.5 296.5L1676.5 296.5L1677.5 296.5L1678.4 296.5L1679.4 296.5L1680.3 296.5L1681.3 296.5L1682.3 296.5L1683.2 296.5L1684.2 296.5L1685.2 296.5L1686.1 296.5L1687.1 296.5L1688.0 296.5L1689.0 296.5L1690.0 296.5L1690.9 296.5L1691.9 296.5L1692.9 296.5L1693.8 296.5L1694.8 296.5L1695.8 296.5L1696.7 296.5L1697.7 296.5L1698.6 296.5L1699.6 296.5L1700.6 296.5L1701.5 296.5L1702.5 296.5L1703.5 296.5L1704.4 296.5L1705.4 296.5L1706.3 296.5L1707.3 296.5L1708.3 296.5L1709.2 296.5L1710.2 296.5L1711.2 296.5L1712.1 296.5L1713.1 296.5L1714.0 296.5L1715.0 293.7L1716.0 293.7L1716.9 293.7L1717.9 293.7L1718.8 293.7L1719.8 293.7L1720.8 293.7L1721.7 293.7L1722.7 293.7L1723.7 293.7L1724.6 293.7L1725.6 293.7L1726.5 293.7L1727.5 293.7L1728.5 293.7L1729.4 293.7L1730.4 293.7L1731.4 293.7L1732.3 293.7L1733.3 293.7L1734.2 293.7L1735.2 293.7L1736.2 290.9L1737.1 290.9L1738.1 288.2L1739.1 288.2L1740.0 288.2L1741.0 285.4L1742.0 285.4L1742.9 282.6L1743.9 282.6L1744.8 282.6L1745.8 279.8L1746.8 275.3L1747.7 272.8L1748.7 277.1L1749.7 280.7L1750.6 273.8L1751.6 284.0L1752.5 279.5L1753.5 285.3L1754.5 277.6L1755.4 273.2L1756.4 263.2L1757.3 265.1L1758.3 262.0L1759.3 259.2L1760.2 258.1L1761.2 254.5L1762.2 257.8L1763.1 254.3L1764.1 247.8L1765.0 242.1L1766.0 235.0L1767.0 230.3L1767.9 229.3L1768.9 229.2L1769.9 233.9L1770.8 232.0L1771.8 238.7L1772.8 235.7L1773.7 240.0L1774.7 239.8L1775.6 235.5L1776.6 244.0L1777.6 242.2L1778.5 244.8L1779.5 248.4L1780.5 248.7L1781.4 241.6L1782.4 241.0L1783.3 246.9L1784.3 250.8L1785.3 248.1L1786.2 254.8L1787.2 252.1L1788.2 248.3L1789.1 242.8L1790.1 246.2L1791.0 247.1L1792.0 243.8" fill="none" stroke="#80b030" stroke-width="1.3" stroke-linejoin="round" opacity="1"/>
<path d="M1407.0 229.5L1408.0 234.6L1408.9 241.8L1409.9 243.4L1410.8 240.1L1411.8 235.0L1412.8 245.8L1413.7 248.3L1414.7 244.0L1415.7 243.5L1416.6 247.2L1417.6 238.6L1418.5 239.5L1419.5 242.8L1420.5 238.3L1421.4 242.4L1422.4 233.1L1423.4 239.1L1424.3 231.3L1425.3 230.3L1426.2 237.7L1427.2 238.7L1428.2 240.8L1429.1 239.9L1430.1 239.7L1431.1 244.3L1432.0 239.5L1433.0 237.3L1434.0 244.6L1434.9 241.6L1435.9 240.0L1436.8 237.2L1437.8 238.5L1438.8 237.1L1439.7 241.6L1440.7 233.1L1441.7 234.2L1442.6 233.1L1443.6 235.2L1444.5 239.2L1445.5 236.4L1446.5 236.3L1447.4 243.5L1448.4 246.8L1449.3 245.7L1450.3 246.3L1451.3 246.2L1452.2 244.4L1453.2 249.4L1454.2 250.3L1455.1 249.9L1456.1 255.3L1457.0 255.5L1458.0 255.3L1459.0 255.9L1459.9 255.7L1460.9 249.5L1461.9 247.6L1462.8 251.1L1463.8 252.8L1464.8 254.3L1465.7 257.0L1466.7 257.5L1467.6 251.3L1468.6 252.2L1469.6 253.8L1470.5 254.9L1471.5 255.7L1472.5 254.6L1473.4 258.4L1474.4 253.2L1475.3 250.8L1476.3 252.2L1477.3 252.8L1478.2 255.8L1479.2 247.1L1480.2 244.1L1481.1 250.3L1482.1 253.2L1483.0 246.9L1484.0 242.0L1485.0 238.1L1485.9 239.5L1486.9 236.8L1487.8 235.6L1488.8 237.3L1489.8 235.2L1490.7 238.9L1491.7 243.0L1492.7 237.8L1493.6 242.2L1494.6 251.7L1495.5 247.5L1496.5 247.6L1497.5 247.4L1498.4 242.5L1499.4 245.4L1500.4 240.2L1501.3 241.5L1502.3 234.1L1503.2 242.3L1504.2 235.0L1505.2 233.2L1506.1 239.8L1507.1 240.4L1508.1 239.0L1509.0 230.5L1510.0 235.1L1511.0 238.2L1511.9 238.0L1512.9 237.5L1513.8 243.3L1514.8 254.0L1515.8 246.3L1516.7 241.2L1517.7 250.0L1518.7 246.8L1519.6 248.8L1520.6 258.3L1521.5 263.1L1522.5 254.3L1523.5 254.8L1524.4 254.9L1525.4 254.1L1526.3 256.5L1527.3 258.7L1528.3 254.0L1529.2 252.1L1530.2 248.1L1531.2 241.0L1532.1 246.5L1533.1 248.4L1534.0 239.5L1535.0 240.0L1536.0 239.6L1536.9 236.5L1537.9 235.5L1538.9 233.6L1539.8 236.3L1540.8 231.7L1541.8 235.0L1542.7 235.2L1543.7 239.0L1544.6 236.8L1545.6 242.3L1546.6 229.9L1547.5 242.4L1548.5 246.7L1549.5 251.8L1550.4 256.4L1551.4 254.7L1552.3 251.7L1553.3 252.2L1554.3 250.6L1555.2 250.3L1556.2 257.8L1557.2 260.3L1558.1 263.1L1559.1 265.9L1560.0 268.7L1561.0 271.5L1562.0 271.5L1562.9 274.2L1563.9 274.2L1564.8 274.2L1565.8 277.0L1566.8 277.0L1567.7 277.0L1568.7 279.8L1569.7 279.8L1570.6 282.6L1571.6 282.6L1572.5 282.6L1573.5 285.4L1574.5 285.4L1575.4 285.4L1576.4 288.2L1577.4 288.2L1578.3 288.2L1579.3 290.9L1580.2 290.9L1581.2 290.9L1582.2 290.9L1583.1 290.9L1584.1 290.9L1585.1 290.9L1586.0 290.9L1587.0 290.9L1588.0 290.9L1588.9 290.9L1589.9 290.9L1590.8 290.9L1591.8 290.9L1592.8 290.9L1593.7 290.9L1594.7 290.9L1595.7 290.9L1596.6 290.9L1597.6 290.9L1598.5 290.9L1599.5 290.9L1600.5 290.9L1601.4 290.9L1602.4 290.9L1603.3 290.9L1604.3 290.9L1605.3 290.9L1606.2 290.9L1607.2 290.9L1608.2 290.9L1609.1 293.7L1610.1 293.7L1611.0 293.7L1612.0 293.7L1613.0 293.7L1613.9 293.7L1614.9 293.7L1615.9 293.7L1616.8 293.7L1617.8 293.7L1618.8 293.7L1619.7 293.7L1620.7 293.7L1621.6 293.7L1622.6 293.7L1623.6 293.7L1624.5 293.7L1625.5 293.7L1626.5 293.7L1627.4 293.7L1628.4 293.7L1629.3 293.7L1630.3 293.7L1631.3 293.7L1632.2 293.7L1633.2 293.7L1634.2 293.7L1635.1 293.7L1636.1 293.7L1637.0 293.7L1638.0 293.7L1639.0 293.7L1639.9 293.7L1640.9 293.7L1641.8 293.7L1642.8 293.7L1643.8 293.7L1644.7 293.7L1645.7 293.7L1646.7 293.7L1647.6 293.7L1648.6 293.7L1649.5 293.7L1650.5 293.7L1651.5 293.7L1652.4 293.7L1653.4 293.7L1654.4 293.7L1655.3 293.7L1656.3 293.7L1657.2 293.7L1658.2 293.7L1659.2 293.7L1660.1 293.7L1661.1 293.7L1662.1 293.7L1663.0 293.7L1664.0 293.7L1665.0 293.7L1665.9 293.7L1666.9 293.7L1667.8 290.9L1668.8 290.9L1669.8 290.9L1670.7 290.9L1671.7 290.9L1672.7 290.9L1673.6 290.9L1674.6 290.9L1675.5 290.9L1676.5 290.9L1677.5 290.9L1678.4 290.9L1679.4 290.9L1680.3 290.9L1681.3 290.9L1682.3 290.9L1683.2 290.9L1684.2 290.9L1685.2 290.9L1686.1 290.9L1687.1 290.9L1688.0 290.9L1689.0 290.9L1690.0 290.9L1690.9 290.9L1691.9 290.9L1692.9 290.9L1693.8 290.9L1694.8 290.9L1695.8 290.9L1696.7 290.9L1697.7 290.9L1698.6 290.9L1699.6 290.9L1700.6 290.9L1701.5 290.9L1702.5 290.9L1703.5 290.9L1704.4 290.9L1705.4 290.9L1706.3 290.9L1707.3 290.9L1708.3 290.9L1709.2 290.9L1710.2 290.9L1711.2 290.9L1712.1 290.9L1713.1 290.9L1714.0 290.9L1715.0 290.9L1716.0 288.2L1716.9 288.2L1717.9 288.2L1718.8 288.2L1719.8 288.2L1720.8 288.2L1721.7 288.2L1722.7 288.2L1723.7 288.2L1724.6 288.2L1725.6 288.2L1726.5 288.2L1727.5 288.2L1728.5 288.2L1729.4 288.2L1730.4 288.2L1731.4 288.2L1732.3 288.2L1733.3 288.2L1734.2 288.2L1735.2 288.2L1736.2 285.4L1737.1 285.4L1738.1 282.6L1739.1 282.6L1740.0 282.6L1741.0 279.8L1742.0 279.8L1742.9 277.0L1743.9 277.0L1744.8 277.0L1745.8 274.2L1746.8 278.9L1747.7 282.6L1748.7 278.9L1749.7 274.5L1750.6 273.1L1751.6 276.8L1752.5 267.5L1753.5 267.8L1754.5 259.9L1755.4 254.5L1756.4 254.4L1757.3 254.3L1758.3 249.0L1759.3 254.6L1760.2 244.2L1761.2 240.2L1762.2 235.4L1763.1 232.4L1764.1 229.0L1765.0 225.6L1766.0 227.1L1767.0 221.2L1767.9 226.2L1768.9 227.1L1769.9 228.0L1770.8 226.5L1771.8 229.1L1772.8 225.7L1773.7 229.7L1774.7 228.9L1775.6 227.9L1776.6 232.2L1777.6 231.8L1778.5 235.3L1779.5 237.0L1780.5 245.7L1781.4 245.9L1782.4 245.3L1783.3 248.4L1784.3 237.8L1785.3 238.5L1786.2 238.3L1787.2 240.1L1788.2 239.7L1789.1 233.2L1790.1 239.7L1791.0 234.5L1792.0 229.4" fill="none" stroke="#20c080" stroke-width="1.3" stroke-linejoin="round" opacity="1"/>
<path d="M1407.0 218.3L1408.0 214.8L1408.9 220.4L1409.9 219.3L1410.8 224.2L1411.8 223.6L1412.8 219.7L1413.7 221.2L1414.7 221.7L1415.7 224.0L1416.6 226.9L1417.6 218.0L1418.5 229.0L1419.5 229.6L1420.5 223.8L1421.4 232.8L1422.4 236.3L1423.4 237.2L1424.3 240.7L1425.3 239.9L1426.2 238.6L1427.2 237.9L1428.2 241.1L1429.1 234.0L1430.1 238.3L1431.1 239.0L1432.0 235.9L1433.0 237.1L1434.0 229.8L1434.9 237.7L1435.9 230.6L1436.8 229.4L1437.8 231.7L1438.8 227.1L1439.7 230.2L1440.7 229.3L1441.7 232.5L1442.6 235.5L1443.6 223.4L1444.5 227.1L1445.5 224.0L1446.5 218.6L1447.4 221.9L1448.4 229.9L1449.3 230.6L1450.3 232.7L1451.3 230.9L1452.2 233.7L1453.2 235.5L1454.2 235.0L1455.1 235.3L1456.1 234.9L1457.0 237.6L1458.0 230.4L1459.0 233.9L1459.9 229.4L1460.9 232.2L1461.9 240.8L1462.8 242.2L1463.8 243.4L1464.8 252.5L1465.7 245.5L1466.7 237.8L1467.6 239.2L1468.6 249.6L1469.6 240.6L1470.5 246.5L1471.5 244.6L1472.5 238.8L1473.4 236.9L1474.4 235.5L1475.3 241.0L1476.3 238.3L1477.3 241.7L1478.2 238.3L1479.2 237.8L1480.2 237.5L1481.1 231.1L1482.1 239.1L1483.0 237.8L1484.0 242.4L1485.0 236.7L1485.9 233.3L1486.9 235.3L1487.8 229.6L1488.8 228.7L1489.8 235.1L1490.7 220.5L1491.7 217.1L1492.7 222.2L1493.6 218.7L1494.6 214.9L1495.5 220.2L1496.5 223.4L1497.5 226.5L1498.4 233.0L1499.4 235.8L1500.4 233.6L1501.3 233.2L1502.3 235.6L1503.2 236.8L1504.2 236.7L1505.2 234.5L1506.1 234.9L1507.1 240.1L1508.1 238.4L1509.0 235.5L1510.0 242.4L1511.0 243.6L1511.9 240.0L1512.9 235.6L1513.8 234.6L1514.8 229.6L1515.8 238.9L1516.7 240.0L1517.7 229.6L1518.7 228.8L1519.6 233.4L1520.6 232.3L1521.5 233.2L1522.5 233.7L1523.5 234.8L1524.4 239.2L1525.4 239.9L1526.3 235.9L1527.3 241.1L1528.3 247.5L1529.2 246.8L1530.2 253.4L1531.2 256.5L1532.1 246.5L1533.1 239.5L1534.0 245.6L1535.0 241.3L1536.0 237.2L1536.9 228.5L1537.9 226.8L1538.9 214.8L1539.8 216.3L1540.8 213.1L1541.8 208.1L1542.7 210.6L1543.7 218.7L1544.6 215.1L1545.6 213.6L1546.6 219.0L1547.5 224.6L1548.5 224.4L1549.5 216.0L1550.4 215.9L1551.4 218.2L1552.3 228.7L1553.3 229.5L1554.3 232.4L1555.2 237.3L1556.2 245.0L1557.2 249.2L1558.1 252.0L1559.1 257.5L1560.0 260.3L1561.0 265.9L1562.0 265.9L1562.9 268.7L1563.9 268.7L1564.8 271.5L1565.8 271.5L1566.8 271.5L1567.7 274.2L1568.7 274.2L1569.7 277.0L1570.6 277.0L1571.6 277.0L1572.5 279.8L1573.5 279.8L1574.5 282.6L1575.4 282.6L1576.4 282.6L1577.4 285.4L1578.3 285.4L1579.3 288.2L1580.2 288.2L1581.2 288.2L1582.2 288.2L1583.1 288.2L1584.1 288.2L1585.1 288.2L1586.0 288.2L1587.0 288.2L1588.0 288.2L1588.9 288.2L1589.9 288.2L1590.8 288.2L1591.8 288.2L1592.8 288.2L1593.7 288.2L1594.7 288.2L1595.7 288.2L1596.6 288.2L1597.6 288.2L1598.5 288.2L1599.5 288.2L1600.5 288.2L1601.4 288.2L1602.4 288.2L1603.3 288.2L1604.3 288.2L1605.3 288.2L1606.2 288.2L1607.2 288.2L1608.2 288.2L1609.1 290.9L1610.1 290.9L1611.0 290.9L1612.0 290.9L1613.0 290.9L1613.9 290.9L1614.9 290.9L1615.9 290.9L1616.8 290.9L1617.8 290.9L1618.8 290.9L1619.7 290.9L1620.7 290.9L1621.6 290.9L1622.6 290.9L1623.6 290.9L1624.5 290.9L1625.5 290.9L1626.5 290.9L1627.4 290.9L1628.4 290.9L1629.3 290.9L1630.3 290.9L1631.3 290.9L1632.2 290.9L1633.2 290.9L1634.2 290.9L1635.1 290.9L1636.1 290.9L1637.0 290.9L1638.0 290.9L1639.0 290.9L1639.9 290.9L1640.9 290.9L1641.8 290.9L1642.8 290.9L1643.8 290.9L1644.7 290.9L1645.7 290.9L1646.7 290.9L1647.6 290.9L1648.6 290.9L1649.5 290.9L1650.5 290.9L1651.5 290.9L1652.4 288.2L1653.4 288.2L1654.4 288.2L1655.3 288.2L1656.3 288.2L1657.2 288.2L1658.2 288.2L1659.2 288.2L1660.1 288.2L1661.1 288.2L1662.1 288.2L1663.0 288.2L1664.0 288.2L1665.0 288.2L1665.9 288.2L1666.9 288.2L1667.8 288.2L1668.8 288.2L1669.8 288.2L1670.7 288.2L1671.7 288.2L1672.7 288.2L1673.6 288.2L1674.6 288.2L1675.5 288.2L1676.5 288.2L1677.5 288.2L1678.4 288.2L1679.4 288.2L1680.3 288.2L1681.3 288.2L1682.3 285.4L1683.2 285.4L1684.2 285.4L1685.2 285.4L1686.1 285.4L1687.1 285.4L1688.0 285.4L1689.0 285.4L1690.0 285.4L1690.9 285.4L1691.9 285.4L1692.9 285.4L1693.8 285.4L1694.8 285.4L1695.8 285.4L1696.7 285.4L1697.7 285.4L1698.6 285.4L1699.6 285.4L1700.6 285.4L1701.5 285.4L1702.5 285.4L1703.5 285.4L1704.4 285.4L1705.4 282.6L1706.3 282.6L1707.3 282.6L1708.3 282.6L1709.2 282.6L1710.2 282.6L1711.2 282.6L1712.1 282.6L1713.1 282.6L1714.0 282.6L1715.0 282.6L1716.0 282.6L1716.9 282.6L1717.9 282.6L1718.8 282.6L1719.8 282.6L1720.8 282.6L1721.7 282.6L1722.7 282.6L1723.7 282.6L1724.6 282.6L1725.6 279.8L1726.5 279.8L1727.5 279.8L1728.5 279.8L1729.4 279.8L1730.4 279.8L1731.4 279.8L1732.3 279.8L1733.3 279.8L1734.2 279.8L1735.2 279.8L1736.2 277.0L1737.1 277.0L1738.1 274.2L1739.1 274.2L1740.0 271.5L1741.0 271.5L1742.0 268.7L1742.9 268.7L1743.9 265.9L1744.8 265.9L1745.8 265.9L1746.8 262.4L1747.7 261.5L1748.7 264.8L1749.7 260.6L1750.6 259.7L1751.6 253.1L1752.5 256.8L1753.5 263.4L1754.5 253.6L1755.4 250.1L1756.4 246.8L1757.3 244.1L1758.3 240.6L1759.3 232.5L1760.2 225.2L1761.2 223.3L1762.2 219.3L1763.1 224.4L1764.1 226.3L1765.0 225.1L1766.0 219.4L1767.0 221.9L1767.9 222.2L1768.9 213.2L1769.9 205.8L1770.8 210.0L1771.8 199.6L1772.8 196.1L1773.7 206.2L1774.7 209.4L1775.6 207.4L1776.6 213.7L1777.6 217.9L1778.5 218.6L1779.5 214.7L1780.5 224.0L1781.4 227.0L1782.4 233.3L1783.3 234.7L1784.3 223.8L1785.3 219.0L1786.2 223.4L1787.2 222.7L1788.2 218.6L1789.1 216.7L1790.1 209.6L1791.0 208.5L1792.0 220.2" fill="none" stroke="#c4c4c4" stroke-width="1.3" stroke-linejoin="round" opacity="1"/>
<path d="M1407.0 206.6L1408.0 207.2L1408.9 208.2L1409.9 211.6L1410.8 208.2L1411.8 210.3L1412.8 210.7L1413.7 213.9L1414.7 205.9L1415.7 211.8L1416.6 209.2L1417.6 209.2L1418.5 212.3L1419.5 210.7L1420.5 213.7L1421.4 218.8L1422.4 219.7L1423.4 219.4L1424.3 217.1L1425.3 218.8L1426.2 220.9L1427.2 220.4L1428.2 222.7L1429.1 225.6L1430.1 225.7L1431.1 220.7L1432.0 219.3L1433.0 222.6L1434.0 227.0L1434.9 230.8L1435.9 228.0L1436.8 225.0L1437.8 218.2L1438.8 213.9L1439.7 214.1L1440.7 212.3L1441.7 211.9L1442.6 220.5L1443.6 219.0L1444.5 213.7L1445.5 215.3L1446.5 213.4L1447.4 218.0L1448.4 218.8L1449.3 218.1L1450.3 218.4L1451.3 222.8L1452.2 219.0L1453.2 223.5L1454.2 220.8L1455.1 222.6L1456.1 231.8L1457.0 237.3L1458.0 229.5L1459.0 224.8L1459.9 228.1L1460.9 231.8L1461.9 236.2L1462.8 238.0L1463.8 235.3L1464.8 235.5L1465.7 237.9L1466.7 242.3L1467.6 241.2L1468.6 234.0L1469.6 242.5L1470.5 237.7L1471.5 234.6L1472.5 236.1L1473.4 228.5L1474.4 237.4L1475.3 239.4L1476.3 241.7L1477.3 236.6L1478.2 232.1L1479.2 234.2L1480.2 239.9L1481.1 234.1L1482.1 227.7L1483.0 235.8L1484.0 234.2L1485.0 232.0L1485.9 229.4L1486.9 227.8L1487.8 221.5L1488.8 223.3L1489.8 225.0L1490.7 222.9L1491.7 220.8L1492.7 226.0L1493.6 230.6L1494.6 227.3L1495.5 222.1L1496.5 221.0L1497.5 227.1L1498.4 229.0L1499.4 226.7L1500.4 220.8L1501.3 216.9L1502.3 233.2L1503.2 233.9L1504.2 234.2L1505.2 233.2L1506.1 232.1L1507.1 228.9L1508.1 232.2L1509.0 234.0L1510.0 234.4L1511.0 239.9L1511.9 229.3L1512.9 234.9L1513.8 238.6L1514.8 238.3L1515.8 230.4L1516.7 238.7L1517.7 234.4L1518.7 239.5L1519.6 242.8L1520.6 238.3L1521.5 247.0L1522.5 244.7L1523.5 246.4L1524.4 246.5L1525.4 243.7L1526.3 244.0L1527.3 251.1L1528.3 243.9L1529.2 248.6L1530.2 245.3L1531.2 246.3L1532.1 243.3L1533.1 240.3L1534.0 237.6L1535.0 237.3L1536.0 241.0L1536.9 240.6L1537.9 228.4L1538.9 220.6L1539.8 216.9L1540.8 214.2L1541.8 212.6L1542.7 219.0L1543.7 220.1L1544.6 223.0L1545.6 224.5L1546.6 227.6L1547.5 226.2L1548.5 222.9L1549.5 217.6L1550.4 219.0L1551.4 219.9L1552.3 221.2L1553.3 226.3L1554.3 229.3L1555.2 231.6L1556.2 238.6L1557.2 243.6L1558.1 249.2L1559.1 252.0L1560.0 257.5L1561.0 260.3L1562.0 260.3L1562.9 263.1L1563.9 263.1L1564.8 265.9L1565.8 265.9L1566.8 268.7L1567.7 268.7L1568.7 271.5L1569.7 271.5L1570.6 271.5L1571.6 274.2L1572.5 274.2L1573.5 277.0L1574.5 277.0L1575.4 279.8L1576.4 279.8L1577.4 282.6L1578.3 282.6L1579.3 285.4L1580.2 285.4L1581.2 285.4L1582.2 285.4L1583.1 285.4L1584.1 285.4L1585.1 285.4L1586.0 285.4L1587.0 285.4L1588.0 285.4L1588.9 285.4L1589.9 285.4L1590.8 285.4L1591.8 285.4L1592.8 285.4L1593.7 285.4L1594.7 285.4L1595.7 285.4L1596.6 285.4L1597.6 285.4L1598.5 285.4L1599.5 285.4L1600.5 285.4L1601.4 285.4L1602.4 285.4L1603.3 285.4L1604.3 285.4L1605.3 285.4L1606.2 285.4L1607.2 285.4L1608.2 285.4L1609.1 288.2L1610.1 288.2L1611.0 288.2L1612.0 288.2L1613.0 288.2L1613.9 288.2L1614.9 288.2L1615.9 288.2L1616.8 288.2L1617.8 288.2L1618.8 288.2L1619.7 288.2L1620.7 288.2L1621.6 288.2L1622.6 288.2L1623.6 288.2L1624.5 288.2L1625.5 288.2L1626.5 288.2L1627.4 288.2L1628.4 288.2L1629.3 288.2L1630.3 288.2L1631.3 288.2L1632.2 288.2L1633.2 288.2L1634.2 288.2L1635.1 288.2L1636.1 288.2L1637.0 288.2L1638.0 288.2L1639.0 288.2L1639.9 288.2L1640.9 288.2L1641.8 288.2L1642.8 288.2L1643.8 288.2L1644.7 288.2L1645.7 288.2L1646.7 288.2L1647.6 288.2L1648.6 288.2L1649.5 288.2L1650.5 288.2L1651.5 288.2L1652.4 288.2L1653.4 285.4L1654.4 285.4L1655.3 285.4L1656.3 285.4L1657.2 285.4L1658.2 285.4L1659.2 285.4L1660.1 285.4L1661.1 285.4L1662.1 285.4L1663.0 285.4L1664.0 285.4L1665.0 285.4L1665.9 285.4L1666.9 285.4L1667.8 285.4L1668.8 285.4L1669.8 285.4L1670.7 285.4L1671.7 285.4L1672.7 285.4L1673.6 285.4L1674.6 285.4L1675.5 285.4L1676.5 285.4L1677.5 285.4L1678.4 285.4L1679.4 285.4L1680.3 285.4L1681.3 282.6L1682.3 282.6L1683.2 282.6L1684.2 282.6L1685.2 282.6L1686.1 282.6L1687.1 282.6L1688.0 282.6L1689.0 282.6L1690.0 282.6L1690.9 282.6L1691.9 282.6L1692.9 282.6L1693.8 282.6L1694.8 282.6L1695.8 282.6L1696.7 282.6L1697.7 282.6L1698.6 282.6L1699.6 282.6L1700.6 282.6L1701.5 282.6L1702.5 282.6L1703.5 282.6L1704.4 282.6L1705.4 279.8L1706.3 279.8L1707.3 279.8L1708.3 279.8L1709.2 279.8L1710.2 279.8L1711.2 279.8L1712.1 279.8L1713.1 279.8L1714.0 279.8L1715.0 279.8L1716.0 279.8L1716.9 279.8L1717.9 279.8L1718.8 279.8L1719.8 279.8L1720.8 279.8L1721.7 279.8L1722.7 279.8L1723.7 279.8L1724.6 277.0L1725.6 277.0L1726.5 277.0L1727.5 277.0L1728.5 277.0L1729.4 277.0L1730.4 277.0L1731.4 277.0L1732.3 277.0L1733.3 277.0L1734.2 277.0L1735.2 277.0L1736.2 274.2L1737.1 271.5L1738.1 271.5L1739.1 271.5L1740.0 268.7L1741.0 265.9L1742.0 265.9L1742.9 265.9L1743.9 263.1L1744.8 260.3L1745.8 260.3L1746.8 256.9L1747.7 257.1L1748.7 263.9L1749.7 260.4L1750.6 258.2L1751.6 256.2L1752.5 255.1L1753.5 255.7L1754.5 253.5L1755.4 246.3L1756.4 242.7L1757.3 242.5L1758.3 224.3L1759.3 220.0L1760.2 221.8L1761.2 220.5L1762.2 213.2L1763.1 208.0L1764.1 201.6L1765.0 201.1L1766.0 202.6L1767.0 201.2L1767.9 207.4L1768.9 201.9L1769.9 196.9L1770.8 190.8L1771.8 187.9L1772.8 192.6L1773.7 191.9L1774.7 196.0L1775.6 200.1L1776.6 209.5L1777.6 210.4L1778.5 217.5L1779.5 213.6L1780.5 216.7L1781.4 223.5L1782.4 220.2L1783.3 223.9L1784.3 227.8L1785.3 228.9L1786.2 227.1L1787.2 226.1L1788.2 215.1L1789.1 213.3L1790.1 215.0L1791.0 217.6L1792.0 217.4" fill="none" stroke="#ffff60" stroke-width="1.3" stroke-linejoin="round" opacity="1"/>
<path d="M1407.0 192.1L1408.0 193.7L1408.9 191.4L1409.9 191.9L1410.8 199.0L1411.8 201.9L1412.8 197.0L1413.7 200.2L1414.7 200.4L1415.7 199.3L1416.6 209.1L1417.6 213.2L1418.5 207.6L1419.5 213.1L1420.5 215.0L1421.4 213.8L1422.4 211.0L1423.4 207.1L1424.3 211.2L1425.3 207.3L1426.2 206.7L1427.2 210.3L1428.2 217.1L1429.1 205.3L1430.1 210.4L1431.1 212.6L1432.0 212.8L1433.0 218.0L1434.0 209.4L1434.9 199.7L1435.9 198.9L1436.8 199.8L1437.8 204.6L1438.8 205.7L1439.7 206.9L1440.7 203.9L1441.7 202.5L1442.6 196.6L1443.6 203.3L1444.5 205.6L1445.5 206.4L1446.5 203.7L1447.4 195.3L1448.4 200.8L1449.3 207.7L1450.3 208.0L1451.3 205.2L1452.2 203.6L1453.2 196.6L1454.2 197.3L1455.1 202.8L1456.1 208.2L1457.0 211.5L1458.0 216.1L1459.0 217.4L1459.9 220.1L1460.9 218.7L1461.9 216.1L1462.8 215.2L1463.8 212.5L1464.8 216.6L1465.7 220.1L1466.7 230.1L1467.6 220.1L1468.6 215.7L1469.6 214.4L1470.5 212.5L1471.5 220.6L1472.5 213.8L1473.4 218.1L1474.4 220.3L1475.3 222.0L1476.3 224.8L1477.3 218.7L1478.2 214.1L1479.2 219.9L1480.2 223.9L1481.1 212.3L1482.1 217.9L1483.0 219.5L1484.0 213.4L1485.0 208.2L1485.9 212.1L1486.9 212.2L1487.8 209.4L1488.8 197.0L1489.8 193.8L1490.7 199.7L1491.7 193.5L1492.7 198.0L1493.6 200.7L1494.6 198.7L1495.5 206.7L1496.5 205.1L1497.5 206.5L1498.4 203.2L1499.4 198.5L1500.4 197.0L1501.3 201.8L1502.3 201.3L1503.2 212.5L1504.2 212.9L1505.2 199.6L1506.1 206.3L1507.1 210.7L1508.1 214.8L1509.0 223.0L1510.0 219.8L1511.0 215.1L1511.9 214.2L1512.9 209.9L1513.8 210.1L1514.8 203.4L1515.8 210.7L1516.7 224.3L1517.7 225.2L1518.7 223.5L1519.6 229.7L1520.6 225.3L1521.5 221.1L1522.5 219.9L1523.5 210.2L1524.4 208.6L1525.4 215.3L1526.3 211.1L1527.3 207.0L1528.3 208.4L1529.2 201.6L1530.2 202.5L1531.2 211.4L1532.1 209.2L1533.1 206.5L1534.0 203.8L1535.0 198.0L1536.0 196.0L1536.9 194.6L1537.9 187.2L1538.9 183.0L1539.8 199.0L1540.8 195.4L1541.8 196.1L1542.7 195.0L1543.7 195.8L1544.6 191.1L1545.6 196.8L1546.6 200.8L1547.5 200.8L1548.5 202.0L1549.5 204.0L1550.4 207.0L1551.4 200.7L1552.3 201.8L1553.3 210.6L1554.3 220.9L1555.2 218.3L1556.2 224.9L1557.2 235.3L1558.1 240.8L1559.1 243.6L1560.0 249.2L1561.0 254.8L1562.0 254.8L1562.9 257.5L1563.9 257.5L1564.8 260.3L1565.8 260.3L1566.8 263.1L1567.7 263.1L1568.7 265.9L1569.7 265.9L1570.6 268.7L1571.6 268.7L1572.5 271.5L1573.5 271.5L1574.5 274.2L1575.4 274.2L1576.4 277.0L1577.4 277.0L1578.3 279.8L1579.3 279.8L1580.2 282.6L1581.2 282.6L1582.2 282.6L1583.1 282.6L1584.1 282.6L1585.1 282.6L1586.0 282.6L1587.0 282.6L1588.0 282.6L1588.9 282.6L1589.9 282.6L1590.8 282.6L1591.8 282.6L1592.8 282.6L1593.7 282.6L1594.7 282.6L1595.7 282.6L1596.6 282.6L1597.6 282.6L1598.5 282.6L1599.5 282.6L1600.5 282.6L1601.4 282.6L1602.4 282.6L1603.3 282.6L1604.3 282.6L1605.3 282.6L1606.2 282.6L1607.2 282.6L1608.2 282.6L1609.1 282.6L1610.1 282.6L1611.0 282.6L1612.0 282.6L1613.0 282.6L1613.9 282.6L1614.9 282.6L1615.9 282.6L1616.8 282.6L1617.8 282.6L1618.8 282.6L1619.7 285.4L1620.7 285.4L1621.6 285.4L1622.6 285.4L1623.6 285.4L1624.5 285.4L1625.5 285.4L1626.5 285.4L1627.4 285.4L1628.4 285.4L1629.3 285.4L1630.3 285.4L1631.3 285.4L1632.2 285.4L1633.2 285.4L1634.2 285.4L1635.1 285.4L1636.1 285.4L1637.0 285.4L1638.0 285.4L1639.0 285.4L1639.9 285.4L1640.9 285.4L1641.8 285.4L1642.8 285.4L1643.8 285.4L1644.7 285.4L1645.7 285.4L1646.7 285.4L1647.6 285.4L1648.6 285.4L1649.5 282.6L1650.5 282.6L1651.5 282.6L1652.4 282.6L1653.4 282.6L1654.4 282.6L1655.3 282.6L1656.3 282.6L1657.2 282.6L1658.2 282.6L1659.2 282.6L1660.1 282.6L1661.1 282.6L1662.1 282.6L1663.0 282.6L1664.0 282.6L1665.0 282.6L1665.9 282.6L1666.9 282.6L1667.8 282.6L1668.8 282.6L1669.8 282.6L1670.7 282.6L1671.7 282.6L1672.7 282.6L1673.6 279.8L1674.6 279.8L1675.5 279.8L1676.5 279.8L1677.5 279.8L1678.4 279.8L1679.4 279.8L1680.3 279.8L1681.3 279.8L1682.3 279.8L1683.2 279.8L1684.2 279.8L1685.2 279.8L1686.1 279.8L1687.1 279.8L1688.0 279.8L1689.0 279.8L1690.0 279.8L1690.9 279.8L1691.9 279.8L1692.9 279.8L1693.8 279.8L1694.8 279.8L1695.8 277.0L1696.7 277.0L1697.7 277.0L1698.6 277.0L1699.6 277.0L1700.6 277.0L1701.5 277.0L1702.5 277.0L1703.5 277.0L1704.4 277.0L1705.4 277.0L1706.3 277.0L1707.3 277.0L1708.3 277.0L1709.2 277.0L1710.2 277.0L1711.2 277.0L1712.1 277.0L1713.1 277.0L1714.0 277.0L1715.0 277.0L1716.0 277.0L1716.9 277.0L1717.9 277.0L1718.8 277.0L1719.8 277.0L1720.8 277.0L1721.7 274.2L1722.7 274.2L1723.7 274.2L1724.6 274.2L1725.6 274.2L1726.5 274.2L1727.5 274.2L1728.5 274.2L1729.4 274.2L1730.4 274.2L1731.4 274.2L1732.3 274.2L1733.3 274.2L1734.2 274.2L1735.2 271.5L1736.2 271.5L1737.1 268.7L1738.1 268.7L1739.1 265.9L1740.0 265.9L1741.0 263.1L1742.0 263.1L1742.9 260.3L1743.9 257.5L1744.8 257.5L1745.8 254.8L1746.8 250.2L1747.7 251.8L1748.7 243.4L1749.7 248.0L1750.6 247.2L1751.6 244.8L1752.5 245.5L1753.5 247.8L1754.5 242.9L1755.4 224.2L1756.4 221.7L1757.3 217.9L1758.3 226.3L1759.3 222.2L1760.2 212.4L1761.2 206.1L1762.2 198.3L1763.1 193.2L1764.1 194.5L1765.0 186.9L1766.0 187.9L1767.0 182.8L1767.9 183.9L1768.9 181.3L1769.9 178.2L1770.8 172.9L1771.8 166.1L1772.8 164.0L1773.7 177.0L1774.7 177.5L1775.6 177.1L1776.6 189.5L1777.6 190.0L1778.5 192.2L1779.5 206.6L1780.5 216.5L1781.4 205.2L1782.4 200.7L1783.3 187.9L1784.3 192.2L1785.3 185.6L1786.2 180.1L1787.2 175.2L1788.2 168.8L1789.1 175.2L1790.1 188.0L1791.0 206.0L1792.0 208.2" fill="none" stroke="#c4c8fc" stroke-width="1.3" stroke-linejoin="round" opacity="1"/>
<path d="M1407.0 169.2L1408.0 172.9L1408.9 179.8L1409.9 189.2L1410.8 207.2L1411.8 206.7L1412.8 209.3L1413.7 208.0L1414.7 210.4L1415.7 212.5L1416.6 207.3L1417.6 202.8L1418.5 203.6L1419.5 208.5L1420.5 206.2L1421.4 198.5L1422.4 208.8L1423.4 204.8L1424.3 212.6L1425.3 215.2L1426.2 202.3L1427.2 211.0L1428.2 212.1L1429.1 217.2L1430.1 209.8L1431.1 213.6L1432.0 211.8L1433.0 206.3L1434.0 205.5L1434.9 193.5L1435.9 197.9L1436.8 200.8L1437.8 196.7L1438.8 198.9L1439.7 199.4L1440.7 201.9L1441.7 198.4L1442.6 192.6L1443.6 196.3L1444.5 195.7L1445.5 197.5L1446.5 200.1L1447.4 193.4L1448.4 202.2L1449.3 207.4L1450.3 210.6L1451.3 213.9L1452.2 206.5L1453.2 200.4L1454.2 208.7L1455.1 201.7L1456.1 198.5L1457.0 203.4L1458.0 204.5L1459.0 208.9L1459.9 203.9L1460.9 205.2L1461.9 206.9L1462.8 212.0L1463.8 213.5L1464.8 203.7L1465.7 208.7L1466.7 206.5L1467.6 216.5L1468.6 213.6L1469.6 206.5L1470.5 208.3L1471.5 210.1L1472.5 215.1L1473.4 213.1L1474.4 209.4L1475.3 210.1L1476.3 209.1L1477.3 210.0L1478.2 208.6L1479.2 197.9L1480.2 206.9L1481.1 206.6L1482.1 212.1L1483.0 202.9L1484.0 206.2L1485.0 201.8L1485.9 204.7L1486.9 194.7L1487.8 190.0L1488.8 194.0L1489.8 197.6L1490.7 200.2L1491.7 203.4L1492.7 200.3L1493.6 206.5L1494.6 210.9L1495.5 213.2L1496.5 211.1L1497.5 219.9L1498.4 211.3L1499.4 210.4L1500.4 210.7L1501.3 211.9L1502.3 212.7L1503.2 212.4L1504.2 210.5L1505.2 213.2L1506.1 224.6L1507.1 213.6L1508.1 212.5L1509.0 211.6L1510.0 202.0L1511.0 199.5L1511.9 205.0L1512.9 202.2L1513.8 207.3L1514.8 216.7L1515.8 215.1L1516.7 217.3L1517.7 218.6L1518.7 227.8L1519.6 231.9L1520.6 232.1L1521.5 227.1L1522.5 224.1L1523.5 221.2L1524.4 217.1L1525.4 219.7L1526.3 212.7L1527.3 207.1L1528.3 199.7L1529.2 209.9L1530.2 210.6L1531.2 206.5L1532.1 206.7L1533.1 208.0L1534.0 209.9L1535.0 215.0L1536.0 224.2L1536.9 218.6L1537.9 216.2L1538.9 205.0L1539.8 203.8L1540.8 193.7L1541.8 191.7L1542.7 201.0L1543.7 197.6L1544.6 200.3L1545.6 199.7L1546.6 201.3L1547.5 204.8L1548.5 205.2L1549.5 202.0L1550.4 200.9L1551.4 203.3L1552.3 208.4L1553.3 215.5L1554.3 209.5L1555.2 216.5L1556.2 230.7L1557.2 232.5L1558.1 235.3L1559.1 240.8L1560.0 243.6L1561.0 249.2L1562.0 252.0L1562.9 254.8L1563.9 260.3L1564.8 263.1L1565.8 263.1L1566.8 265.9L1567.7 265.9L1568.7 268.7L1569.7 268.7L1570.6 271.5L1571.6 271.5L1572.5 271.5L1573.5 274.2L1574.5 274.2L1575.4 277.0L1576.4 277.0L1577.4 277.0L1578.3 277.0L1579.3 277.0L1580.2 277.0L1581.2 277.0L1582.2 277.0L1583.1 277.0L1584.1 279.8L1585.1 279.8L1586.0 279.8L1587.0 279.8L1588.0 279.8L1588.9 279.8L1589.9 279.8L1590.8 279.8L1591.8 279.8L1592.8 279.8L1593.7 279.8L1594.7 279.8L1595.7 279.8L1596.6 279.8L1597.6 279.8L1598.5 279.8L1599.5 279.8L1600.5 279.8L1601.4 279.8L1602.4 279.8L1603.3 279.8L1604.3 279.8L1605.3 279.8L1606.2 279.8L1607.2 279.8L1608.2 279.8L1609.1 279.8L1610.1 279.8L1611.0 279.8L1612.0 279.8L1613.0 279.8L1613.9 279.8L1614.9 279.8L1615.9 279.8L1616.8 279.8L1617.8 279.8L1618.8 279.8L1619.7 279.8L1620.7 279.8L1621.6 279.8L1622.6 279.8L1623.6 279.8L1624.5 279.8L1625.5 279.8L1626.5 279.8L1627.4 279.8L1628.4 279.8L1629.3 282.6L1630.3 282.6L1631.3 282.6L1632.2 282.6L1633.2 282.6L1634.2 282.6L1635.1 282.6L1636.1 282.6L1637.0 282.6L1638.0 282.6L1639.0 282.6L1639.9 282.6L1640.9 282.6L1641.8 282.6L1642.8 282.6L1643.8 282.6L1644.7 282.6L1645.7 282.6L1646.7 282.6L1647.6 282.6L1648.6 282.6L1649.5 282.6L1650.5 282.6L1651.5 282.6L1652.4 282.6L1653.4 282.6L1654.4 282.6L1655.3 282.6L1656.3 282.6L1657.2 282.6L1658.2 282.6L1659.2 282.6L1660.1 282.6L1661.1 282.6L1662.1 279.8L1663.0 279.8L1664.0 279.8L1665.0 279.8L1665.9 279.8L1666.9 279.8L1667.8 279.8L1668.8 279.8L1669.8 279.8L1670.7 279.8L1671.7 277.0L1672.7 277.0L1673.6 277.0L1674.6 277.0L1675.5 277.0L1676.5 277.0L1677.5 277.0L1678.4 277.0L1679.4 277.0L1680.3 277.0L1681.3 277.0L1682.3 277.0L1683.2 277.0L1684.2 277.0L1685.2 277.0L1686.1 277.0L1687.1 274.2L1688.0 274.2L1689.0 274.2L1690.0 274.2L1690.9 274.2L1691.9 274.2L1692.9 274.2L1693.8 274.2L1694.8 274.2L1695.8 274.2L1696.7 274.2L1697.7 274.2L1698.6 274.2L1699.6 274.2L1700.6 274.2L1701.5 274.2L1702.5 274.2L1703.5 274.2L1704.4 274.2L1705.4 274.2L1706.3 274.2L1707.3 274.2L1708.3 274.2L1709.2 274.2L1710.2 274.2L1711.2 274.2L1712.1 274.2L1713.1 274.2L1714.0 274.2L1715.0 274.2L1716.0 274.2L1716.9 274.2L1717.9 274.2L1718.8 274.2L1719.8 274.2L1720.8 274.2L1721.7 274.2L1722.7 274.2L1723.7 274.2L1724.6 274.2L1725.6 274.2L1726.5 274.2L1727.5 274.2L1728.5 271.5L1729.4 271.5L1730.4 271.5L1731.4 271.5L1732.3 271.5L1733.3 271.5L1734.2 271.5L1735.2 268.7L1736.2 268.7L1737.1 268.7L1738.1 268.7L1739.1 265.9L1740.0 265.9L1741.0 265.9L1742.0 263.1L1742.9 260.3L1743.9 260.3L1744.8 260.3L1745.8 257.5L1746.8 252.6L1747.7 254.1L1748.7 252.6L1749.7 261.0L1750.6 257.5L1751.6 249.3L1752.5 236.5L1753.5 225.1L1754.5 227.5L1755.4 222.6L1756.4 219.6L1757.3 209.3L1758.3 211.4L1759.3 202.2L1760.2 209.8L1761.2 212.7L1762.2 200.2L1763.1 206.6L1764.1 197.7L1765.0 190.6L1766.0 183.6L1767.0 180.7L1767.9 182.2L1768.9 185.2L1769.9 190.7L1770.8 198.1L1771.8 198.8L1772.8 195.1L1773.7 193.3L1774.7 187.9L1775.6 189.1L1776.6 186.1L1777.6 184.3L1778.5 198.5L1779.5 209.3L1780.5 208.9L1781.4 212.2L1782.4 220.5L1783.3 218.3L1784.3 212.0L1785.3 198.5L1786.2 188.2L1787.2 182.4L1788.2 169.4L1789.1 180.0L1790.1 191.0L1791.0 188.5L1792.0 200.9" fill="none" stroke="#2c9cf0" stroke-width="1.8" stroke-linejoin="round" opacity="1"/>
<path d="M1407.0 313.2L1408.0 317.3L1408.9 317.7L1409.9 315.4L1410.8 317.7L1411.8 315.3L1412.8 317.5L1413.7 310.0L1414.7 317.9L1415.7 311.9L1416.6 317.9L1417.6 313.3L1418.5 315.2L1419.5 317.7L1420.5 316.9L1421.4 313.4L1422.4 317.8L1423.4 317.1L1424.3 318.1L1425.3 315.1L1426.2 317.8L1427.2 316.7L1428.2 318.1L1429.1 317.9L1430.1 317.7L1431.1 317.2L1432.0 316.7L1433.0 315.9L1434.0 318.1L1434.9 318.1L1435.9 315.0L1436.8 317.3L1437.8 318.2L1438.8 316.8L1439.7 316.9L1440.7 317.5L1441.7 316.9L1442.6 318.1L1443.6 317.9L1444.5 313.3L1445.5 315.7L1446.5 317.1L1447.4 317.6L1448.4 317.9L1449.3 318.1L1450.3 317.6L1451.3 315.8L1452.2 317.8L1453.2 312.5L1454.2 309.9L1455.1 316.9L1456.1 316.9L1457.0 316.9L1458.0 317.7L1459.0 318.0L1459.9 316.2L1460.9 316.3L1461.9 316.6L1462.8 314.1L1463.8 318.0L1464.8 317.1L1465.7 315.7L1466.7 317.2L1467.6 315.5L1468.6 317.7L1469.6 318.2L1470.5 316.0L1471.5 318.2L1472.5 316.9L1473.4 317.6L1474.4 316.9L1475.3 317.8L1476.3 315.5L1477.3 317.4L1478.2 314.2L1479.2 317.8L1480.2 315.8L1481.1 317.5L1482.1 317.7L1483.0 317.8L1484.0 315.7L1485.0 314.4L1485.9 317.8L1486.9 318.1L1487.8 318.0L1488.8 314.2L1489.8 313.4L1490.7 317.1L1491.7 318.2L1492.7 318.0L1493.6 317.8L1494.6 317.3L1495.5 316.9L1496.5 318.2L1497.5 317.8L1498.4 317.4L1499.4 317.1L1500.4 318.2L1501.3 318.0L1502.3 317.6L1503.2 316.8L1504.2 313.4L1505.2 316.9L1506.1 317.6L1507.1 318.0L1508.1 317.4L1509.0 317.7L1510.0 316.1L1511.0 318.1L1511.9 314.5L1512.9 315.0L1513.8 318.1L1514.8 317.8L1515.8 316.5L1516.7 317.3L1517.7 317.9L1518.7 314.6L1519.6 316.8L1520.6 317.8L1521.5 316.2L1522.5 314.7L1523.5 317.7L1524.4 316.6L1525.4 317.8L1526.3 316.2L1527.3 317.5L1528.3 317.8L1529.2 317.4L1530.2 317.4L1531.2 317.5L1532.1 318.0L1533.1 313.2L1534.0 317.3L1535.0 317.3L1536.0 317.5L1536.9 314.8L1537.9 314.6L1538.9 317.4L1539.8 310.4L1540.8 316.2L1541.8 315.8L1542.7 316.5L1543.7 317.1L1544.6 318.0L1545.6 317.1L1546.6 317.7L1547.5 316.2L1548.5 314.8L1549.5 316.1L1550.4 318.1L1551.4 317.5L1552.3 315.5L1553.3 316.0L1554.3 317.6L1555.2 318.2L1556.2 318.2L1557.2 318.2L1558.1 318.2L1559.1 318.2L1560.0 318.2L1561.0 318.2L1562.0 318.2L1562.9 318.2L1563.9 318.2L1564.8 318.2L1565.8 318.2L1566.8 318.2L1567.7 318.2L1568.7 318.2L1569.7 318.2L1570.6 318.2L1571.6 318.2L1572.5 318.2L1573.5 318.2L1574.5 318.2L1575.4 318.2L1576.4 318.2L1577.4 318.2L1578.3 318.2L1579.3 318.2L1580.2 318.2L1581.2 318.2L1582.2 318.2L1583.1 318.2L1584.1 318.2L1585.1 318.2L1586.0 318.2L1587.0 318.2L1588.0 318.2L1588.9 318.2L1589.9 318.2L1590.8 318.2L1591.8 318.2L1592.8 318.2L1593.7 318.2L1594.7 318.2L1595.7 318.2L1596.6 318.2L1597.6 318.2L1598.5 318.2L1599.5 318.2L1600.5 318.2L1601.4 318.2L1602.4 318.2L1603.3 318.2L1604.3 318.2L1605.3 318.2L1606.2 318.2L1607.2 318.2L1608.2 318.2L1609.1 318.2L1610.1 318.2L1611.0 318.2L1612.0 318.2L1613.0 318.2L1613.9 318.2L1614.9 318.2L1615.9 318.2L1616.8 318.2L1617.8 318.2L1618.8 318.2L1619.7 318.2L1620.7 318.2L1621.6 318.2L1622.6 318.2L1623.6 318.2L1624.5 318.2L1625.5 318.2L1626.5 318.2L1627.4 318.2L1628.4 318.2L1629.3 318.2L1630.3 318.2L1631.3 318.2L1632.2 318.2L1633.2 318.2L1634.2 318.2L1635.1 318.2L1636.1 318.2L1637.0 318.2L1638.0 318.2L1639.0 318.2L1639.9 318.2L1640.9 318.2L1641.8 318.2L1642.8 318.2L1643.8 318.2L1644.7 318.2L1645.7 318.2L1646.7 318.2L1647.6 318.2L1648.6 318.2L1649.5 318.2L1650.5 318.2L1651.5 318.2L1652.4 318.2L1653.4 318.2L1654.4 318.2L1655.3 318.2L1656.3 318.2L1657.2 318.2L1658.2 318.2L1659.2 318.2L1660.1 318.2L1661.1 318.2L1662.1 318.2L1663.0 318.2L1664.0 318.2L1665.0 318.2L1665.9 318.2L1666.9 318.2L1667.8 318.2L1668.8 318.2L1669.8 318.2L1670.7 318.2L1671.7 318.2L1672.7 318.2L1673.6 318.2L1674.6 318.2L1675.5 318.2L1676.5 318.2L1677.5 318.2L1678.4 318.2L1679.4 318.2L1680.3 318.2L1681.3 318.2L1682.3 318.2L1683.2 318.2L1684.2 318.2L1685.2 318.2L1686.1 318.2L1687.1 318.2L1688.0 318.2L1689.0 318.2L1690.0 318.2L1690.9 318.2L1691.9 318.2L1692.9 318.2L1693.8 318.2L1694.8 318.2L1695.8 318.2L1696.7 318.2L1697.7 318.2L1698.6 318.2L1699.6 318.2L1700.6 318.2L1701.5 318.2L1702.5 318.2L1703.5 318.2L1704.4 318.2L1705.4 318.2L1706.3 318.2L1707.3 318.2L1708.3 318.2L1709.2 318.2L1710.2 318.2L1711.2 318.2L1712.1 318.2L1713.1 318.2L1714.0 318.2L1715.0 318.2L1716.0 318.2L1716.9 318.2L1717.9 318.2L1718.8 318.2L1719.8 318.2L1720.8 318.2L1721.7 318.2L1722.7 318.2L1723.7 318.2L1724.6 318.2L1725.6 318.2L1726.5 318.2L1727.5 318.2L1728.5 318.2L1729.4 318.2L1730.4 318.2L1731.4 318.2L1732.3 318.2L1733.3 318.2L1734.2 318.2L1735.2 318.2L1736.2 318.2L1737.1 318.2L1738.1 318.2L1739.1 318.2L1740.0 318.2L1741.0 318.2L1742.0 318.2L1742.9 318.2L1743.9 318.2L1744.8 318.2L1745.8 315.0L1746.8 312.7L1747.7 316.9L1748.7 314.9L1749.7 318.0L1750.6 313.3L1751.6 315.4L1752.5 314.2L1753.5 317.4L1754.5 314.3L1755.4 316.2L1756.4 315.6L1757.3 313.7L1758.3 317.6L1759.3 316.1L1760.2 317.4L1761.2 317.9L1762.2 317.1L1763.1 317.9L1764.1 316.7L1765.0 314.5L1766.0 317.3L1767.0 315.2L1767.9 318.1L1768.9 314.7L1769.9 315.6L1770.8 317.4L1771.8 315.6L1772.8 316.6L1773.7 317.3L1774.7 317.2L1775.6 315.9L1776.6 318.2L1777.6 316.4L1778.5 311.5L1779.5 318.2L1780.5 315.7L1781.4 313.7L1782.4 317.6L1783.3 317.6L1784.3 320.5L1785.3 320.5L1786.2 320.5L1787.2 320.5L1788.2 320.5L1789.1 320.5L1790.1 320.5L1791.0 320.5L1792.0 320.5" fill="none" stroke="#40f040" stroke-width="1.6" stroke-linejoin="round" />
</g>
<rect x="1407" y="43.2" width="385" height="306.2" fill="none" stroke="#000" stroke-width="1.5"/>
<rect x="1407" y="182.6" width="147.7" height="140.2" fill="none" stroke="#000" stroke-width="1.3"/>
<line x1="1407.0" y1="321.6" x2="1413.0" y2="321.6" stroke="#000" stroke-width="1.3" />
<line x1="1792.0" y1="321.6" x2="1786.0" y2="321.6" stroke="#000" stroke-width="1.3" />
<line x1="1407.0" y1="293.7" x2="1410.5" y2="293.7" stroke="#000" stroke-width="1.3" />
<line x1="1792.0" y1="293.7" x2="1788.5" y2="293.7" stroke="#000" stroke-width="1.3" />
<line x1="1407.0" y1="265.9" x2="1413.0" y2="265.9" stroke="#000" stroke-width="1.3" />
<line x1="1792.0" y1="265.9" x2="1786.0" y2="265.9" stroke="#000" stroke-width="1.3" />
<line x1="1407.0" y1="238.1" x2="1410.5" y2="238.1" stroke="#000" stroke-width="1.3" />
<line x1="1792.0" y1="238.1" x2="1788.5" y2="238.1" stroke="#000" stroke-width="1.3" />
<line x1="1407.0" y1="210.2" x2="1413.0" y2="210.2" stroke="#000" stroke-width="1.3" />
<line x1="1792.0" y1="210.2" x2="1786.0" y2="210.2" stroke="#000" stroke-width="1.3" />
<line x1="1407.0" y1="182.4" x2="1410.5" y2="182.4" stroke="#000" stroke-width="1.3" />
<line x1="1792.0" y1="182.4" x2="1788.5" y2="182.4" stroke="#000" stroke-width="1.3" />
<line x1="1407.0" y1="154.5" x2="1413.0" y2="154.5" stroke="#000" stroke-width="1.3" />
<line x1="1792.0" y1="154.5" x2="1786.0" y2="154.5" stroke="#000" stroke-width="1.3" />
<line x1="1407.0" y1="126.7" x2="1410.5" y2="126.7" stroke="#000" stroke-width="1.3" />
<line x1="1792.0" y1="126.7" x2="1788.5" y2="126.7" stroke="#000" stroke-width="1.3" />
<line x1="1407.0" y1="98.9" x2="1413.0" y2="98.9" stroke="#000" stroke-width="1.3" />
<line x1="1792.0" y1="98.9" x2="1786.0" y2="98.9" stroke="#000" stroke-width="1.3" />
<line x1="1407.0" y1="71.0" x2="1410.5" y2="71.0" stroke="#000" stroke-width="1.3" />
<line x1="1792.0" y1="71.0" x2="1788.5" y2="71.0" stroke="#000" stroke-width="1.3" />
<line x1="1455.1" y1="349.4" x2="1455.1" y2="345.9" stroke="#000" stroke-width="1.3" />
<line x1="1455.1" y1="43.2" x2="1455.1" y2="46.7" stroke="#000" stroke-width="1.3" />
<line x1="1503.2" y1="349.4" x2="1503.2" y2="343.4" stroke="#000" stroke-width="1.3" />
<line x1="1503.2" y1="43.2" x2="1503.2" y2="49.2" stroke="#000" stroke-width="1.3" />
<line x1="1551.4" y1="349.4" x2="1551.4" y2="345.9" stroke="#000" stroke-width="1.3" />
<line x1="1551.4" y1="43.2" x2="1551.4" y2="46.7" stroke="#000" stroke-width="1.3" />
<line x1="1599.5" y1="349.4" x2="1599.5" y2="343.4" stroke="#000" stroke-width="1.3" />
<line x1="1599.5" y1="43.2" x2="1599.5" y2="49.2" stroke="#000" stroke-width="1.3" />
<line x1="1647.6" y1="349.4" x2="1647.6" y2="345.9" stroke="#000" stroke-width="1.3" />
<line x1="1647.6" y1="43.2" x2="1647.6" y2="46.7" stroke="#000" stroke-width="1.3" />
<line x1="1695.8" y1="349.4" x2="1695.8" y2="343.4" stroke="#000" stroke-width="1.3" />
<line x1="1695.8" y1="43.2" x2="1695.8" y2="49.2" stroke="#000" stroke-width="1.3" />
<line x1="1743.9" y1="349.4" x2="1743.9" y2="345.9" stroke="#000" stroke-width="1.3" />
<line x1="1743.9" y1="43.2" x2="1743.9" y2="46.7" stroke="#000" stroke-width="1.3" />
<text x="1399.5" y="330.9" font-size="27.5" text-anchor="end" font-weight="bold" fill="#000" >0.0</text>
<text x="1399.5" y="275.2" font-size="27.5" text-anchor="end" font-weight="bold" fill="#000" >0.2</text>
<text x="1399.5" y="219.5" font-size="27.5" text-anchor="end" font-weight="bold" fill="#000" >0.4</text>
<text x="1399.5" y="163.8" font-size="27.5" text-anchor="end" font-weight="bold" fill="#000" >0.6</text>
<text x="1399.5" y="108.2" font-size="27.5" text-anchor="end" font-weight="bold" fill="#000" >0.8</text>
<text x="1399.5" y="52.5" font-size="27.5" text-anchor="end" font-weight="bold" fill="#000" >1.0</text>
<text x="1407.0" y="377.0" font-size="27.5" text-anchor="middle" font-weight="bold" fill="#000" >450</text>
<text x="1503.2" y="377.0" font-size="27.5" text-anchor="middle" font-weight="bold" fill="#000" >500</text>
<text x="1599.5" y="377.0" font-size="27.5" text-anchor="middle" font-weight="bold" fill="#000" >550</text>
<text x="1695.8" y="377.0" font-size="27.5" text-anchor="middle" font-weight="bold" fill="#000" >600</text>
<text x="1792.0" y="377.0" font-size="27.5" text-anchor="middle" font-weight="bold" fill="#000" >650</text>
<text x="1598.0" y="408.0" font-size="26.3" text-anchor="middle" font-weight="bold" fill="#000" >Wavelength (nm)</text>
<text transform="translate(1348,186) rotate(-90)" font-size="26.3" font-weight="bold" text-anchor="middle">Abs</text>
<text x="1308.0" y="40.0" font-size="52" text-anchor="start" font-weight="bold" fill="#000" >d</text>
<text x="1459" y="128" font-size="20.5" font-weight="bold">MnO<tspan dy="4.5" font-size="18">x</tspan></text>
<line x1="1474.5" y1="177.5" x2="1477.2" y2="149.4" stroke="#000" stroke-width="3.2" />
<polygon points="1478.5,135.5 1482.5,151.9 1471.5,150.9" fill="#000"/>
<line x1="1561.8" y1="243.5" x2="1563.8" y2="215.0" stroke="#000" stroke-width="3.2" />
<polygon points="1564.8,201.0 1569.2,217.3 1558.2,216.6" fill="#000"/>
</g>
<g id="pi">
<clipPath id="ci"><rect x="1399" y="455" width="499" height="408"/></clipPath>
<g clip-path="url(#ci)">
<path d="M1399.3 634.5L1400.1 636.4L1401.0 636.6L1401.8 638.4L1402.6 642.3L1403.5 642.0L1404.3 645.1L1405.1 645.5L1405.9 647.0L1406.8 648.1L1407.6 651.5L1408.4 654.2L1409.3 655.6L1410.1 657.9L1410.9 662.4L1411.8 663.3L1412.6 666.0L1413.4 666.4L1414.3 669.2L1415.1 671.2L1415.9 673.0L1416.8 675.8L1417.6 680.0L1418.4 681.9L1419.2 683.5L1420.1 687.4L1420.9 690.5L1421.7 692.1L1422.6 695.1L1423.4 699.1L1424.2 702.0L1425.1 703.8L1425.9 707.9L1426.7 711.2L1427.6 712.6L1428.4 714.8L1429.2 719.9L1430.1 721.8L1430.9 722.9L1431.7 725.7L1432.5 727.1L1433.4 729.0L1434.2 728.5L1435.0 733.4L1435.9 732.2L1436.7 734.1L1437.5 735.6L1438.4 734.7L1439.2 734.4L1440.0 733.1L1440.9 733.8L1441.7 734.1L1442.5 733.7L1443.4 732.1L1444.2 731.2L1445.0 732.2L1445.8 730.7L1446.7 730.4L1447.5 730.6L1448.3 730.5L1449.2 730.4L1450.0 730.7L1450.8 731.0L1451.7 730.4L1452.5 730.5L1453.3 730.7L1454.2 731.4L1455.0 729.6L1455.8 730.5L1456.7 727.6L1457.5 728.0L1458.3 730.4L1459.1 728.3L1460.0 731.1L1460.8 731.7L1461.6 730.9L1462.5 730.4L1463.3 730.0L1464.1 728.5L1465.0 731.4L1465.8 730.9L1466.6 730.4L1467.5 731.6L1468.3 731.0L1469.1 732.4L1469.9 732.6L1470.8 734.1L1471.6 735.8L1472.4 736.9L1473.3 739.5L1474.1 739.8L1474.9 741.3L1475.8 743.4L1476.6 745.4L1477.4 747.3L1478.3 747.8L1479.1 751.2L1479.9 752.9L1480.8 754.8L1481.6 758.6L1482.4 759.6L1483.2 761.7L1484.1 765.8L1484.9 765.3L1485.7 768.2L1486.6 769.6L1487.4 770.8L1488.2 773.9L1489.1 776.1L1489.9 777.6L1490.7 778.5L1491.6 782.2L1492.4 783.9L1493.2 784.7L1494.1 786.5L1494.9 786.5L1495.7 788.9L1496.5 790.0L1497.4 791.7L1498.2 794.1L1499.0 793.3L1499.9 794.9L1500.7 796.3L1501.5 797.9L1502.4 797.2L1503.2 798.0L1504.0 799.2L1504.9 801.1L1505.7 802.9L1506.5 803.4L1507.4 804.8L1508.2 804.9L1509.0 803.6L1509.8 806.8L1510.7 805.5L1511.5 808.2L1512.3 807.8L1513.2 810.0L1514.0 809.1L1514.8 810.9L1515.7 810.0L1516.5 810.8L1517.3 810.2L1518.2 810.0L1519.0 812.2L1519.8 811.6L1520.7 812.7L1521.5 813.2L1522.3 813.0L1523.1 814.2L1524.0 813.0L1524.8 814.4L1525.6 813.5L1526.5 814.7L1527.3 814.6L1528.1 815.5L1529.0 816.1L1529.8 815.4L1530.6 814.7L1531.5 816.9L1532.3 816.3L1533.1 816.2L1533.9 816.7L1534.8 816.2L1535.6 815.0L1536.4 815.3L1537.3 819.5L1538.1 817.1L1538.9 816.0L1539.8 816.4L1540.6 815.1L1541.4 816.5L1542.3 815.4L1543.1 816.2L1543.9 817.5L1544.8 815.9L1545.6 816.2L1546.4 815.3L1547.2 816.6L1548.1 815.5L1548.9 817.2L1549.7 816.5L1550.6 815.7L1551.4 816.7L1552.2 816.2L1553.1 815.5L1553.9 815.4L1554.7 816.2L1555.6 816.5L1556.4 815.9L1557.2 816.6L1558.1 816.3L1558.9 815.7L1559.7 818.4L1560.5 816.7L1561.4 816.7L1562.2 816.1L1563.0 816.0L1563.9 815.6L1564.7 814.7L1565.5 816.1L1566.4 818.1L1567.2 817.1L1568.0 815.5L1568.9 816.6L1569.7 817.6L1570.5 816.5L1571.4 816.5L1572.2 815.2L1573.0 816.4L1573.8 816.5L1574.7 815.6L1575.5 816.2L1576.3 818.4L1577.2 815.8L1578.0 816.2L1578.8 815.1L1579.7 816.0L1580.5 817.4L1581.3 817.2L1582.2 816.1L1583.0 815.5L1583.8 815.8L1584.7 817.0L1585.5 816.2L1586.3 815.8L1587.1 816.2L1588.0 817.1L1588.8 816.8L1589.6 817.7L1590.5 816.3L1591.3 816.8L1592.1 817.2L1593.0 814.3L1593.8 816.9L1594.6 816.5L1595.5 816.0L1596.3 816.1L1597.1 816.9L1597.9 817.2L1598.8 815.9L1599.6 816.1L1600.4 816.1L1601.3 817.9L1602.1 817.2L1602.9 816.4L1603.8 816.2L1604.6 816.3L1605.4 815.6L1606.3 817.4L1607.1 815.0L1607.9 816.4L1608.8 815.7L1609.6 816.9L1610.4 815.9L1611.2 817.1L1612.1 817.1L1612.9 815.8L1613.7 817.4L1614.6 816.6L1615.4 816.5L1616.2 816.2L1617.1 816.9L1617.9 815.4L1618.7 815.6L1619.6 817.6L1620.4 817.5L1621.2 816.6L1622.1 815.8L1622.9 815.4L1623.7 816.3L1624.5 817.3L1625.4 816.5L1626.2 818.3L1627.0 816.6L1627.9 816.4L1628.7 816.0L1629.5 817.5L1630.4 815.4L1631.2 816.0L1632.0 817.4L1632.9 817.4L1633.7 817.2L1634.5 817.4L1635.4 814.7L1636.2 816.0L1637.0 817.5L1637.8 818.0L1638.7 817.9L1639.5 816.6L1640.3 818.0L1641.2 816.2L1642.0 815.8L1642.8 816.1L1643.7 816.4L1644.5 817.3L1645.3 817.3L1646.2 816.6L1647.0 816.4L1647.8 816.9L1648.6 816.6L1649.5 816.2L1650.3 815.7L1651.1 816.1L1652.0 816.0L1652.8 816.7L1653.6 817.6L1654.5 817.5L1655.3 816.5L1656.1 816.7L1657.0 815.0L1657.8 816.2L1658.6 816.2L1659.5 814.9L1660.3 817.9L1661.1 818.4L1661.9 817.7L1662.8 815.4L1663.6 816.1L1664.4 815.9L1665.3 817.1L1666.1 815.9L1666.9 817.2L1667.8 816.6L1668.6 815.7L1669.4 815.7L1670.3 818.1L1671.1 816.4L1671.9 817.3L1672.8 816.9L1673.6 816.2L1674.4 815.0L1675.2 816.2L1676.1 816.7L1676.9 816.7L1677.7 815.0L1678.6 816.4L1679.4 816.1L1680.2 816.2L1681.1 813.9L1681.9 816.2L1682.7 816.1L1683.6 816.6L1684.4 816.9L1685.2 816.1L1686.1 817.1L1686.9 817.5L1687.7 816.2L1688.5 814.7L1689.4 817.6L1690.2 816.3L1691.0 815.7L1691.9 816.0L1692.7 816.1L1693.5 816.0L1694.4 816.9L1695.2 817.5L1696.0 816.6L1696.9 816.5L1697.7 816.1L1698.5 815.7L1699.4 816.4L1700.2 815.9L1701.0 816.9L1701.8 816.8L1702.7 814.3L1703.5 816.1L1704.3 816.6L1705.2 816.3L1706.0 817.3L1706.8 817.9L1707.7 815.7L1708.5 815.3L1709.3 816.3L1710.2 814.7L1711.0 818.0L1711.8 816.1L1712.6 817.4L1713.5 816.8L1714.3 814.1L1715.1 815.9L1716.0 816.4L1716.8 816.9L1717.6 814.0L1718.5 817.8L1719.3 815.2L1720.1 815.7L1721.0 816.0L1721.8 816.4L1722.6 816.2L1723.5 816.1L1724.3 817.9L1725.1 816.9L1725.9 816.9L1726.8 817.2L1727.6 817.5L1728.4 816.6L1729.3 815.4L1730.1 814.3L1730.9 816.3L1731.8 815.8L1732.6 816.2L1733.4 816.1L1734.3 816.5L1735.1 815.9L1735.9 815.5L1736.8 814.4L1737.6 816.3L1738.4 816.0L1739.2 815.0L1740.1 816.2L1740.9 815.4L1741.7 815.9L1742.6 816.8L1743.4 816.4L1744.2 814.3L1745.1 816.2L1745.9 815.9L1746.7 817.1L1747.6 816.4L1748.4 816.7L1749.2 815.8L1750.1 817.2L1750.9 818.5L1751.7 816.1L1752.5 815.8L1753.4 815.3L1754.2 815.8L1755.0 815.8L1755.9 816.0L1756.7 815.7L1757.5 818.1L1758.4 818.3L1759.2 816.3L1760.0 816.2L1760.9 814.9L1761.7 816.5L1762.5 817.5L1763.4 816.6L1764.2 815.8L1765.0 815.6L1765.8 814.8L1766.7 816.6L1767.5 817.4L1768.3 816.2L1769.2 816.6L1770.0 815.7L1770.8 817.4L1771.7 816.5L1772.5 816.8L1773.3 815.6L1774.2 816.5L1775.0 818.1L1775.8 813.4L1776.6 817.6L1777.5 816.6L1778.3 815.6L1779.1 817.9L1780.0 816.8L1780.8 816.3L1781.6 816.8L1782.5 816.4L1783.3 816.7L1784.1 816.3L1785.0 815.3L1785.8 816.3L1786.6 816.4L1787.5 817.5L1788.3 817.0L1789.1 815.7L1789.9 814.4L1790.8 816.2L1791.6 815.6L1792.4 816.0L1793.3 816.9L1794.1 816.3L1794.9 816.5L1795.8 818.0L1796.6 818.7L1797.4 816.1L1798.3 815.8L1799.1 814.9L1799.9 815.9L1800.8 816.2L1801.6 816.6L1802.4 817.4L1803.2 816.0L1804.1 817.5L1804.9 815.7L1805.7 816.8L1806.6 816.4L1807.4 816.3L1808.2 814.7L1809.1 816.0L1809.9 817.0L1810.7 815.0L1811.6 815.2L1812.4 815.3L1813.2 814.1L1814.1 816.4L1814.9 816.3L1815.7 816.4L1816.5 817.5L1817.4 815.9L1818.2 817.7L1819.0 816.3L1819.9 817.3L1820.7 815.0L1821.5 816.3L1822.4 817.5L1823.2 816.7L1824.0 815.2L1824.9 816.6L1825.7 816.3L1826.5 815.8L1827.4 814.8L1828.2 816.0L1829.0 813.7L1829.8 815.7L1830.7 816.0L1831.5 816.2L1832.3 815.9L1833.2 815.7L1834.0 815.6L1834.8 815.3L1835.7 816.4L1836.5 816.5L1837.3 816.2L1838.2 817.4L1839.0 814.7L1839.8 815.3L1840.6 816.7L1841.5 816.0L1842.3 817.9L1843.1 816.7L1844.0 815.6L1844.8 815.6L1845.6 816.5L1846.5 816.0L1847.3 816.8L1848.1 813.6L1849.0 816.3L1849.8 816.4L1850.6 815.8L1851.5 814.9L1852.3 816.1L1853.1 815.6L1853.9 816.8L1854.8 816.5L1855.6 816.5L1856.4 815.9" fill="none" stroke="#0000ff" stroke-width="4.0" stroke-linejoin="round" stroke-linecap="round"/>
<path d="M1399.3 647.5L1400.1 647.4L1401.0 648.3L1401.8 650.5L1402.6 652.6L1403.5 653.1L1404.3 657.5L1405.1 658.9L1405.9 662.0L1406.8 663.3L1407.6 665.6L1408.4 667.6L1409.3 670.1L1410.1 674.6L1410.9 676.7L1411.8 679.1L1412.6 681.0L1413.4 682.4L1414.3 684.5L1415.1 687.0L1415.9 688.9L1416.8 687.9L1417.6 694.0L1418.4 693.0L1419.2 698.9L1420.1 701.7L1420.9 704.0L1421.7 707.0L1422.6 709.7L1423.4 713.3L1424.2 715.9L1425.1 718.2L1425.9 720.4L1426.7 723.5L1427.6 725.5L1428.4 728.8L1429.2 729.2L1430.1 735.9L1430.9 735.8L1431.7 737.3L1432.5 739.6L1433.4 740.7L1434.2 742.0L1435.0 741.9L1435.9 744.0L1436.7 744.3L1437.5 745.2L1438.4 743.9L1439.2 744.1L1440.0 743.1L1440.9 743.4L1441.7 742.4L1442.5 742.7L1443.4 743.0L1444.2 741.9L1445.0 741.6L1445.8 739.7L1446.7 740.5L1447.5 739.8L1448.3 739.1L1449.2 739.4L1450.0 740.1L1450.8 739.6L1451.7 741.8L1452.5 739.1L1453.3 740.4L1454.2 741.3L1455.0 739.0L1455.8 739.9L1456.7 741.0L1457.5 738.8L1458.3 738.1L1459.1 739.2L1460.0 739.7L1460.8 738.5L1461.6 737.2L1462.5 739.7L1463.3 739.2L1464.1 739.7L1465.0 739.2L1465.8 739.6L1466.6 739.6L1467.5 741.0L1468.3 741.1L1469.1 740.5L1469.9 744.6L1470.8 744.6L1471.6 745.6L1472.4 747.1L1473.3 748.4L1474.1 750.0L1474.9 751.0L1475.8 753.5L1476.6 755.0L1477.4 757.1L1478.3 758.4L1479.1 763.2L1479.9 762.8L1480.8 766.8L1481.6 768.4L1482.4 770.0L1483.2 773.2L1484.1 774.1L1484.9 776.4L1485.7 778.0L1486.6 780.0L1487.4 784.0L1488.2 783.1L1489.1 786.7L1489.9 788.4L1490.7 791.5L1491.6 793.4L1492.4 793.3L1493.2 795.3L1494.1 798.5L1494.9 797.5L1495.7 798.9L1496.5 802.2L1497.4 803.5L1498.2 803.0L1499.0 804.2L1499.9 804.3L1500.7 804.2L1501.5 804.8L1502.4 807.6L1503.2 808.6L1504.0 807.0L1504.9 809.2L1505.7 810.2L1506.5 809.0L1507.4 810.3L1508.2 811.6L1509.0 810.9L1509.8 812.5L1510.7 811.7L1511.5 812.1L1512.3 812.9L1513.2 814.5L1514.0 813.9L1514.8 812.5L1515.7 813.2L1516.5 813.7L1517.3 815.6L1518.2 814.0L1519.0 815.9L1519.8 815.5L1520.7 815.2L1521.5 814.3L1522.3 816.8L1523.1 816.1L1524.0 817.7L1524.8 817.4L1525.6 815.9L1526.5 816.3L1527.3 816.0L1528.1 815.7L1529.0 815.5L1529.8 816.7L1530.6 818.3L1531.5 817.7L1532.3 818.1L1533.1 817.6L1533.9 818.0L1534.8 817.3L1535.6 818.2L1536.4 816.5L1537.3 818.1L1538.1 818.0L1538.9 818.7L1539.8 818.5L1540.6 817.5L1541.4 817.5L1542.3 818.0L1543.1 817.5L1543.9 817.0L1544.8 818.6L1545.6 818.6L1546.4 817.0L1547.2 818.1L1548.1 817.5L1548.9 817.2L1549.7 817.6L1550.6 816.7L1551.4 817.3L1552.2 816.9L1553.1 816.8L1553.9 818.1L1554.7 818.1L1555.6 816.7L1556.4 817.6L1557.2 815.1L1558.1 818.4L1558.9 819.0L1559.7 818.0L1560.5 815.6L1561.4 816.5L1562.2 818.2L1563.0 817.2L1563.9 816.7L1564.7 817.9L1565.5 817.3L1566.4 817.4L1567.2 817.3L1568.0 818.0L1568.9 817.7L1569.7 817.8L1570.5 816.5L1571.4 819.7L1572.2 818.6L1573.0 816.3L1573.8 816.9L1574.7 817.9L1575.5 820.6L1576.3 816.9L1577.2 816.4L1578.0 817.8L1578.8 817.6L1579.7 817.5L1580.5 816.4L1581.3 819.4L1582.2 818.1L1583.0 817.7L1583.8 816.6L1584.7 816.5L1585.5 817.9L1586.3 818.6L1587.1 817.3L1588.0 817.7L1588.8 817.0L1589.6 817.4L1590.5 817.6L1591.3 817.2L1592.1 817.4L1593.0 816.8L1593.8 817.0L1594.6 818.5L1595.5 817.1L1596.3 816.4L1597.1 816.0L1597.9 815.2L1598.8 816.9L1599.6 817.1L1600.4 819.2L1601.3 818.3L1602.1 817.7L1602.9 817.9L1603.8 818.6L1604.6 818.4L1605.4 816.3L1606.3 818.0L1607.1 817.5L1607.9 815.8L1608.8 818.1L1609.6 819.3L1610.4 816.9L1611.2 815.8L1612.1 818.1L1612.9 817.4L1613.7 817.5L1614.6 817.1L1615.4 817.1L1616.2 817.8L1617.1 817.9L1617.9 818.0L1618.7 817.5L1619.6 816.6L1620.4 817.3L1621.2 817.7L1622.1 818.1L1622.9 817.0L1623.7 818.7L1624.5 817.4L1625.4 816.6L1626.2 818.4L1627.0 816.3L1627.9 819.0L1628.7 817.4L1629.5 817.7L1630.4 816.4L1631.2 817.0L1632.0 817.2L1632.9 816.7L1633.7 818.6L1634.5 817.7L1635.4 817.3L1636.2 819.0L1637.0 817.2L1637.8 816.3L1638.7 818.4L1639.5 817.3L1640.3 817.7L1641.2 818.9L1642.0 817.7L1642.8 818.3L1643.7 816.4L1644.5 816.9L1645.3 817.5L1646.2 816.7L1647.0 817.2L1647.8 817.3L1648.6 819.6L1649.5 816.7L1650.3 818.0L1651.1 817.9L1652.0 816.9L1652.8 817.6L1653.6 817.6L1654.5 817.8L1655.3 815.5L1656.1 818.0L1657.0 817.0L1657.8 818.2L1658.6 818.5L1659.5 817.2L1660.3 816.4L1661.1 818.0L1661.9 817.4L1662.8 815.5L1663.6 818.8L1664.4 816.8L1665.3 816.0L1666.1 818.0L1666.9 816.3L1667.8 816.3L1668.6 820.4L1669.4 816.5L1670.3 817.9L1671.1 817.1L1671.9 815.2L1672.8 815.4L1673.6 817.6L1674.4 817.4L1675.2 819.8L1676.1 817.5L1676.9 817.0L1677.7 815.5L1678.6 816.9L1679.4 817.5L1680.2 817.3L1681.1 817.0L1681.9 817.4L1682.7 817.4L1683.6 817.1L1684.4 815.9L1685.2 818.3L1686.1 817.1L1686.9 817.8L1687.7 817.8L1688.5 817.4L1689.4 818.1L1690.2 818.1L1691.0 817.5L1691.9 817.5L1692.7 817.0L1693.5 818.2L1694.4 816.9L1695.2 816.1L1696.0 816.5L1696.9 818.1L1697.7 816.3L1698.5 817.4L1699.4 817.2L1700.2 816.8L1701.0 817.6L1701.8 815.4L1702.7 817.3L1703.5 817.6L1704.3 817.4L1705.2 818.0L1706.0 818.1L1706.8 815.8L1707.7 817.8L1708.5 818.2L1709.3 818.7L1710.2 818.3L1711.0 815.6L1711.8 816.8L1712.6 817.7L1713.5 817.2L1714.3 817.4L1715.1 818.7L1716.0 817.7L1716.8 816.8L1717.6 819.3L1718.5 818.2L1719.3 816.8L1720.1 819.0L1721.0 816.3L1721.8 817.4L1722.6 817.0L1723.5 816.8L1724.3 815.5L1725.1 816.1L1725.9 814.9L1726.8 817.5L1727.6 816.6L1728.4 816.4L1729.3 815.2L1730.1 817.0L1730.9 817.2L1731.8 817.8L1732.6 818.4L1733.4 818.2L1734.3 816.8L1735.1 817.1L1735.9 817.8L1736.8 818.0L1737.6 817.7L1738.4 818.4L1739.2 817.5L1740.1 818.1L1740.9 817.1L1741.7 816.9L1742.6 817.4L1743.4 817.6L1744.2 818.4L1745.1 817.2L1745.9 817.2L1746.7 817.6L1747.6 818.0L1748.4 816.4L1749.2 817.9L1750.1 816.7L1750.9 817.2L1751.7 819.4L1752.5 819.3L1753.4 816.9L1754.2 817.8L1755.0 818.4L1755.9 818.2L1756.7 817.0L1757.5 817.8L1758.4 818.7L1759.2 817.6L1760.0 818.5L1760.9 817.4L1761.7 816.9L1762.5 817.4L1763.4 816.7L1764.2 817.7L1765.0 817.3L1765.8 817.5L1766.7 815.7L1767.5 817.4L1768.3 818.0L1769.2 815.8L1770.0 816.2L1770.8 817.5L1771.7 817.1L1772.5 818.1L1773.3 816.6L1774.2 818.6L1775.0 817.0L1775.8 818.2L1776.6 817.1L1777.5 816.6L1778.3 817.8L1779.1 816.9L1780.0 817.0L1780.8 817.8L1781.6 818.2L1782.5 818.2L1783.3 818.5L1784.1 817.3L1785.0 819.7L1785.8 817.4L1786.6 818.2L1787.5 818.9L1788.3 817.5L1789.1 816.4L1789.9 817.7L1790.8 818.8L1791.6 817.4L1792.4 817.7L1793.3 816.1L1794.1 816.5L1794.9 818.0L1795.8 817.1L1796.6 818.0L1797.4 817.3L1798.3 817.5L1799.1 818.4L1799.9 817.0L1800.8 818.4L1801.6 817.2L1802.4 817.5L1803.2 817.2L1804.1 817.8L1804.9 818.1L1805.7 817.4L1806.6 819.0L1807.4 816.4L1808.2 817.3L1809.1 816.6L1809.9 817.9L1810.7 817.5L1811.6 818.2L1812.4 817.6L1813.2 815.5L1814.1 817.7L1814.9 819.6L1815.7 817.7L1816.5 817.3L1817.4 817.4L1818.2 819.1L1819.0 816.4L1819.9 815.3L1820.7 819.0L1821.5 817.1L1822.4 818.3L1823.2 817.3L1824.0 819.0L1824.9 819.1L1825.7 817.4L1826.5 817.5L1827.4 818.0L1828.2 816.9L1829.0 817.2L1829.8 817.2L1830.7 818.4L1831.5 818.1L1832.3 816.1L1833.2 817.2L1834.0 816.8L1834.8 816.1L1835.7 816.0L1836.5 817.4L1837.3 816.6L1838.2 818.0L1839.0 817.7L1839.8 816.2L1840.6 818.5L1841.5 817.0L1842.3 817.1L1843.1 817.1L1844.0 818.0L1844.8 818.8L1845.6 816.3L1846.5 817.8L1847.3 816.4L1848.1 818.7L1849.0 816.8L1849.8 817.5L1850.6 819.1L1851.5 817.2L1852.3 816.2L1853.1 816.5L1853.9 815.3L1854.8 817.7L1855.6 816.4L1856.4 817.4" fill="none" stroke="#ff00ff" stroke-width="4.0" stroke-linejoin="round" stroke-linecap="round"/>
<path d="M1399.3 624.3L1400.1 623.0L1401.0 625.0L1401.8 622.3L1402.6 621.2L1403.5 623.8L1404.3 624.8L1405.1 626.0L1405.9 624.4L1406.8 625.2L1407.6 624.0L1408.4 625.7L1409.3 623.6L1410.1 623.6L1410.9 627.0L1411.8 625.9L1412.6 626.3L1413.4 628.1L1414.3 630.2L1415.1 632.3L1415.9 634.0L1416.8 636.1L1417.6 639.1L1418.4 641.6L1419.2 643.6L1420.1 645.6L1420.9 650.3L1421.7 654.7L1422.6 656.9L1423.4 659.2L1424.2 664.9L1425.1 667.6L1425.9 670.9L1426.7 672.8L1427.6 676.9L1428.4 678.9L1429.2 680.3L1430.1 683.5L1430.9 685.5L1431.7 687.1L1432.5 689.3L1433.4 689.4L1434.2 692.1L1435.0 693.8L1435.9 694.6L1436.7 696.8L1437.5 696.0L1438.4 699.8L1439.2 699.8L1440.0 699.2L1440.9 702.1L1441.7 702.8L1442.5 702.3L1443.4 704.9L1444.2 705.1L1445.0 706.8L1445.8 707.6L1446.7 706.4L1447.5 709.6L1448.3 709.4L1449.2 711.3L1450.0 710.1L1450.8 712.7L1451.7 712.7L1452.5 712.0L1453.3 712.6L1454.2 713.5L1455.0 713.9L1455.8 714.6L1456.7 712.8L1457.5 712.5L1458.3 715.6L1459.1 714.7L1460.0 712.9L1460.8 713.4L1461.6 711.8L1462.5 711.1L1463.3 712.0L1464.1 713.5L1465.0 712.3L1465.8 711.1L1466.6 713.6L1467.5 711.2L1468.3 713.4L1469.1 713.4L1469.9 714.6L1470.8 716.6L1471.6 717.9L1472.4 719.6L1473.3 719.8L1474.1 721.2L1474.9 722.6L1475.8 725.8L1476.6 728.4L1477.4 728.8L1478.3 730.9L1479.1 730.4L1479.9 731.2L1480.8 735.3L1481.6 738.8L1482.4 740.5L1483.2 741.2L1484.1 742.8L1484.9 745.0L1485.7 744.7L1486.6 749.0L1487.4 752.2L1488.2 752.3L1489.1 755.2L1489.9 758.2L1490.7 756.6L1491.6 761.3L1492.4 763.2L1493.2 764.8L1494.1 766.5L1494.9 769.6L1495.7 768.8L1496.5 771.7L1497.4 775.6L1498.2 776.7L1499.0 777.5L1499.9 778.9L1500.7 779.4L1501.5 780.9L1502.4 782.7L1503.2 785.6L1504.0 785.8L1504.9 785.3L1505.7 787.3L1506.5 788.3L1507.4 789.3L1508.2 789.9L1509.0 791.1L1509.8 792.5L1510.7 792.7L1511.5 792.8L1512.3 793.7L1513.2 795.4L1514.0 796.2L1514.8 794.8L1515.7 798.8L1516.5 796.9L1517.3 798.5L1518.2 798.2L1519.0 797.5L1519.8 799.6L1520.7 800.8L1521.5 799.0L1522.3 800.1L1523.1 799.5L1524.0 800.1L1524.8 799.7L1525.6 800.1L1526.5 802.3L1527.3 800.7L1528.1 800.7L1529.0 800.9L1529.8 801.0L1530.6 801.9L1531.5 801.8L1532.3 801.8L1533.1 801.9L1533.9 802.5L1534.8 803.0L1535.6 802.5L1536.4 799.6L1537.3 802.6L1538.1 799.3L1538.9 800.3L1539.8 802.6L1540.6 803.9L1541.4 801.8L1542.3 801.9L1543.1 803.1L1543.9 802.7L1544.8 803.7L1545.6 803.0L1546.4 801.1L1547.2 803.5L1548.1 804.7L1548.9 802.4L1549.7 803.0L1550.6 802.4L1551.4 803.3L1552.2 804.4L1553.1 804.0L1553.9 804.7L1554.7 803.6L1555.6 803.0L1556.4 803.8L1557.2 804.2L1558.1 805.2L1558.9 803.6L1559.7 804.3L1560.5 804.3L1561.4 804.3L1562.2 805.0L1563.0 804.2L1563.9 806.1L1564.7 804.2L1565.5 803.7L1566.4 805.2L1567.2 803.8L1568.0 803.6L1568.9 803.8L1569.7 806.0L1570.5 805.3L1571.4 804.4L1572.2 805.5L1573.0 804.3L1573.8 804.6L1574.7 806.6L1575.5 807.3L1576.3 806.1L1577.2 805.6L1578.0 805.3L1578.8 806.0L1579.7 806.2L1580.5 805.5L1581.3 806.2L1582.2 806.9L1583.0 805.1L1583.8 806.4L1584.7 805.9L1585.5 807.8L1586.3 807.2L1587.1 807.5L1588.0 806.4L1588.8 808.6L1589.6 808.7L1590.5 809.9L1591.3 806.8L1592.1 806.6L1593.0 806.6L1593.8 809.0L1594.6 808.7L1595.5 807.6L1596.3 807.8L1597.1 807.5L1597.9 808.2L1598.8 810.2L1599.6 809.4L1600.4 809.9L1601.3 808.4L1602.1 808.3L1602.9 808.6L1603.8 809.7L1604.6 807.7L1605.4 807.9L1606.3 807.9L1607.1 807.7L1607.9 809.3L1608.8 808.8L1609.6 810.1L1610.4 807.5L1611.2 810.0L1612.1 808.5L1612.9 809.9L1613.7 809.9L1614.6 809.9L1615.4 808.9L1616.2 807.3L1617.1 809.8L1617.9 809.1L1618.7 807.8L1619.6 808.6L1620.4 809.5L1621.2 809.2L1622.1 810.2L1622.9 809.4L1623.7 810.0L1624.5 809.0L1625.4 810.1L1626.2 808.7L1627.0 809.2L1627.9 808.3L1628.7 807.4L1629.5 808.1L1630.4 808.6L1631.2 808.1L1632.0 807.2L1632.9 807.8L1633.7 807.3L1634.5 807.2L1635.4 808.8L1636.2 807.1L1637.0 805.9L1637.8 806.5L1638.7 807.1L1639.5 806.9L1640.3 808.5L1641.2 805.4L1642.0 803.7L1642.8 804.9L1643.7 805.1L1644.5 803.4L1645.3 804.6L1646.2 805.4L1647.0 803.7L1647.8 801.6L1648.6 801.3L1649.5 800.1L1650.3 799.4L1651.1 798.5L1652.0 798.2L1652.8 797.9L1653.6 795.9L1654.5 794.9L1655.3 794.3L1656.1 796.1L1657.0 795.3L1657.8 792.3L1658.6 791.6L1659.5 787.0L1660.3 787.7L1661.1 788.6L1661.9 785.7L1662.8 787.0L1663.6 785.2L1664.4 784.7L1665.3 783.7L1666.1 782.4L1666.9 781.5L1667.8 781.7L1668.6 779.7L1669.4 777.6L1670.3 777.8L1671.1 778.5L1671.9 775.8L1672.8 776.0L1673.6 773.8L1674.4 773.9L1675.2 772.6L1676.1 771.7L1676.9 771.2L1677.7 770.2L1678.6 769.2L1679.4 767.9L1680.2 767.0L1681.1 766.8L1681.9 765.6L1682.7 765.9L1683.6 761.9L1684.4 763.5L1685.2 761.4L1686.1 763.2L1686.9 760.4L1687.7 761.0L1688.5 760.8L1689.4 760.8L1690.2 760.5L1691.0 760.8L1691.9 762.1L1692.7 760.8L1693.5 760.0L1694.4 760.1L1695.2 760.7L1696.0 760.6L1696.9 763.3L1697.7 761.7L1698.5 762.4L1699.4 764.1L1700.2 764.8L1701.0 764.3L1701.8 765.1L1702.7 766.4L1703.5 766.8L1704.3 766.4L1705.2 768.3L1706.0 767.1L1706.8 769.0L1707.7 769.7L1708.5 767.9L1709.3 771.3L1710.2 772.3L1711.0 773.1L1711.8 774.6L1712.6 772.9L1713.5 776.1L1714.3 774.9L1715.1 777.3L1716.0 776.5L1716.8 778.4L1717.6 778.2L1718.5 779.1L1719.3 779.6L1720.1 779.5L1721.0 780.5L1721.8 781.6L1722.6 780.8L1723.5 782.3L1724.3 782.3L1725.1 784.2L1725.9 782.7L1726.8 785.2L1727.6 787.2L1728.4 783.7L1729.3 786.5L1730.1 786.3L1730.9 786.2L1731.8 786.5L1732.6 786.4L1733.4 786.6L1734.3 787.4L1735.1 787.3L1735.9 788.3L1736.8 788.7L1737.6 788.4L1738.4 789.4L1739.2 787.9L1740.1 790.1L1740.9 789.8L1741.7 790.1L1742.6 788.2L1743.4 792.4L1744.2 790.5L1745.1 791.0L1745.9 791.9L1746.7 791.0L1747.6 791.7L1748.4 791.0L1749.2 793.1L1750.1 792.1L1750.9 792.3L1751.7 793.3L1752.5 793.6L1753.4 794.7L1754.2 794.1L1755.0 795.6L1755.9 794.4L1756.7 795.6L1757.5 795.7L1758.4 794.4L1759.2 794.9L1760.0 795.3L1760.9 796.3L1761.7 798.5L1762.5 797.9L1763.4 799.1L1764.2 797.6L1765.0 799.2L1765.8 798.3L1766.7 798.4L1767.5 797.5L1768.3 800.4L1769.2 799.9L1770.0 799.4L1770.8 801.4L1771.7 801.7L1772.5 799.8L1773.3 800.9L1774.2 800.7L1775.0 801.2L1775.8 802.0L1776.6 803.9L1777.5 801.8L1778.3 802.7L1779.1 802.8L1780.0 801.6L1780.8 803.8L1781.6 802.6L1782.5 804.0L1783.3 803.3L1784.1 803.4L1785.0 803.9L1785.8 806.7L1786.6 803.1L1787.5 804.9L1788.3 805.3L1789.1 805.7L1789.9 804.5L1790.8 806.0L1791.6 807.1L1792.4 807.1L1793.3 805.1L1794.1 806.4L1794.9 806.3L1795.8 807.4L1796.6 805.7L1797.4 806.1L1798.3 806.9L1799.1 807.6L1799.9 805.0L1800.8 807.5L1801.6 808.3L1802.4 807.7L1803.2 806.1L1804.1 807.1L1804.9 807.4L1805.7 808.0L1806.6 808.2L1807.4 807.1L1808.2 807.9L1809.1 807.7L1809.9 807.8L1810.7 809.2L1811.6 806.3L1812.4 808.8L1813.2 807.5L1814.1 806.7L1814.9 809.0L1815.7 808.8L1816.5 809.2L1817.4 809.2L1818.2 810.1L1819.0 809.0L1819.9 809.3L1820.7 808.4L1821.5 809.7L1822.4 809.6L1823.2 807.6L1824.0 807.9L1824.9 808.7L1825.7 808.8L1826.5 810.4L1827.4 808.9L1828.2 808.0L1829.0 808.7L1829.8 809.0L1830.7 810.6L1831.5 809.9L1832.3 809.4L1833.2 808.9L1834.0 809.6L1834.8 810.8L1835.7 810.0L1836.5 810.5L1837.3 810.1L1838.2 808.8L1839.0 809.6L1839.8 810.1L1840.6 810.2L1841.5 809.1L1842.3 811.3L1843.1 810.9L1844.0 811.0L1844.8 810.4L1845.6 811.2L1846.5 811.5L1847.3 809.9L1848.1 810.7L1849.0 811.2L1849.8 809.7L1850.6 809.8L1851.5 809.9L1852.3 811.1L1853.1 809.9L1853.9 810.7L1854.8 810.8L1855.6 811.0L1856.4 811.2" fill="none" stroke="#ff0000" stroke-width="4.0" stroke-linejoin="round" stroke-linecap="round"/>
<path d="M1399.3 590.1L1400.1 588.5L1401.0 587.7L1401.8 588.5L1402.6 587.6L1403.5 585.5L1404.3 584.5L1405.1 581.0L1405.9 579.9L1406.8 578.1L1407.6 576.1L1408.4 572.9L1409.3 570.4L1410.1 567.8L1410.9 563.3L1411.8 560.7L1412.6 560.1L1413.4 556.4L1414.3 553.8L1415.1 554.9L1415.9 552.5L1416.8 553.0L1417.6 556.2L1418.4 558.5L1419.2 561.3L1420.1 564.0L1420.9 571.1L1421.7 575.9L1422.6 581.5L1423.4 584.4L1424.2 588.6L1425.1 593.8L1425.9 596.4L1426.7 595.9L1427.6 600.4L1428.4 603.4L1429.2 604.3L1430.1 606.1L1430.9 609.2L1431.7 609.4L1432.5 612.0L1433.4 616.1L1434.2 618.1L1435.0 620.5L1435.9 625.2L1436.7 627.5L1437.5 629.7L1438.4 633.9L1439.2 636.3L1440.0 640.8L1440.9 644.5L1441.7 647.6L1442.5 653.0L1443.4 657.2L1444.2 663.7L1445.0 669.6L1445.8 672.0L1446.7 678.0L1447.5 682.6L1448.3 685.7L1449.2 689.5L1450.0 695.7L1450.8 697.1L1451.7 699.3L1452.5 701.2L1453.3 703.2L1454.2 703.0L1455.0 703.8L1455.8 699.8L1456.7 700.4L1457.5 696.9L1458.3 697.3L1459.1 696.4L1460.0 694.2L1460.8 690.9L1461.6 688.5L1462.5 689.2L1463.3 686.3L1464.1 684.9L1465.0 682.3L1465.8 682.8L1466.6 680.2L1467.5 679.2L1468.3 677.7L1469.1 679.2L1469.9 678.4L1470.8 679.8L1471.6 679.1L1472.4 678.4L1473.3 679.1L1474.1 682.6L1474.9 684.8L1475.8 686.6L1476.6 688.6L1477.4 692.5L1478.3 696.0L1479.1 699.1L1479.9 702.9L1480.8 703.8L1481.6 704.9L1482.4 708.9L1483.2 711.4L1484.1 713.9L1484.9 718.8L1485.7 719.8L1486.6 722.9L1487.4 724.8L1488.2 727.4L1489.1 730.3L1489.9 732.1L1490.7 733.7L1491.6 735.0L1492.4 737.0L1493.2 738.3L1494.1 741.5L1494.9 744.7L1495.7 746.2L1496.5 747.9L1497.4 750.8L1498.2 753.3L1499.0 756.0L1499.9 757.6L1500.7 760.7L1501.5 764.2L1502.4 765.2L1503.2 767.7L1504.0 769.6L1504.9 770.9L1505.7 771.9L1506.5 777.0L1507.4 777.5L1508.2 780.7L1509.0 782.2L1509.8 782.1L1510.7 784.8L1511.5 785.4L1512.3 786.1L1513.2 786.9L1514.0 788.2L1514.8 788.5L1515.7 790.1L1516.5 792.3L1517.3 790.3L1518.2 790.3L1519.0 792.4L1519.8 793.9L1520.7 793.7L1521.5 795.2L1522.3 795.4L1523.1 796.3L1524.0 794.4L1524.8 796.3L1525.6 795.9L1526.5 795.1L1527.3 797.3L1528.1 797.9L1529.0 799.3L1529.8 795.2L1530.6 796.4L1531.5 798.5L1532.3 799.6L1533.1 798.5L1533.9 798.6L1534.8 798.7L1535.6 799.1L1536.4 798.0L1537.3 797.9L1538.1 799.9L1538.9 800.0L1539.8 800.2L1540.6 799.9L1541.4 800.4L1542.3 800.0L1543.1 799.3L1543.9 800.4L1544.8 800.9L1545.6 800.6L1546.4 802.1L1547.2 801.6L1548.1 802.0L1548.9 799.4L1549.7 801.5L1550.6 799.3L1551.4 801.0L1552.2 802.9L1553.1 803.6L1553.9 800.8L1554.7 802.1L1555.6 800.4L1556.4 800.1L1557.2 801.5L1558.1 802.0L1558.9 801.7L1559.7 800.5L1560.5 801.5L1561.4 801.1L1562.2 802.1L1563.0 801.0L1563.9 803.7L1564.7 801.5L1565.5 804.2L1566.4 803.8L1567.2 802.0L1568.0 802.1L1568.9 803.8L1569.7 803.3L1570.5 802.0L1571.4 802.6L1572.2 801.5L1573.0 802.7L1573.8 802.3L1574.7 802.5L1575.5 803.3L1576.3 801.6L1577.2 802.4L1578.0 803.9L1578.8 801.4L1579.7 801.4L1580.5 801.1L1581.3 801.3L1582.2 800.6L1583.0 801.5L1583.8 803.6L1584.7 802.3L1585.5 803.2L1586.3 803.5L1587.1 802.5L1588.0 804.3L1588.8 805.3L1589.6 803.9L1590.5 806.2L1591.3 803.5L1592.1 804.1L1593.0 804.5L1593.8 805.7L1594.6 805.8L1595.5 804.8L1596.3 805.2L1597.1 804.7L1597.9 804.4L1598.8 804.2L1599.6 806.1L1600.4 805.3L1601.3 804.6L1602.1 805.8L1602.9 806.2L1603.8 805.7L1604.6 804.2L1605.4 805.4L1606.3 805.0L1607.1 805.5L1607.9 805.2L1608.8 806.1L1609.6 806.4L1610.4 806.5L1611.2 805.2L1612.1 806.7L1612.9 805.5L1613.7 806.0L1614.6 804.8L1615.4 804.7L1616.2 805.9L1617.1 805.7L1617.9 804.4L1618.7 805.6L1619.6 805.5L1620.4 802.3L1621.2 804.6L1622.1 804.9L1622.9 804.1L1623.7 801.8L1624.5 802.2L1625.4 802.7L1626.2 802.0L1627.0 800.0L1627.9 801.2L1628.7 799.1L1629.5 798.8L1630.4 798.8L1631.2 797.4L1632.0 796.3L1632.9 795.6L1633.7 794.8L1634.5 794.0L1635.4 793.8L1636.2 794.5L1637.0 791.8L1637.8 789.7L1638.7 789.6L1639.5 788.5L1640.3 788.0L1641.2 785.0L1642.0 783.7L1642.8 783.1L1643.7 781.1L1644.5 778.1L1645.3 777.6L1646.2 775.3L1647.0 771.9L1647.8 770.4L1648.6 769.9L1649.5 766.5L1650.3 764.1L1651.1 761.9L1652.0 759.9L1652.8 756.3L1653.6 755.3L1654.5 751.1L1655.3 748.8L1656.1 745.8L1657.0 742.5L1657.8 741.5L1658.6 736.9L1659.5 732.7L1660.3 729.2L1661.1 727.2L1661.9 723.7L1662.8 719.5L1663.6 716.2L1664.4 712.6L1665.3 708.4L1666.1 702.8L1666.9 702.4L1667.8 696.4L1668.6 692.6L1669.4 688.6L1670.3 685.8L1671.1 680.8L1671.9 678.8L1672.8 672.9L1673.6 669.0L1674.4 666.4L1675.2 660.7L1676.1 659.8L1676.9 654.1L1677.7 652.6L1678.6 648.9L1679.4 643.1L1680.2 639.6L1681.1 637.6L1681.9 634.8L1682.7 631.4L1683.6 628.7L1684.4 625.6L1685.2 622.7L1686.1 620.6L1686.9 617.5L1687.7 615.9L1688.5 615.7L1689.4 612.6L1690.2 614.3L1691.0 611.8L1691.9 612.0L1692.7 612.5L1693.5 611.6L1694.4 612.7L1695.2 615.4L1696.0 616.1L1696.9 616.1L1697.7 619.2L1698.5 621.5L1699.4 624.8L1700.2 627.3L1701.0 631.9L1701.8 634.6L1702.7 638.7L1703.5 643.5L1704.3 645.6L1705.2 648.1L1706.0 651.8L1706.8 655.3L1707.7 657.7L1708.5 662.8L1709.3 664.9L1710.2 667.8L1711.0 670.1L1711.8 673.5L1712.6 675.9L1713.5 679.5L1714.3 684.1L1715.1 685.9L1716.0 688.9L1716.8 692.4L1717.6 694.6L1718.5 697.0L1719.3 699.2L1720.1 703.3L1721.0 704.3L1721.8 707.2L1722.6 708.4L1723.5 712.3L1724.3 712.0L1725.1 715.3L1725.9 716.5L1726.8 718.3L1727.6 720.2L1728.4 719.6L1729.3 722.1L1730.1 722.2L1730.9 724.0L1731.8 726.1L1732.6 727.2L1733.4 730.0L1734.3 730.9L1735.1 731.1L1735.9 733.2L1736.8 733.5L1737.6 733.0L1738.4 736.2L1739.2 735.4L1740.1 735.2L1740.9 735.9L1741.7 736.6L1742.6 739.2L1743.4 740.1L1744.2 740.5L1745.1 742.3L1745.9 744.2L1746.7 744.2L1747.6 744.7L1748.4 745.0L1749.2 746.1L1750.1 747.2L1750.9 749.1L1751.7 751.2L1752.5 751.9L1753.4 751.7L1754.2 754.6L1755.0 755.2L1755.9 756.3L1756.7 759.5L1757.5 758.6L1758.4 760.5L1759.2 764.6L1760.0 762.3L1760.9 764.3L1761.7 766.2L1762.5 767.1L1763.4 769.0L1764.2 769.5L1765.0 770.4L1765.8 772.9L1766.7 773.5L1767.5 774.3L1768.3 775.4L1769.2 777.1L1770.0 777.2L1770.8 778.8L1771.7 780.3L1772.5 781.5L1773.3 778.9L1774.2 783.2L1775.0 781.6L1775.8 783.8L1776.6 785.5L1777.5 787.2L1778.3 784.9L1779.1 785.7L1780.0 786.9L1780.8 789.1L1781.6 787.9L1782.5 790.4L1783.3 790.6L1784.1 789.8L1785.0 789.8L1785.8 792.3L1786.6 790.2L1787.5 792.8L1788.3 794.5L1789.1 793.2L1789.9 793.8L1790.8 792.6L1791.6 794.7L1792.4 796.7L1793.3 795.7L1794.1 796.8L1794.9 795.1L1795.8 795.8L1796.6 797.3L1797.4 798.2L1798.3 797.6L1799.1 797.6L1799.9 796.2L1800.8 798.6L1801.6 798.9L1802.4 799.6L1803.2 799.4L1804.1 798.9L1804.9 800.0L1805.7 801.1L1806.6 800.9L1807.4 801.4L1808.2 798.5L1809.1 802.1L1809.9 799.2L1810.7 801.9L1811.6 801.8L1812.4 802.7L1813.2 802.8L1814.1 803.2L1814.9 801.9L1815.7 802.1L1816.5 803.9L1817.4 802.7L1818.2 802.2L1819.0 803.1L1819.9 804.5L1820.7 806.0L1821.5 804.4L1822.4 804.6L1823.2 803.6L1824.0 805.9L1824.9 804.3L1825.7 805.2L1826.5 805.3L1827.4 804.0L1828.2 805.3L1829.0 805.9L1829.8 807.5L1830.7 804.4L1831.5 803.7L1832.3 806.8L1833.2 807.0L1834.0 807.4L1834.8 805.3L1835.7 807.8L1836.5 805.6L1837.3 806.4L1838.2 805.2L1839.0 807.9L1839.8 806.7L1840.6 807.0L1841.5 808.9L1842.3 807.6L1843.1 807.1L1844.0 808.7L1844.8 807.0L1845.6 806.9L1846.5 808.2L1847.3 808.2L1848.1 808.5L1849.0 808.3L1849.8 808.9L1850.6 808.0L1851.5 807.8L1852.3 809.9L1853.1 807.5L1853.9 807.9L1854.8 807.1L1855.6 810.8L1856.4 809.5" fill="none" stroke="#000" stroke-width="3.8" stroke-linejoin="round" stroke-linecap="round"/>
</g>
<line x1="1399.3" y1="454.8" x2="1898.5" y2="454.8" stroke="#a0a0a0" stroke-width="1.3" />
<line x1="1898.0" y1="454.8" x2="1898.0" y2="863.0" stroke="#a0a0a0" stroke-width="1.3" />
<line x1="1399.3" y1="454.0" x2="1399.3" y2="863.8" stroke="#000" stroke-width="2" />
<line x1="1398.3" y1="862.8" x2="1898.5" y2="862.8" stroke="#000" stroke-width="2" />
<line x1="1394.8" y1="862.8" x2="1399.3" y2="862.8" stroke="#000" stroke-width="1.8" />
<line x1="1391.3" y1="817.5" x2="1399.3" y2="817.5" stroke="#000" stroke-width="1.8" />
<line x1="1394.8" y1="772.1" x2="1399.3" y2="772.1" stroke="#000" stroke-width="1.8" />
<line x1="1391.3" y1="726.8" x2="1399.3" y2="726.8" stroke="#000" stroke-width="1.8" />
<line x1="1394.8" y1="681.5" x2="1399.3" y2="681.5" stroke="#000" stroke-width="1.8" />
<line x1="1391.3" y1="636.1" x2="1399.3" y2="636.1" stroke="#000" stroke-width="1.8" />
<line x1="1394.8" y1="590.8" x2="1399.3" y2="590.8" stroke="#000" stroke-width="1.8" />
<line x1="1391.3" y1="545.5" x2="1399.3" y2="545.5" stroke="#000" stroke-width="1.8" />
<line x1="1394.8" y1="500.1" x2="1399.3" y2="500.1" stroke="#000" stroke-width="1.8" />
<line x1="1391.3" y1="454.8" x2="1399.3" y2="454.8" stroke="#000" stroke-width="1.8" />
<line x1="1399.3" y1="862.8" x2="1399.3" y2="867.3" stroke="#000" stroke-width="1.8" />
<line x1="1440.9" y1="862.8" x2="1440.9" y2="870.8" stroke="#000" stroke-width="1.8" />
<line x1="1482.4" y1="862.8" x2="1482.4" y2="867.3" stroke="#000" stroke-width="1.8" />
<line x1="1524.0" y1="862.8" x2="1524.0" y2="870.8" stroke="#000" stroke-width="1.8" />
<line x1="1565.5" y1="862.8" x2="1565.5" y2="867.3" stroke="#000" stroke-width="1.8" />
<line x1="1607.1" y1="862.8" x2="1607.1" y2="870.8" stroke="#000" stroke-width="1.8" />
<line x1="1648.6" y1="862.8" x2="1648.6" y2="867.3" stroke="#000" stroke-width="1.8" />
<line x1="1690.2" y1="862.8" x2="1690.2" y2="870.8" stroke="#000" stroke-width="1.8" />
<line x1="1731.8" y1="862.8" x2="1731.8" y2="867.3" stroke="#000" stroke-width="1.8" />
<line x1="1773.3" y1="862.8" x2="1773.3" y2="870.8" stroke="#000" stroke-width="1.8" />
<line x1="1814.9" y1="862.8" x2="1814.9" y2="867.3" stroke="#000" stroke-width="1.8" />
<line x1="1856.4" y1="862.8" x2="1856.4" y2="870.8" stroke="#000" stroke-width="1.8" />
<line x1="1898.0" y1="862.8" x2="1898.0" y2="867.3" stroke="#000" stroke-width="1.8" />
<text x="1386.0" y="828.0" font-size="36" text-anchor="end" font-weight="bold" fill="#000" >0.0</text>
<text x="1386.0" y="737.3" font-size="36" text-anchor="end" font-weight="bold" fill="#000" >0.2</text>
<text x="1386.0" y="646.6" font-size="36" text-anchor="end" font-weight="bold" fill="#000" >0.4</text>
<text x="1386.0" y="556.0" font-size="36" text-anchor="end" font-weight="bold" fill="#000" >0.6</text>
<text x="1386.0" y="465.3" font-size="36" text-anchor="end" font-weight="bold" fill="#000" >0.8</text>
<text x="1440.9" y="905.5" font-size="36" text-anchor="middle" font-weight="bold" fill="#000" >300</text>
<text x="1524.0" y="905.5" font-size="36" text-anchor="middle" font-weight="bold" fill="#000" >400</text>
<text x="1607.1" y="905.5" font-size="36" text-anchor="middle" font-weight="bold" fill="#000" >500</text>
<text x="1690.2" y="905.5" font-size="36" text-anchor="middle" font-weight="bold" fill="#000" >600</text>
<text x="1773.3" y="905.5" font-size="36" text-anchor="middle" font-weight="bold" fill="#000" >700</text>
<text x="1856.4" y="905.5" font-size="36" text-anchor="middle" font-weight="bold" fill="#000" >800</text>
<text x="1649.0" y="945.5" font-size="36" text-anchor="middle" font-weight="bold" fill="#000" >Wavelength (nm)</text>
<text transform="translate(1320,645) rotate(-90)" font-size="36" font-weight="bold" text-anchor="middle">Abs</text>
<text x="1279.0" y="460.0" font-size="52" text-anchor="start" font-weight="bold" fill="#000" >i</text>
<line x1="1805.0" y1="470.0" x2="1853.5" y2="470.0" stroke="#000" stroke-width="4.4" />
<text x="1860.0" y="477.6" font-size="22.3" text-anchor="start" font-weight="bold" fill="#000" >0</text>
<line x1="1805.0" y1="497.7" x2="1853.5" y2="497.7" stroke="#ff0000" stroke-width="4.4" />
<text x="1860.0" y="505.3" font-size="22.3" text-anchor="start" font-weight="bold" fill="#000" >14h</text>
<line x1="1805.0" y1="525.4" x2="1853.5" y2="525.4" stroke="#0000ff" stroke-width="4.4" />
<text x="1860.0" y="533.0" font-size="22.3" text-anchor="start" font-weight="bold" fill="#000" >24h</text>
<line x1="1805.0" y1="553.1" x2="1853.5" y2="553.1" stroke="#ff00ff" stroke-width="4.4" />
<text x="1860.0" y="560.7" font-size="22.3" text-anchor="start" font-weight="bold" fill="#000" >28h</text>
</g>
</svg>
</body></html>
